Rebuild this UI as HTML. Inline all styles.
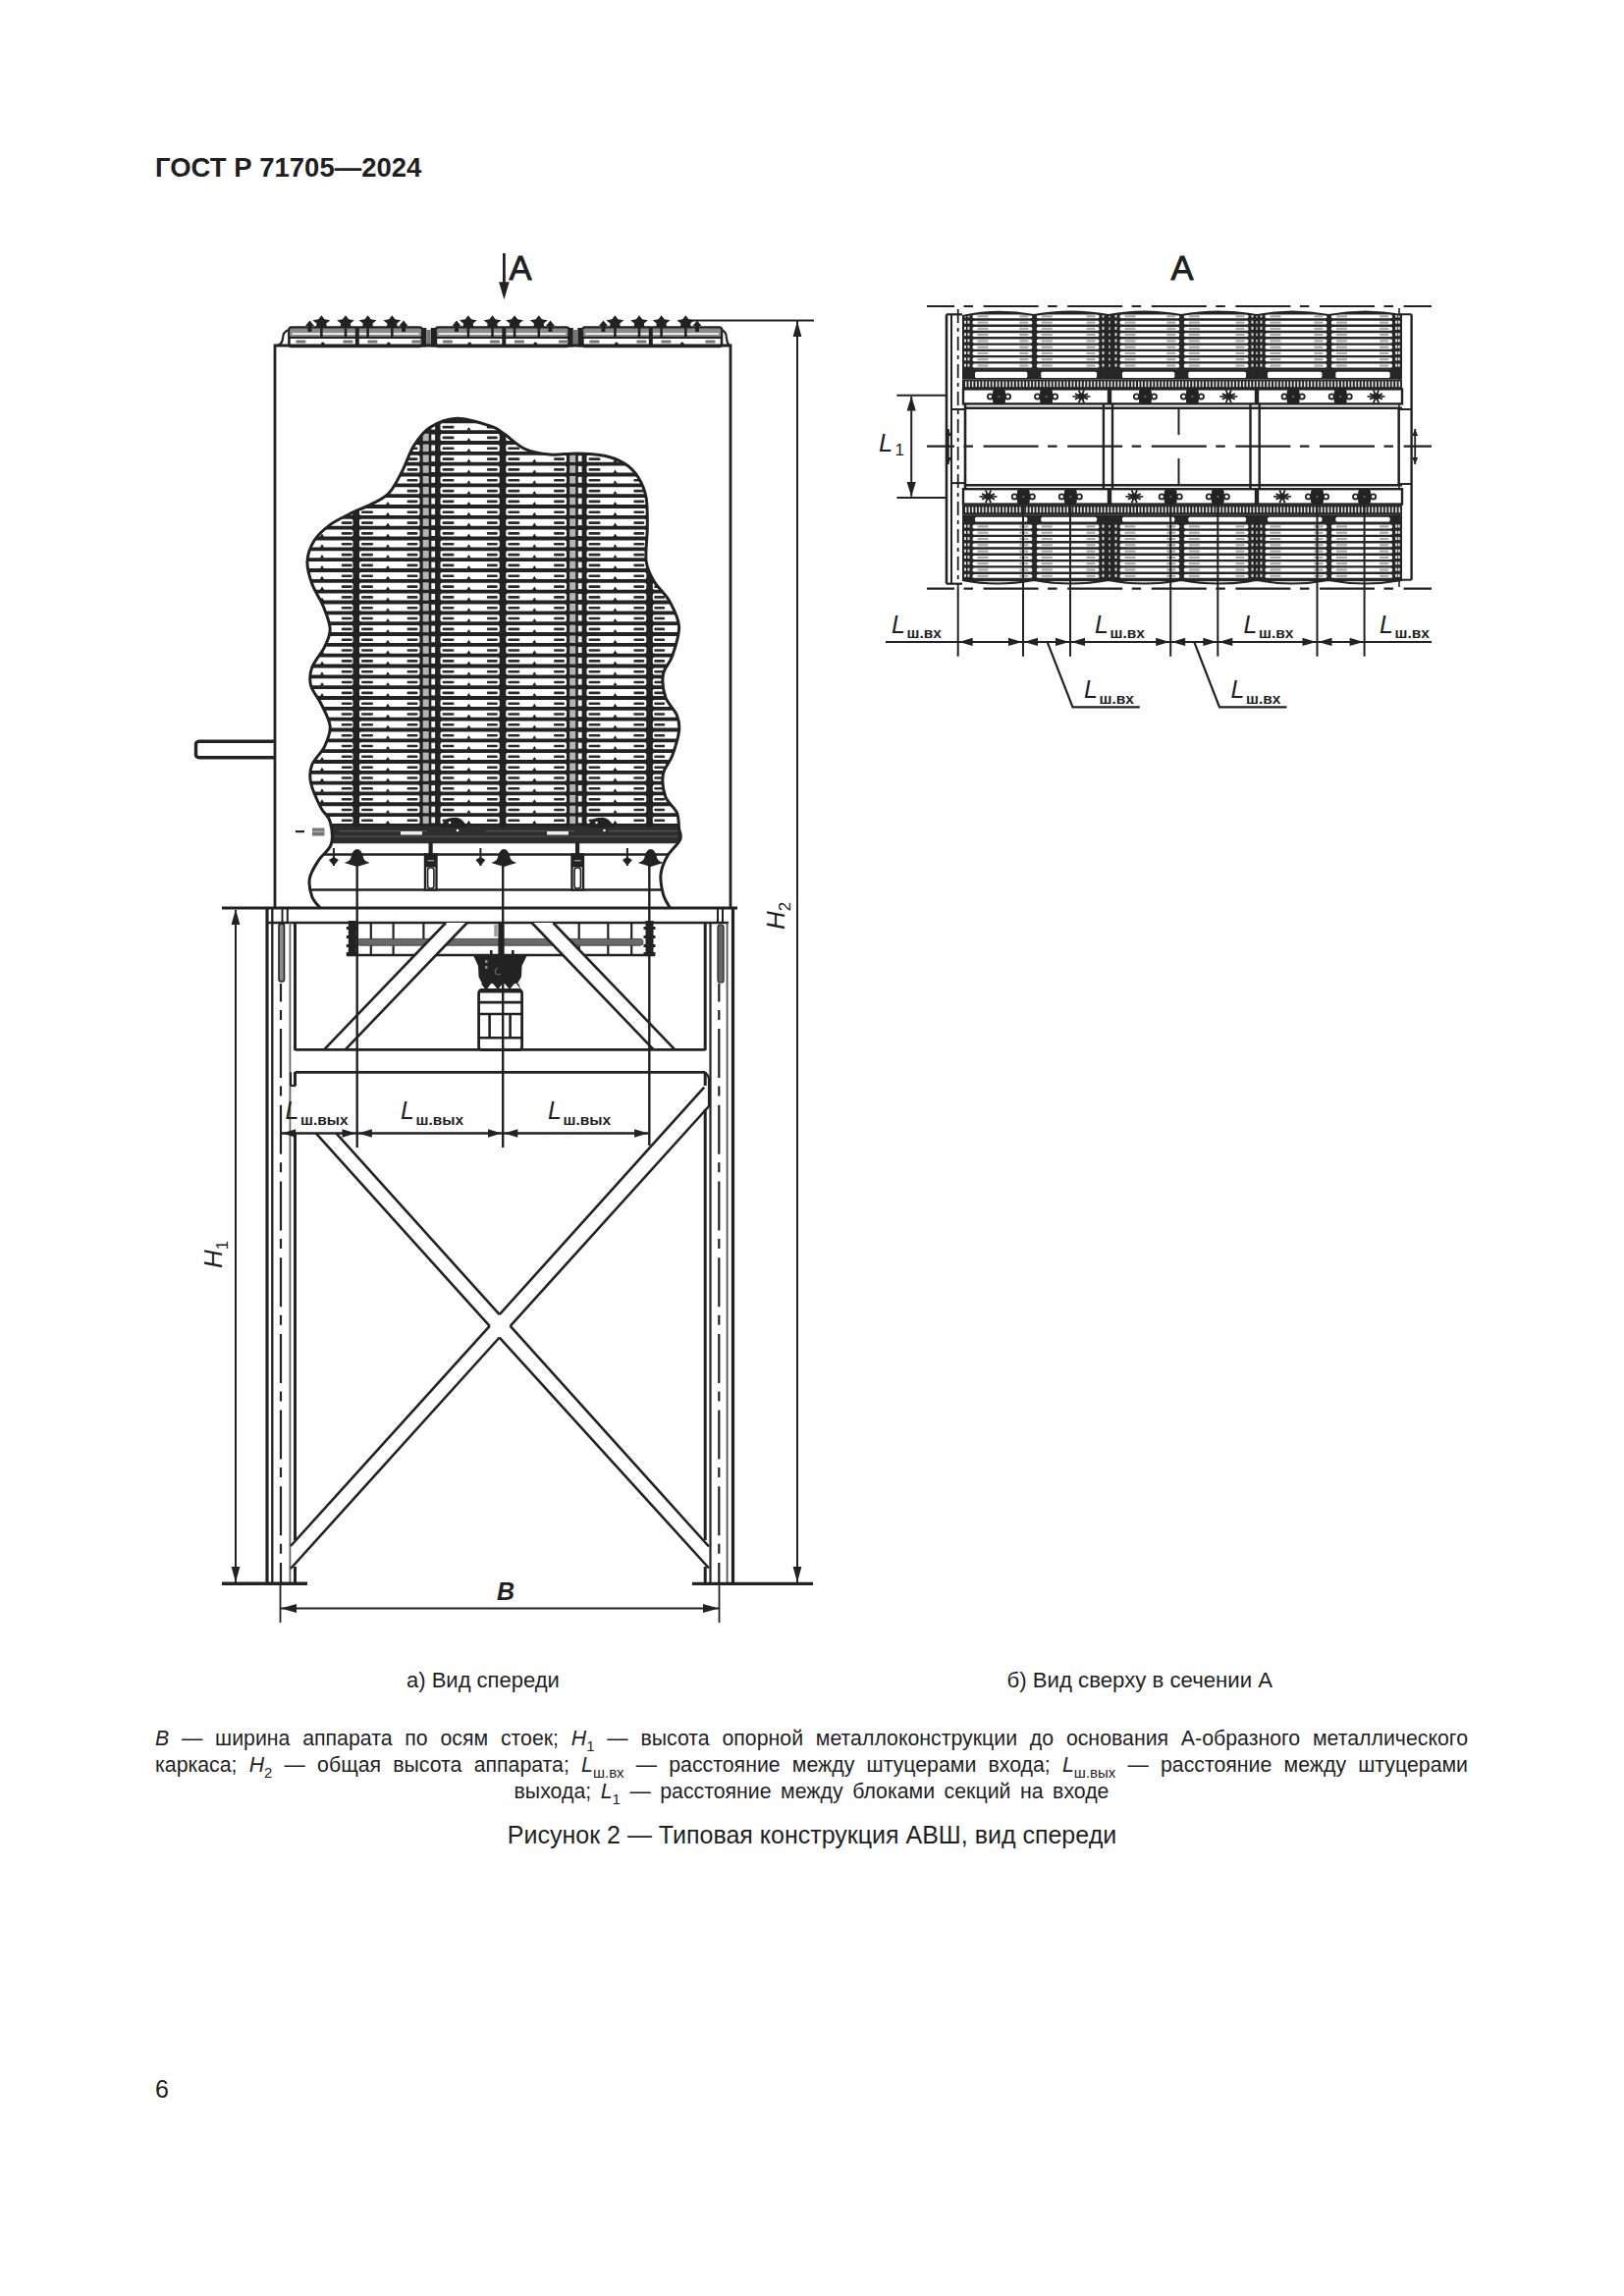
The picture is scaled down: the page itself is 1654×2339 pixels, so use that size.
<!DOCTYPE html>
<html><head><meta charset="utf-8">
<style>
html,body{margin:0;padding:0;background:#fff;}
body{width:1654px;height:2339px;position:relative;overflow:hidden;font-family:"Liberation Sans",sans-serif;color:#1f1f1f;}
svg{position:absolute;left:0;top:0;}
svg text{font-family:"Liberation Sans",sans-serif;fill:#1f1f1f;}
.t{position:absolute;white-space:nowrap;}
.p{position:absolute;left:158px;width:1337px;font-size:21.3px;line-height:27px;}
.p div{height:27px;white-space:nowrap;}
.c{word-spacing:3.6px;}
.j{text-align:justify;text-align-last:justify;white-space:normal!important;}
.c{text-align:center;}
sub{font-size:15px;vertical-align:baseline;position:relative;top:6px;line-height:0;}
</style></head><body>
<svg width="1654" height="2339" viewBox="0 0 1654 2339">
<line x1="513.4" y1="258.0" x2="513.4" y2="292.0" stroke="#222" stroke-width="2.8" />
<path d="M513.4,305.3 L508.1,287.3 L518.7,287.3 Z" fill="#222"/>
<text x="518.5" y="284.7" font-size="34.5" text-anchor="start" style="" stroke="#1f1f1f" stroke-width="0.9">A</text>
<clipPath id="cl"><path d="M325.8,924.7 C324.4,922.8 319.4,918.2 317.7,913.2 C316.0,908.2 314.2,900.9 315.4,894.7 C316.5,888.5 321.0,882.0 324.6,876.2 C328.2,870.4 335.4,866.5 337.3,860.0 C339.2,853.5 337.9,843.1 336.2,837.0 C334.5,830.9 330.3,829.6 327.0,823.1 C323.7,816.6 318.2,805.0 316.6,797.7 C315.1,790.4 315.4,785.4 317.7,779.3 C320.0,773.1 327.3,767.3 330.4,760.8 C333.5,754.2 336.8,747.3 336.2,740.0 C335.6,732.7 330.3,723.9 327.0,717.0 C323.7,710.1 318.2,704.7 316.6,698.5 C315.1,692.3 315.4,686.5 317.7,680.0 C320.0,673.5 327.3,665.8 330.4,659.3 C333.5,652.8 336.4,647.7 336.2,640.8 C336.0,633.9 332.4,625.4 329.3,617.7 C326.2,610.0 320.4,602.3 317.7,594.6 C315.0,586.9 312.6,578.9 313.0,571.6 C313.4,564.3 316.1,557.0 320.0,550.8 C323.9,544.6 330.0,539.2 336.2,534.6 C342.4,530.0 350.1,526.6 357.0,523.1 C363.9,519.6 371.2,517.4 377.7,513.9 C384.2,510.4 390.8,508.1 396.2,502.3 C401.6,496.5 405.8,487.3 410.0,479.2 C414.2,471.1 417.0,461.2 421.6,453.9 C426.2,446.6 430.5,440.0 437.8,435.4 C445.1,430.8 455.1,426.4 465.5,426.2 C475.9,426.0 491.9,431.5 500.0,434.2 C508.1,436.9 508.0,438.4 513.8,442.3 C519.6,446.2 526.9,453.8 534.6,457.3 C542.3,460.8 551.1,462.3 560.0,463.1 C568.9,463.9 578.5,461.7 587.7,461.9 C596.9,462.1 607.3,462.5 615.4,464.2 C623.5,465.9 630.4,468.6 636.2,472.3 C642.0,476.0 646.4,480.4 650.0,486.2 C653.6,492.0 656.6,498.4 658.1,506.9 C659.6,515.4 659.3,526.2 659.3,537.0 C659.3,547.8 657.0,562.4 658.1,571.6 C659.2,580.8 662.2,585.4 666.2,592.3 C670.2,599.2 678.1,605.4 682.3,613.1 C686.5,620.8 691.2,629.3 691.6,638.5 C692.0,647.7 687.3,660.4 684.6,668.5 C681.9,676.6 676.5,680.1 675.4,687.0 C674.2,693.9 675.4,703.1 677.7,710.0 C680.0,716.9 687.0,722.7 689.3,728.5 C691.6,734.3 692.4,737.8 691.6,744.7 C690.8,751.6 687.3,762.7 684.6,770.0 C681.9,777.3 676.5,781.6 675.4,788.5 C674.2,795.4 675.4,805.1 677.7,811.6 C680.0,818.1 687.0,822.3 689.3,827.7 C691.6,833.1 691.0,839.3 691.6,843.9 C692.2,848.5 694.6,850.9 692.7,855.5 C690.8,860.1 683.3,865.9 680.0,871.6 C676.7,877.4 673.9,883.5 673.1,890.0 C672.3,896.5 673.9,905.0 675.4,910.8 C676.9,916.6 681.1,922.4 682.3,924.7 Z"/></clipPath>
<g clip-path="url(#cl)">
<rect x="300.0" y="415.0" width="400.0" height="428.0" fill="#222" />
<rect x="301.0" y="420.5" width="58.5" height="7.0" rx="1.6" fill="#fff"/>
<rect x="347.7" y="423.0" width="11" height="2.6" rx="1.2" fill="#2a2a2a"/>
<path d="M325.8,427.8 L328.0,424.3 L330.2,427.8Z" fill="#222"/>
<rect x="366.0" y="420.5" width="61.5" height="7.0" rx="1.6" fill="#fff"/>
<rect x="368.0" y="423.0" width="12" height="2.6" rx="1.2" fill="#2a2a2a"/>
<rect x="414.5" y="423.0" width="11" height="2.6" rx="1.2" fill="#2a2a2a"/>
<path d="M392.8,427.8 L395.0,424.3 L397.2,427.8Z" fill="#222"/>
<rect x="448.5" y="420.5" width="60.3" height="7.0" rx="1.6" fill="#fff"/>
<rect x="450.5" y="423.0" width="12" height="2.6" rx="1.2" fill="#2a2a2a"/>
<rect x="495.8" y="423.0" width="11" height="2.6" rx="1.2" fill="#2a2a2a"/>
<path d="M475.3,427.8 L477.5,424.3 L479.7,427.8Z" fill="#222"/>
<rect x="515.3" y="420.5" width="61.7" height="7.0" rx="1.6" fill="#fff"/>
<rect x="517.3" y="423.0" width="12" height="2.6" rx="1.2" fill="#2a2a2a"/>
<rect x="564.0" y="423.0" width="11" height="2.6" rx="1.2" fill="#2a2a2a"/>
<path d="M542.1,427.8 L544.3,424.3 L546.5,427.8Z" fill="#222"/>
<rect x="597.5" y="420.5" width="60.8" height="7.0" rx="1.6" fill="#fff"/>
<rect x="599.5" y="423.0" width="12" height="2.6" rx="1.2" fill="#2a2a2a"/>
<rect x="645.3" y="423.0" width="11" height="2.6" rx="1.2" fill="#2a2a2a"/>
<path d="M624.3,427.8 L626.5,424.3 L628.7,427.8Z" fill="#222"/>
<rect x="664.8" y="420.5" width="39.2" height="7.0" rx="1.6" fill="#fff"/>
<rect x="666.2" y="423.0" width="11" height="2.6" rx="1.2" fill="#2a2a2a"/>
<rect x="301.0" y="431.3" width="58.5" height="7.0" rx="1.6" fill="#fff"/>
<rect x="347.7" y="433.8" width="11" height="2.6" rx="1.2" fill="#2a2a2a"/>
<path d="M325.8,438.6 L328.0,435.1 L330.2,438.6Z" fill="#222"/>
<rect x="366.0" y="431.3" width="61.5" height="7.0" rx="1.6" fill="#fff"/>
<rect x="368.0" y="433.8" width="12" height="2.6" rx="1.2" fill="#2a2a2a"/>
<rect x="414.5" y="433.8" width="11" height="2.6" rx="1.2" fill="#2a2a2a"/>
<path d="M392.8,438.6 L395.0,435.1 L397.2,438.6Z" fill="#222"/>
<rect x="448.5" y="431.3" width="60.3" height="7.0" rx="1.6" fill="#fff"/>
<rect x="450.5" y="433.8" width="12" height="2.6" rx="1.2" fill="#2a2a2a"/>
<rect x="495.8" y="433.8" width="11" height="2.6" rx="1.2" fill="#2a2a2a"/>
<path d="M475.3,438.6 L477.5,435.1 L479.7,438.6Z" fill="#222"/>
<rect x="515.3" y="431.3" width="61.7" height="7.0" rx="1.6" fill="#fff"/>
<rect x="517.3" y="433.8" width="12" height="2.6" rx="1.2" fill="#2a2a2a"/>
<rect x="564.0" y="433.8" width="11" height="2.6" rx="1.2" fill="#2a2a2a"/>
<path d="M542.1,438.6 L544.3,435.1 L546.5,438.6Z" fill="#222"/>
<rect x="597.5" y="431.3" width="60.8" height="7.0" rx="1.6" fill="#fff"/>
<rect x="599.5" y="433.8" width="12" height="2.6" rx="1.2" fill="#2a2a2a"/>
<rect x="645.3" y="433.8" width="11" height="2.6" rx="1.2" fill="#2a2a2a"/>
<path d="M624.3,438.6 L626.5,435.1 L628.7,438.6Z" fill="#222"/>
<rect x="664.8" y="431.3" width="39.2" height="7.0" rx="1.6" fill="#fff"/>
<rect x="666.2" y="433.8" width="11" height="2.6" rx="1.2" fill="#2a2a2a"/>
<rect x="301.0" y="442.1" width="58.5" height="7.0" rx="1.6" fill="#fff"/>
<rect x="347.7" y="444.6" width="11" height="2.6" rx="1.2" fill="#2a2a2a"/>
<path d="M325.8,449.5 L328.0,446.0 L330.2,449.5Z" fill="#222"/>
<rect x="366.0" y="442.1" width="61.5" height="7.0" rx="1.6" fill="#fff"/>
<rect x="368.0" y="444.6" width="12" height="2.6" rx="1.2" fill="#2a2a2a"/>
<rect x="414.5" y="444.6" width="11" height="2.6" rx="1.2" fill="#2a2a2a"/>
<path d="M392.8,449.5 L395.0,446.0 L397.2,449.5Z" fill="#222"/>
<rect x="448.5" y="442.1" width="60.3" height="7.0" rx="1.6" fill="#fff"/>
<rect x="450.5" y="444.6" width="12" height="2.6" rx="1.2" fill="#2a2a2a"/>
<rect x="495.8" y="444.6" width="11" height="2.6" rx="1.2" fill="#2a2a2a"/>
<path d="M475.3,449.5 L477.5,446.0 L479.7,449.5Z" fill="#222"/>
<rect x="515.3" y="442.1" width="61.7" height="7.0" rx="1.6" fill="#fff"/>
<rect x="517.3" y="444.6" width="12" height="2.6" rx="1.2" fill="#2a2a2a"/>
<rect x="564.0" y="444.6" width="11" height="2.6" rx="1.2" fill="#2a2a2a"/>
<path d="M542.1,449.5 L544.3,446.0 L546.5,449.5Z" fill="#222"/>
<rect x="597.5" y="442.1" width="60.8" height="7.0" rx="1.6" fill="#fff"/>
<rect x="599.5" y="444.6" width="12" height="2.6" rx="1.2" fill="#2a2a2a"/>
<rect x="645.3" y="444.6" width="11" height="2.6" rx="1.2" fill="#2a2a2a"/>
<path d="M624.3,449.5 L626.5,446.0 L628.7,449.5Z" fill="#222"/>
<rect x="664.8" y="442.1" width="39.2" height="7.0" rx="1.6" fill="#fff"/>
<rect x="666.2" y="444.6" width="11" height="2.6" rx="1.2" fill="#2a2a2a"/>
<rect x="301.0" y="452.9" width="58.5" height="7.0" rx="1.6" fill="#fff"/>
<rect x="347.7" y="455.5" width="11" height="2.6" rx="1.2" fill="#2a2a2a"/>
<path d="M325.8,460.3 L328.0,456.8 L330.2,460.3Z" fill="#222"/>
<rect x="366.0" y="452.9" width="61.5" height="7.0" rx="1.6" fill="#fff"/>
<rect x="368.0" y="455.5" width="12" height="2.6" rx="1.2" fill="#2a2a2a"/>
<rect x="414.5" y="455.5" width="11" height="2.6" rx="1.2" fill="#2a2a2a"/>
<path d="M392.8,460.3 L395.0,456.8 L397.2,460.3Z" fill="#222"/>
<rect x="448.5" y="452.9" width="60.3" height="7.0" rx="1.6" fill="#fff"/>
<rect x="450.5" y="455.5" width="12" height="2.6" rx="1.2" fill="#2a2a2a"/>
<rect x="495.8" y="455.5" width="11" height="2.6" rx="1.2" fill="#2a2a2a"/>
<path d="M475.3,460.3 L477.5,456.8 L479.7,460.3Z" fill="#222"/>
<rect x="515.3" y="452.9" width="61.7" height="7.0" rx="1.6" fill="#fff"/>
<rect x="517.3" y="455.5" width="12" height="2.6" rx="1.2" fill="#2a2a2a"/>
<rect x="564.0" y="455.5" width="11" height="2.6" rx="1.2" fill="#2a2a2a"/>
<path d="M542.1,460.3 L544.3,456.8 L546.5,460.3Z" fill="#222"/>
<rect x="597.5" y="452.9" width="60.8" height="7.0" rx="1.6" fill="#fff"/>
<rect x="599.5" y="455.5" width="12" height="2.6" rx="1.2" fill="#2a2a2a"/>
<rect x="645.3" y="455.5" width="11" height="2.6" rx="1.2" fill="#2a2a2a"/>
<path d="M624.3,460.3 L626.5,456.8 L628.7,460.3Z" fill="#222"/>
<rect x="664.8" y="452.9" width="39.2" height="7.0" rx="1.6" fill="#fff"/>
<rect x="666.2" y="455.5" width="11" height="2.6" rx="1.2" fill="#2a2a2a"/>
<rect x="301.0" y="463.8" width="58.5" height="7.0" rx="1.6" fill="#fff"/>
<rect x="347.7" y="466.3" width="11" height="2.6" rx="1.2" fill="#2a2a2a"/>
<path d="M325.8,471.1 L328.0,467.6 L330.2,471.1Z" fill="#222"/>
<rect x="366.0" y="463.8" width="61.5" height="7.0" rx="1.6" fill="#fff"/>
<rect x="368.0" y="466.3" width="12" height="2.6" rx="1.2" fill="#2a2a2a"/>
<rect x="414.5" y="466.3" width="11" height="2.6" rx="1.2" fill="#2a2a2a"/>
<path d="M392.8,471.1 L395.0,467.6 L397.2,471.1Z" fill="#222"/>
<rect x="448.5" y="463.8" width="60.3" height="7.0" rx="1.6" fill="#fff"/>
<rect x="450.5" y="466.3" width="12" height="2.6" rx="1.2" fill="#2a2a2a"/>
<rect x="495.8" y="466.3" width="11" height="2.6" rx="1.2" fill="#2a2a2a"/>
<path d="M475.3,471.1 L477.5,467.6 L479.7,471.1Z" fill="#222"/>
<rect x="515.3" y="463.8" width="61.7" height="7.0" rx="1.6" fill="#fff"/>
<rect x="517.3" y="466.3" width="12" height="2.6" rx="1.2" fill="#2a2a2a"/>
<rect x="564.0" y="466.3" width="11" height="2.6" rx="1.2" fill="#2a2a2a"/>
<path d="M542.1,471.1 L544.3,467.6 L546.5,471.1Z" fill="#222"/>
<rect x="597.5" y="463.8" width="60.8" height="7.0" rx="1.6" fill="#fff"/>
<rect x="599.5" y="466.3" width="12" height="2.6" rx="1.2" fill="#2a2a2a"/>
<rect x="645.3" y="466.3" width="11" height="2.6" rx="1.2" fill="#2a2a2a"/>
<path d="M624.3,471.1 L626.5,467.6 L628.7,471.1Z" fill="#222"/>
<rect x="664.8" y="463.8" width="39.2" height="7.0" rx="1.6" fill="#fff"/>
<rect x="666.2" y="466.3" width="11" height="2.6" rx="1.2" fill="#2a2a2a"/>
<rect x="301.0" y="474.6" width="58.5" height="7.0" rx="1.6" fill="#fff"/>
<rect x="347.7" y="477.1" width="11" height="2.6" rx="1.2" fill="#2a2a2a"/>
<path d="M325.8,481.9 L328.0,478.4 L330.2,481.9Z" fill="#222"/>
<rect x="366.0" y="474.6" width="61.5" height="7.0" rx="1.6" fill="#fff"/>
<rect x="368.0" y="477.1" width="12" height="2.6" rx="1.2" fill="#2a2a2a"/>
<rect x="414.5" y="477.1" width="11" height="2.6" rx="1.2" fill="#2a2a2a"/>
<path d="M392.8,481.9 L395.0,478.4 L397.2,481.9Z" fill="#222"/>
<rect x="448.5" y="474.6" width="60.3" height="7.0" rx="1.6" fill="#fff"/>
<rect x="450.5" y="477.1" width="12" height="2.6" rx="1.2" fill="#2a2a2a"/>
<rect x="495.8" y="477.1" width="11" height="2.6" rx="1.2" fill="#2a2a2a"/>
<path d="M475.3,481.9 L477.5,478.4 L479.7,481.9Z" fill="#222"/>
<rect x="515.3" y="474.6" width="61.7" height="7.0" rx="1.6" fill="#fff"/>
<rect x="517.3" y="477.1" width="12" height="2.6" rx="1.2" fill="#2a2a2a"/>
<rect x="564.0" y="477.1" width="11" height="2.6" rx="1.2" fill="#2a2a2a"/>
<path d="M542.1,481.9 L544.3,478.4 L546.5,481.9Z" fill="#222"/>
<rect x="597.5" y="474.6" width="60.8" height="7.0" rx="1.6" fill="#fff"/>
<rect x="599.5" y="477.1" width="12" height="2.6" rx="1.2" fill="#2a2a2a"/>
<rect x="645.3" y="477.1" width="11" height="2.6" rx="1.2" fill="#2a2a2a"/>
<path d="M624.3,481.9 L626.5,478.4 L628.7,481.9Z" fill="#222"/>
<rect x="664.8" y="474.6" width="39.2" height="7.0" rx="1.6" fill="#fff"/>
<rect x="666.2" y="477.1" width="11" height="2.6" rx="1.2" fill="#2a2a2a"/>
<rect x="301.0" y="485.4" width="58.5" height="7.0" rx="1.6" fill="#fff"/>
<rect x="347.7" y="488.0" width="11" height="2.6" rx="1.2" fill="#2a2a2a"/>
<path d="M325.8,492.8 L328.0,489.3 L330.2,492.8Z" fill="#222"/>
<rect x="366.0" y="485.4" width="61.5" height="7.0" rx="1.6" fill="#fff"/>
<rect x="368.0" y="488.0" width="12" height="2.6" rx="1.2" fill="#2a2a2a"/>
<rect x="414.5" y="488.0" width="11" height="2.6" rx="1.2" fill="#2a2a2a"/>
<path d="M392.8,492.8 L395.0,489.3 L397.2,492.8Z" fill="#222"/>
<rect x="448.5" y="485.4" width="60.3" height="7.0" rx="1.6" fill="#fff"/>
<rect x="450.5" y="488.0" width="12" height="2.6" rx="1.2" fill="#2a2a2a"/>
<rect x="495.8" y="488.0" width="11" height="2.6" rx="1.2" fill="#2a2a2a"/>
<path d="M475.3,492.8 L477.5,489.3 L479.7,492.8Z" fill="#222"/>
<rect x="515.3" y="485.4" width="61.7" height="7.0" rx="1.6" fill="#fff"/>
<rect x="517.3" y="488.0" width="12" height="2.6" rx="1.2" fill="#2a2a2a"/>
<rect x="564.0" y="488.0" width="11" height="2.6" rx="1.2" fill="#2a2a2a"/>
<path d="M542.1,492.8 L544.3,489.3 L546.5,492.8Z" fill="#222"/>
<rect x="597.5" y="485.4" width="60.8" height="7.0" rx="1.6" fill="#fff"/>
<rect x="599.5" y="488.0" width="12" height="2.6" rx="1.2" fill="#2a2a2a"/>
<rect x="645.3" y="488.0" width="11" height="2.6" rx="1.2" fill="#2a2a2a"/>
<path d="M624.3,492.8 L626.5,489.3 L628.7,492.8Z" fill="#222"/>
<rect x="664.8" y="485.4" width="39.2" height="7.0" rx="1.6" fill="#fff"/>
<rect x="666.2" y="488.0" width="11" height="2.6" rx="1.2" fill="#2a2a2a"/>
<rect x="301.0" y="496.3" width="58.5" height="7.0" rx="1.6" fill="#fff"/>
<rect x="347.7" y="498.8" width="11" height="2.6" rx="1.2" fill="#2a2a2a"/>
<path d="M325.8,503.6 L328.0,500.1 L330.2,503.6Z" fill="#222"/>
<rect x="366.0" y="496.3" width="61.5" height="7.0" rx="1.6" fill="#fff"/>
<rect x="368.0" y="498.8" width="12" height="2.6" rx="1.2" fill="#2a2a2a"/>
<rect x="414.5" y="498.8" width="11" height="2.6" rx="1.2" fill="#2a2a2a"/>
<path d="M392.8,503.6 L395.0,500.1 L397.2,503.6Z" fill="#222"/>
<rect x="448.5" y="496.3" width="60.3" height="7.0" rx="1.6" fill="#fff"/>
<rect x="450.5" y="498.8" width="12" height="2.6" rx="1.2" fill="#2a2a2a"/>
<rect x="495.8" y="498.8" width="11" height="2.6" rx="1.2" fill="#2a2a2a"/>
<path d="M475.3,503.6 L477.5,500.1 L479.7,503.6Z" fill="#222"/>
<rect x="515.3" y="496.3" width="61.7" height="7.0" rx="1.6" fill="#fff"/>
<rect x="517.3" y="498.8" width="12" height="2.6" rx="1.2" fill="#2a2a2a"/>
<rect x="564.0" y="498.8" width="11" height="2.6" rx="1.2" fill="#2a2a2a"/>
<path d="M542.1,503.6 L544.3,500.1 L546.5,503.6Z" fill="#222"/>
<rect x="597.5" y="496.3" width="60.8" height="7.0" rx="1.6" fill="#fff"/>
<rect x="599.5" y="498.8" width="12" height="2.6" rx="1.2" fill="#2a2a2a"/>
<rect x="645.3" y="498.8" width="11" height="2.6" rx="1.2" fill="#2a2a2a"/>
<path d="M624.3,503.6 L626.5,500.1 L628.7,503.6Z" fill="#222"/>
<rect x="664.8" y="496.3" width="39.2" height="7.0" rx="1.6" fill="#fff"/>
<rect x="666.2" y="498.8" width="11" height="2.6" rx="1.2" fill="#2a2a2a"/>
<rect x="301.0" y="507.1" width="58.5" height="7.0" rx="1.6" fill="#fff"/>
<rect x="347.7" y="509.6" width="11" height="2.6" rx="1.2" fill="#2a2a2a"/>
<path d="M325.8,514.4 L328.0,510.9 L330.2,514.4Z" fill="#222"/>
<rect x="366.0" y="507.1" width="61.5" height="7.0" rx="1.6" fill="#fff"/>
<rect x="368.0" y="509.6" width="12" height="2.6" rx="1.2" fill="#2a2a2a"/>
<rect x="414.5" y="509.6" width="11" height="2.6" rx="1.2" fill="#2a2a2a"/>
<path d="M392.8,514.4 L395.0,510.9 L397.2,514.4Z" fill="#222"/>
<rect x="448.5" y="507.1" width="60.3" height="7.0" rx="1.6" fill="#fff"/>
<rect x="450.5" y="509.6" width="12" height="2.6" rx="1.2" fill="#2a2a2a"/>
<rect x="495.8" y="509.6" width="11" height="2.6" rx="1.2" fill="#2a2a2a"/>
<path d="M475.3,514.4 L477.5,510.9 L479.7,514.4Z" fill="#222"/>
<rect x="515.3" y="507.1" width="61.7" height="7.0" rx="1.6" fill="#fff"/>
<rect x="517.3" y="509.6" width="12" height="2.6" rx="1.2" fill="#2a2a2a"/>
<rect x="564.0" y="509.6" width="11" height="2.6" rx="1.2" fill="#2a2a2a"/>
<path d="M542.1,514.4 L544.3,510.9 L546.5,514.4Z" fill="#222"/>
<rect x="597.5" y="507.1" width="60.8" height="7.0" rx="1.6" fill="#fff"/>
<rect x="599.5" y="509.6" width="12" height="2.6" rx="1.2" fill="#2a2a2a"/>
<rect x="645.3" y="509.6" width="11" height="2.6" rx="1.2" fill="#2a2a2a"/>
<path d="M624.3,514.4 L626.5,510.9 L628.7,514.4Z" fill="#222"/>
<rect x="664.8" y="507.1" width="39.2" height="7.0" rx="1.6" fill="#fff"/>
<rect x="666.2" y="509.6" width="11" height="2.6" rx="1.2" fill="#2a2a2a"/>
<rect x="301.0" y="517.9" width="58.5" height="7.0" rx="1.6" fill="#fff"/>
<rect x="347.7" y="520.4" width="11" height="2.6" rx="1.2" fill="#2a2a2a"/>
<path d="M325.8,525.3 L328.0,521.8 L330.2,525.3Z" fill="#222"/>
<rect x="366.0" y="517.9" width="61.5" height="7.0" rx="1.6" fill="#fff"/>
<rect x="368.0" y="520.4" width="12" height="2.6" rx="1.2" fill="#2a2a2a"/>
<rect x="414.5" y="520.4" width="11" height="2.6" rx="1.2" fill="#2a2a2a"/>
<path d="M392.8,525.3 L395.0,521.8 L397.2,525.3Z" fill="#222"/>
<rect x="448.5" y="517.9" width="60.3" height="7.0" rx="1.6" fill="#fff"/>
<rect x="450.5" y="520.4" width="12" height="2.6" rx="1.2" fill="#2a2a2a"/>
<rect x="495.8" y="520.4" width="11" height="2.6" rx="1.2" fill="#2a2a2a"/>
<path d="M475.3,525.3 L477.5,521.8 L479.7,525.3Z" fill="#222"/>
<rect x="515.3" y="517.9" width="61.7" height="7.0" rx="1.6" fill="#fff"/>
<rect x="517.3" y="520.4" width="12" height="2.6" rx="1.2" fill="#2a2a2a"/>
<rect x="564.0" y="520.4" width="11" height="2.6" rx="1.2" fill="#2a2a2a"/>
<path d="M542.1,525.3 L544.3,521.8 L546.5,525.3Z" fill="#222"/>
<rect x="597.5" y="517.9" width="60.8" height="7.0" rx="1.6" fill="#fff"/>
<rect x="599.5" y="520.4" width="12" height="2.6" rx="1.2" fill="#2a2a2a"/>
<rect x="645.3" y="520.4" width="11" height="2.6" rx="1.2" fill="#2a2a2a"/>
<path d="M624.3,525.3 L626.5,521.8 L628.7,525.3Z" fill="#222"/>
<rect x="664.8" y="517.9" width="39.2" height="7.0" rx="1.6" fill="#fff"/>
<rect x="666.2" y="520.4" width="11" height="2.6" rx="1.2" fill="#2a2a2a"/>
<rect x="301.0" y="528.8" width="58.5" height="7.0" rx="1.6" fill="#fff"/>
<rect x="347.7" y="531.3" width="11" height="2.6" rx="1.2" fill="#2a2a2a"/>
<path d="M325.8,536.1 L328.0,532.6 L330.2,536.1Z" fill="#222"/>
<rect x="366.0" y="528.8" width="61.5" height="7.0" rx="1.6" fill="#fff"/>
<rect x="368.0" y="531.3" width="12" height="2.6" rx="1.2" fill="#2a2a2a"/>
<rect x="414.5" y="531.3" width="11" height="2.6" rx="1.2" fill="#2a2a2a"/>
<path d="M392.8,536.1 L395.0,532.6 L397.2,536.1Z" fill="#222"/>
<rect x="448.5" y="528.8" width="60.3" height="7.0" rx="1.6" fill="#fff"/>
<rect x="450.5" y="531.3" width="12" height="2.6" rx="1.2" fill="#2a2a2a"/>
<rect x="495.8" y="531.3" width="11" height="2.6" rx="1.2" fill="#2a2a2a"/>
<path d="M475.3,536.1 L477.5,532.6 L479.7,536.1Z" fill="#222"/>
<rect x="515.3" y="528.8" width="61.7" height="7.0" rx="1.6" fill="#fff"/>
<rect x="517.3" y="531.3" width="12" height="2.6" rx="1.2" fill="#2a2a2a"/>
<rect x="564.0" y="531.3" width="11" height="2.6" rx="1.2" fill="#2a2a2a"/>
<path d="M542.1,536.1 L544.3,532.6 L546.5,536.1Z" fill="#222"/>
<rect x="597.5" y="528.8" width="60.8" height="7.0" rx="1.6" fill="#fff"/>
<rect x="599.5" y="531.3" width="12" height="2.6" rx="1.2" fill="#2a2a2a"/>
<rect x="645.3" y="531.3" width="11" height="2.6" rx="1.2" fill="#2a2a2a"/>
<path d="M624.3,536.1 L626.5,532.6 L628.7,536.1Z" fill="#222"/>
<rect x="664.8" y="528.8" width="39.2" height="7.0" rx="1.6" fill="#fff"/>
<rect x="666.2" y="531.3" width="11" height="2.6" rx="1.2" fill="#2a2a2a"/>
<rect x="301.0" y="539.6" width="58.5" height="7.0" rx="1.6" fill="#fff"/>
<rect x="347.7" y="542.1" width="11" height="2.6" rx="1.2" fill="#2a2a2a"/>
<path d="M325.8,546.9 L328.0,543.4 L330.2,546.9Z" fill="#222"/>
<rect x="366.0" y="539.6" width="61.5" height="7.0" rx="1.6" fill="#fff"/>
<rect x="368.0" y="542.1" width="12" height="2.6" rx="1.2" fill="#2a2a2a"/>
<rect x="414.5" y="542.1" width="11" height="2.6" rx="1.2" fill="#2a2a2a"/>
<path d="M392.8,546.9 L395.0,543.4 L397.2,546.9Z" fill="#222"/>
<rect x="448.5" y="539.6" width="60.3" height="7.0" rx="1.6" fill="#fff"/>
<rect x="450.5" y="542.1" width="12" height="2.6" rx="1.2" fill="#2a2a2a"/>
<rect x="495.8" y="542.1" width="11" height="2.6" rx="1.2" fill="#2a2a2a"/>
<path d="M475.3,546.9 L477.5,543.4 L479.7,546.9Z" fill="#222"/>
<rect x="515.3" y="539.6" width="61.7" height="7.0" rx="1.6" fill="#fff"/>
<rect x="517.3" y="542.1" width="12" height="2.6" rx="1.2" fill="#2a2a2a"/>
<rect x="564.0" y="542.1" width="11" height="2.6" rx="1.2" fill="#2a2a2a"/>
<path d="M542.1,546.9 L544.3,543.4 L546.5,546.9Z" fill="#222"/>
<rect x="597.5" y="539.6" width="60.8" height="7.0" rx="1.6" fill="#fff"/>
<rect x="599.5" y="542.1" width="12" height="2.6" rx="1.2" fill="#2a2a2a"/>
<rect x="645.3" y="542.1" width="11" height="2.6" rx="1.2" fill="#2a2a2a"/>
<path d="M624.3,546.9 L626.5,543.4 L628.7,546.9Z" fill="#222"/>
<rect x="664.8" y="539.6" width="39.2" height="7.0" rx="1.6" fill="#fff"/>
<rect x="666.2" y="542.1" width="11" height="2.6" rx="1.2" fill="#2a2a2a"/>
<rect x="301.0" y="550.4" width="58.5" height="7.0" rx="1.6" fill="#fff"/>
<rect x="347.7" y="552.9" width="11" height="2.6" rx="1.2" fill="#2a2a2a"/>
<path d="M325.8,557.8 L328.0,554.2 L330.2,557.8Z" fill="#222"/>
<rect x="366.0" y="550.4" width="61.5" height="7.0" rx="1.6" fill="#fff"/>
<rect x="368.0" y="552.9" width="12" height="2.6" rx="1.2" fill="#2a2a2a"/>
<rect x="414.5" y="552.9" width="11" height="2.6" rx="1.2" fill="#2a2a2a"/>
<path d="M392.8,557.8 L395.0,554.2 L397.2,557.8Z" fill="#222"/>
<rect x="448.5" y="550.4" width="60.3" height="7.0" rx="1.6" fill="#fff"/>
<rect x="450.5" y="552.9" width="12" height="2.6" rx="1.2" fill="#2a2a2a"/>
<rect x="495.8" y="552.9" width="11" height="2.6" rx="1.2" fill="#2a2a2a"/>
<path d="M475.3,557.8 L477.5,554.2 L479.7,557.8Z" fill="#222"/>
<rect x="515.3" y="550.4" width="61.7" height="7.0" rx="1.6" fill="#fff"/>
<rect x="517.3" y="552.9" width="12" height="2.6" rx="1.2" fill="#2a2a2a"/>
<rect x="564.0" y="552.9" width="11" height="2.6" rx="1.2" fill="#2a2a2a"/>
<path d="M542.1,557.8 L544.3,554.2 L546.5,557.8Z" fill="#222"/>
<rect x="597.5" y="550.4" width="60.8" height="7.0" rx="1.6" fill="#fff"/>
<rect x="599.5" y="552.9" width="12" height="2.6" rx="1.2" fill="#2a2a2a"/>
<rect x="645.3" y="552.9" width="11" height="2.6" rx="1.2" fill="#2a2a2a"/>
<path d="M624.3,557.8 L626.5,554.2 L628.7,557.8Z" fill="#222"/>
<rect x="664.8" y="550.4" width="39.2" height="7.0" rx="1.6" fill="#fff"/>
<rect x="666.2" y="552.9" width="11" height="2.6" rx="1.2" fill="#2a2a2a"/>
<rect x="301.0" y="561.2" width="58.5" height="7.0" rx="1.6" fill="#fff"/>
<rect x="347.7" y="563.8" width="11" height="2.6" rx="1.2" fill="#2a2a2a"/>
<path d="M325.8,568.6 L328.0,565.1 L330.2,568.6Z" fill="#222"/>
<rect x="366.0" y="561.2" width="61.5" height="7.0" rx="1.6" fill="#fff"/>
<rect x="368.0" y="563.8" width="12" height="2.6" rx="1.2" fill="#2a2a2a"/>
<rect x="414.5" y="563.8" width="11" height="2.6" rx="1.2" fill="#2a2a2a"/>
<path d="M392.8,568.6 L395.0,565.1 L397.2,568.6Z" fill="#222"/>
<rect x="448.5" y="561.2" width="60.3" height="7.0" rx="1.6" fill="#fff"/>
<rect x="450.5" y="563.8" width="12" height="2.6" rx="1.2" fill="#2a2a2a"/>
<rect x="495.8" y="563.8" width="11" height="2.6" rx="1.2" fill="#2a2a2a"/>
<path d="M475.3,568.6 L477.5,565.1 L479.7,568.6Z" fill="#222"/>
<rect x="515.3" y="561.2" width="61.7" height="7.0" rx="1.6" fill="#fff"/>
<rect x="517.3" y="563.8" width="12" height="2.6" rx="1.2" fill="#2a2a2a"/>
<rect x="564.0" y="563.8" width="11" height="2.6" rx="1.2" fill="#2a2a2a"/>
<path d="M542.1,568.6 L544.3,565.1 L546.5,568.6Z" fill="#222"/>
<rect x="597.5" y="561.2" width="60.8" height="7.0" rx="1.6" fill="#fff"/>
<rect x="599.5" y="563.8" width="12" height="2.6" rx="1.2" fill="#2a2a2a"/>
<rect x="645.3" y="563.8" width="11" height="2.6" rx="1.2" fill="#2a2a2a"/>
<path d="M624.3,568.6 L626.5,565.1 L628.7,568.6Z" fill="#222"/>
<rect x="664.8" y="561.2" width="39.2" height="7.0" rx="1.6" fill="#fff"/>
<rect x="666.2" y="563.8" width="11" height="2.6" rx="1.2" fill="#2a2a2a"/>
<rect x="301.0" y="572.1" width="58.5" height="7.0" rx="1.6" fill="#fff"/>
<rect x="347.7" y="574.6" width="11" height="2.6" rx="1.2" fill="#2a2a2a"/>
<path d="M325.8,579.4 L328.0,575.9 L330.2,579.4Z" fill="#222"/>
<rect x="366.0" y="572.1" width="61.5" height="7.0" rx="1.6" fill="#fff"/>
<rect x="368.0" y="574.6" width="12" height="2.6" rx="1.2" fill="#2a2a2a"/>
<rect x="414.5" y="574.6" width="11" height="2.6" rx="1.2" fill="#2a2a2a"/>
<path d="M392.8,579.4 L395.0,575.9 L397.2,579.4Z" fill="#222"/>
<rect x="448.5" y="572.1" width="60.3" height="7.0" rx="1.6" fill="#fff"/>
<rect x="450.5" y="574.6" width="12" height="2.6" rx="1.2" fill="#2a2a2a"/>
<rect x="495.8" y="574.6" width="11" height="2.6" rx="1.2" fill="#2a2a2a"/>
<path d="M475.3,579.4 L477.5,575.9 L479.7,579.4Z" fill="#222"/>
<rect x="515.3" y="572.1" width="61.7" height="7.0" rx="1.6" fill="#fff"/>
<rect x="517.3" y="574.6" width="12" height="2.6" rx="1.2" fill="#2a2a2a"/>
<rect x="564.0" y="574.6" width="11" height="2.6" rx="1.2" fill="#2a2a2a"/>
<path d="M542.1,579.4 L544.3,575.9 L546.5,579.4Z" fill="#222"/>
<rect x="597.5" y="572.1" width="60.8" height="7.0" rx="1.6" fill="#fff"/>
<rect x="599.5" y="574.6" width="12" height="2.6" rx="1.2" fill="#2a2a2a"/>
<rect x="645.3" y="574.6" width="11" height="2.6" rx="1.2" fill="#2a2a2a"/>
<path d="M624.3,579.4 L626.5,575.9 L628.7,579.4Z" fill="#222"/>
<rect x="664.8" y="572.1" width="39.2" height="7.0" rx="1.6" fill="#fff"/>
<rect x="666.2" y="574.6" width="11" height="2.6" rx="1.2" fill="#2a2a2a"/>
<rect x="301.0" y="582.9" width="58.5" height="7.0" rx="1.6" fill="#fff"/>
<rect x="347.7" y="585.4" width="11" height="2.6" rx="1.2" fill="#2a2a2a"/>
<path d="M325.8,590.2 L328.0,586.7 L330.2,590.2Z" fill="#222"/>
<rect x="366.0" y="582.9" width="61.5" height="7.0" rx="1.6" fill="#fff"/>
<rect x="368.0" y="585.4" width="12" height="2.6" rx="1.2" fill="#2a2a2a"/>
<rect x="414.5" y="585.4" width="11" height="2.6" rx="1.2" fill="#2a2a2a"/>
<path d="M392.8,590.2 L395.0,586.7 L397.2,590.2Z" fill="#222"/>
<rect x="448.5" y="582.9" width="60.3" height="7.0" rx="1.6" fill="#fff"/>
<rect x="450.5" y="585.4" width="12" height="2.6" rx="1.2" fill="#2a2a2a"/>
<rect x="495.8" y="585.4" width="11" height="2.6" rx="1.2" fill="#2a2a2a"/>
<path d="M475.3,590.2 L477.5,586.7 L479.7,590.2Z" fill="#222"/>
<rect x="515.3" y="582.9" width="61.7" height="7.0" rx="1.6" fill="#fff"/>
<rect x="517.3" y="585.4" width="12" height="2.6" rx="1.2" fill="#2a2a2a"/>
<rect x="564.0" y="585.4" width="11" height="2.6" rx="1.2" fill="#2a2a2a"/>
<path d="M542.1,590.2 L544.3,586.7 L546.5,590.2Z" fill="#222"/>
<rect x="597.5" y="582.9" width="60.8" height="7.0" rx="1.6" fill="#fff"/>
<rect x="599.5" y="585.4" width="12" height="2.6" rx="1.2" fill="#2a2a2a"/>
<rect x="645.3" y="585.4" width="11" height="2.6" rx="1.2" fill="#2a2a2a"/>
<path d="M624.3,590.2 L626.5,586.7 L628.7,590.2Z" fill="#222"/>
<rect x="664.8" y="582.9" width="39.2" height="7.0" rx="1.6" fill="#fff"/>
<rect x="666.2" y="585.4" width="11" height="2.6" rx="1.2" fill="#2a2a2a"/>
<rect x="301.0" y="593.7" width="58.5" height="7.0" rx="1.6" fill="#fff"/>
<rect x="347.7" y="596.3" width="11" height="2.6" rx="1.2" fill="#2a2a2a"/>
<path d="M325.8,601.1 L328.0,597.6 L330.2,601.1Z" fill="#222"/>
<rect x="366.0" y="593.7" width="61.5" height="7.0" rx="1.6" fill="#fff"/>
<rect x="368.0" y="596.3" width="12" height="2.6" rx="1.2" fill="#2a2a2a"/>
<rect x="414.5" y="596.3" width="11" height="2.6" rx="1.2" fill="#2a2a2a"/>
<path d="M392.8,601.1 L395.0,597.6 L397.2,601.1Z" fill="#222"/>
<rect x="448.5" y="593.7" width="60.3" height="7.0" rx="1.6" fill="#fff"/>
<rect x="450.5" y="596.3" width="12" height="2.6" rx="1.2" fill="#2a2a2a"/>
<rect x="495.8" y="596.3" width="11" height="2.6" rx="1.2" fill="#2a2a2a"/>
<path d="M475.3,601.1 L477.5,597.6 L479.7,601.1Z" fill="#222"/>
<rect x="515.3" y="593.7" width="61.7" height="7.0" rx="1.6" fill="#fff"/>
<rect x="517.3" y="596.3" width="12" height="2.6" rx="1.2" fill="#2a2a2a"/>
<rect x="564.0" y="596.3" width="11" height="2.6" rx="1.2" fill="#2a2a2a"/>
<path d="M542.1,601.1 L544.3,597.6 L546.5,601.1Z" fill="#222"/>
<rect x="597.5" y="593.7" width="60.8" height="7.0" rx="1.6" fill="#fff"/>
<rect x="599.5" y="596.3" width="12" height="2.6" rx="1.2" fill="#2a2a2a"/>
<rect x="645.3" y="596.3" width="11" height="2.6" rx="1.2" fill="#2a2a2a"/>
<path d="M624.3,601.1 L626.5,597.6 L628.7,601.1Z" fill="#222"/>
<rect x="664.8" y="593.7" width="39.2" height="7.0" rx="1.6" fill="#fff"/>
<rect x="666.2" y="596.3" width="11" height="2.6" rx="1.2" fill="#2a2a2a"/>
<rect x="301.0" y="604.6" width="58.5" height="7.0" rx="1.6" fill="#fff"/>
<rect x="347.7" y="607.1" width="11" height="2.6" rx="1.2" fill="#2a2a2a"/>
<path d="M325.8,611.9 L328.0,608.4 L330.2,611.9Z" fill="#222"/>
<rect x="366.0" y="604.6" width="61.5" height="7.0" rx="1.6" fill="#fff"/>
<rect x="368.0" y="607.1" width="12" height="2.6" rx="1.2" fill="#2a2a2a"/>
<rect x="414.5" y="607.1" width="11" height="2.6" rx="1.2" fill="#2a2a2a"/>
<path d="M392.8,611.9 L395.0,608.4 L397.2,611.9Z" fill="#222"/>
<rect x="448.5" y="604.6" width="60.3" height="7.0" rx="1.6" fill="#fff"/>
<rect x="450.5" y="607.1" width="12" height="2.6" rx="1.2" fill="#2a2a2a"/>
<rect x="495.8" y="607.1" width="11" height="2.6" rx="1.2" fill="#2a2a2a"/>
<path d="M475.3,611.9 L477.5,608.4 L479.7,611.9Z" fill="#222"/>
<rect x="515.3" y="604.6" width="61.7" height="7.0" rx="1.6" fill="#fff"/>
<rect x="517.3" y="607.1" width="12" height="2.6" rx="1.2" fill="#2a2a2a"/>
<rect x="564.0" y="607.1" width="11" height="2.6" rx="1.2" fill="#2a2a2a"/>
<path d="M542.1,611.9 L544.3,608.4 L546.5,611.9Z" fill="#222"/>
<rect x="597.5" y="604.6" width="60.8" height="7.0" rx="1.6" fill="#fff"/>
<rect x="599.5" y="607.1" width="12" height="2.6" rx="1.2" fill="#2a2a2a"/>
<rect x="645.3" y="607.1" width="11" height="2.6" rx="1.2" fill="#2a2a2a"/>
<path d="M624.3,611.9 L626.5,608.4 L628.7,611.9Z" fill="#222"/>
<rect x="664.8" y="604.6" width="39.2" height="7.0" rx="1.6" fill="#fff"/>
<rect x="666.2" y="607.1" width="11" height="2.6" rx="1.2" fill="#2a2a2a"/>
<rect x="301.0" y="615.4" width="58.5" height="7.0" rx="1.6" fill="#fff"/>
<rect x="347.7" y="617.9" width="11" height="2.6" rx="1.2" fill="#2a2a2a"/>
<path d="M325.8,622.7 L328.0,619.2 L330.2,622.7Z" fill="#222"/>
<rect x="366.0" y="615.4" width="61.5" height="7.0" rx="1.6" fill="#fff"/>
<rect x="368.0" y="617.9" width="12" height="2.6" rx="1.2" fill="#2a2a2a"/>
<rect x="414.5" y="617.9" width="11" height="2.6" rx="1.2" fill="#2a2a2a"/>
<path d="M392.8,622.7 L395.0,619.2 L397.2,622.7Z" fill="#222"/>
<rect x="448.5" y="615.4" width="60.3" height="7.0" rx="1.6" fill="#fff"/>
<rect x="450.5" y="617.9" width="12" height="2.6" rx="1.2" fill="#2a2a2a"/>
<rect x="495.8" y="617.9" width="11" height="2.6" rx="1.2" fill="#2a2a2a"/>
<path d="M475.3,622.7 L477.5,619.2 L479.7,622.7Z" fill="#222"/>
<rect x="515.3" y="615.4" width="61.7" height="7.0" rx="1.6" fill="#fff"/>
<rect x="517.3" y="617.9" width="12" height="2.6" rx="1.2" fill="#2a2a2a"/>
<rect x="564.0" y="617.9" width="11" height="2.6" rx="1.2" fill="#2a2a2a"/>
<path d="M542.1,622.7 L544.3,619.2 L546.5,622.7Z" fill="#222"/>
<rect x="597.5" y="615.4" width="60.8" height="7.0" rx="1.6" fill="#fff"/>
<rect x="599.5" y="617.9" width="12" height="2.6" rx="1.2" fill="#2a2a2a"/>
<rect x="645.3" y="617.9" width="11" height="2.6" rx="1.2" fill="#2a2a2a"/>
<path d="M624.3,622.7 L626.5,619.2 L628.7,622.7Z" fill="#222"/>
<rect x="664.8" y="615.4" width="39.2" height="7.0" rx="1.6" fill="#fff"/>
<rect x="666.2" y="617.9" width="11" height="2.6" rx="1.2" fill="#2a2a2a"/>
<rect x="301.0" y="626.2" width="58.5" height="7.0" rx="1.6" fill="#fff"/>
<rect x="347.7" y="628.7" width="11" height="2.6" rx="1.2" fill="#2a2a2a"/>
<path d="M325.8,633.6 L328.0,630.1 L330.2,633.6Z" fill="#222"/>
<rect x="366.0" y="626.2" width="61.5" height="7.0" rx="1.6" fill="#fff"/>
<rect x="368.0" y="628.7" width="12" height="2.6" rx="1.2" fill="#2a2a2a"/>
<rect x="414.5" y="628.7" width="11" height="2.6" rx="1.2" fill="#2a2a2a"/>
<path d="M392.8,633.6 L395.0,630.1 L397.2,633.6Z" fill="#222"/>
<rect x="448.5" y="626.2" width="60.3" height="7.0" rx="1.6" fill="#fff"/>
<rect x="450.5" y="628.7" width="12" height="2.6" rx="1.2" fill="#2a2a2a"/>
<rect x="495.8" y="628.7" width="11" height="2.6" rx="1.2" fill="#2a2a2a"/>
<path d="M475.3,633.6 L477.5,630.1 L479.7,633.6Z" fill="#222"/>
<rect x="515.3" y="626.2" width="61.7" height="7.0" rx="1.6" fill="#fff"/>
<rect x="517.3" y="628.7" width="12" height="2.6" rx="1.2" fill="#2a2a2a"/>
<rect x="564.0" y="628.7" width="11" height="2.6" rx="1.2" fill="#2a2a2a"/>
<path d="M542.1,633.6 L544.3,630.1 L546.5,633.6Z" fill="#222"/>
<rect x="597.5" y="626.2" width="60.8" height="7.0" rx="1.6" fill="#fff"/>
<rect x="599.5" y="628.7" width="12" height="2.6" rx="1.2" fill="#2a2a2a"/>
<rect x="645.3" y="628.7" width="11" height="2.6" rx="1.2" fill="#2a2a2a"/>
<path d="M624.3,633.6 L626.5,630.1 L628.7,633.6Z" fill="#222"/>
<rect x="664.8" y="626.2" width="39.2" height="7.0" rx="1.6" fill="#fff"/>
<rect x="666.2" y="628.7" width="11" height="2.6" rx="1.2" fill="#2a2a2a"/>
<rect x="301.0" y="637.1" width="58.5" height="7.0" rx="1.6" fill="#fff"/>
<rect x="347.7" y="639.6" width="11" height="2.6" rx="1.2" fill="#2a2a2a"/>
<path d="M325.8,644.4 L328.0,640.9 L330.2,644.4Z" fill="#222"/>
<rect x="366.0" y="637.1" width="61.5" height="7.0" rx="1.6" fill="#fff"/>
<rect x="368.0" y="639.6" width="12" height="2.6" rx="1.2" fill="#2a2a2a"/>
<rect x="414.5" y="639.6" width="11" height="2.6" rx="1.2" fill="#2a2a2a"/>
<path d="M392.8,644.4 L395.0,640.9 L397.2,644.4Z" fill="#222"/>
<rect x="448.5" y="637.1" width="60.3" height="7.0" rx="1.6" fill="#fff"/>
<rect x="450.5" y="639.6" width="12" height="2.6" rx="1.2" fill="#2a2a2a"/>
<rect x="495.8" y="639.6" width="11" height="2.6" rx="1.2" fill="#2a2a2a"/>
<path d="M475.3,644.4 L477.5,640.9 L479.7,644.4Z" fill="#222"/>
<rect x="515.3" y="637.1" width="61.7" height="7.0" rx="1.6" fill="#fff"/>
<rect x="517.3" y="639.6" width="12" height="2.6" rx="1.2" fill="#2a2a2a"/>
<rect x="564.0" y="639.6" width="11" height="2.6" rx="1.2" fill="#2a2a2a"/>
<path d="M542.1,644.4 L544.3,640.9 L546.5,644.4Z" fill="#222"/>
<rect x="597.5" y="637.1" width="60.8" height="7.0" rx="1.6" fill="#fff"/>
<rect x="599.5" y="639.6" width="12" height="2.6" rx="1.2" fill="#2a2a2a"/>
<rect x="645.3" y="639.6" width="11" height="2.6" rx="1.2" fill="#2a2a2a"/>
<path d="M624.3,644.4 L626.5,640.9 L628.7,644.4Z" fill="#222"/>
<rect x="664.8" y="637.1" width="39.2" height="7.0" rx="1.6" fill="#fff"/>
<rect x="666.2" y="639.6" width="11" height="2.6" rx="1.2" fill="#2a2a2a"/>
<rect x="301.0" y="647.9" width="58.5" height="7.0" rx="1.6" fill="#fff"/>
<rect x="347.7" y="650.4" width="11" height="2.6" rx="1.2" fill="#2a2a2a"/>
<path d="M325.8,655.2 L328.0,651.7 L330.2,655.2Z" fill="#222"/>
<rect x="366.0" y="647.9" width="61.5" height="7.0" rx="1.6" fill="#fff"/>
<rect x="368.0" y="650.4" width="12" height="2.6" rx="1.2" fill="#2a2a2a"/>
<rect x="414.5" y="650.4" width="11" height="2.6" rx="1.2" fill="#2a2a2a"/>
<path d="M392.8,655.2 L395.0,651.7 L397.2,655.2Z" fill="#222"/>
<rect x="448.5" y="647.9" width="60.3" height="7.0" rx="1.6" fill="#fff"/>
<rect x="450.5" y="650.4" width="12" height="2.6" rx="1.2" fill="#2a2a2a"/>
<rect x="495.8" y="650.4" width="11" height="2.6" rx="1.2" fill="#2a2a2a"/>
<path d="M475.3,655.2 L477.5,651.7 L479.7,655.2Z" fill="#222"/>
<rect x="515.3" y="647.9" width="61.7" height="7.0" rx="1.6" fill="#fff"/>
<rect x="517.3" y="650.4" width="12" height="2.6" rx="1.2" fill="#2a2a2a"/>
<rect x="564.0" y="650.4" width="11" height="2.6" rx="1.2" fill="#2a2a2a"/>
<path d="M542.1,655.2 L544.3,651.7 L546.5,655.2Z" fill="#222"/>
<rect x="597.5" y="647.9" width="60.8" height="7.0" rx="1.6" fill="#fff"/>
<rect x="599.5" y="650.4" width="12" height="2.6" rx="1.2" fill="#2a2a2a"/>
<rect x="645.3" y="650.4" width="11" height="2.6" rx="1.2" fill="#2a2a2a"/>
<path d="M624.3,655.2 L626.5,651.7 L628.7,655.2Z" fill="#222"/>
<rect x="664.8" y="647.9" width="39.2" height="7.0" rx="1.6" fill="#fff"/>
<rect x="666.2" y="650.4" width="11" height="2.6" rx="1.2" fill="#2a2a2a"/>
<rect x="301.0" y="658.7" width="58.5" height="7.0" rx="1.6" fill="#fff"/>
<rect x="347.7" y="661.2" width="11" height="2.6" rx="1.2" fill="#2a2a2a"/>
<path d="M325.8,666.0 L328.0,662.5 L330.2,666.0Z" fill="#222"/>
<rect x="366.0" y="658.7" width="61.5" height="7.0" rx="1.6" fill="#fff"/>
<rect x="368.0" y="661.2" width="12" height="2.6" rx="1.2" fill="#2a2a2a"/>
<rect x="414.5" y="661.2" width="11" height="2.6" rx="1.2" fill="#2a2a2a"/>
<path d="M392.8,666.0 L395.0,662.5 L397.2,666.0Z" fill="#222"/>
<rect x="448.5" y="658.7" width="60.3" height="7.0" rx="1.6" fill="#fff"/>
<rect x="450.5" y="661.2" width="12" height="2.6" rx="1.2" fill="#2a2a2a"/>
<rect x="495.8" y="661.2" width="11" height="2.6" rx="1.2" fill="#2a2a2a"/>
<path d="M475.3,666.0 L477.5,662.5 L479.7,666.0Z" fill="#222"/>
<rect x="515.3" y="658.7" width="61.7" height="7.0" rx="1.6" fill="#fff"/>
<rect x="517.3" y="661.2" width="12" height="2.6" rx="1.2" fill="#2a2a2a"/>
<rect x="564.0" y="661.2" width="11" height="2.6" rx="1.2" fill="#2a2a2a"/>
<path d="M542.1,666.0 L544.3,662.5 L546.5,666.0Z" fill="#222"/>
<rect x="597.5" y="658.7" width="60.8" height="7.0" rx="1.6" fill="#fff"/>
<rect x="599.5" y="661.2" width="12" height="2.6" rx="1.2" fill="#2a2a2a"/>
<rect x="645.3" y="661.2" width="11" height="2.6" rx="1.2" fill="#2a2a2a"/>
<path d="M624.3,666.0 L626.5,662.5 L628.7,666.0Z" fill="#222"/>
<rect x="664.8" y="658.7" width="39.2" height="7.0" rx="1.6" fill="#fff"/>
<rect x="666.2" y="661.2" width="11" height="2.6" rx="1.2" fill="#2a2a2a"/>
<rect x="301.0" y="669.5" width="58.5" height="7.0" rx="1.6" fill="#fff"/>
<rect x="347.7" y="672.1" width="11" height="2.6" rx="1.2" fill="#2a2a2a"/>
<path d="M325.8,676.9 L328.0,673.4 L330.2,676.9Z" fill="#222"/>
<rect x="366.0" y="669.5" width="61.5" height="7.0" rx="1.6" fill="#fff"/>
<rect x="368.0" y="672.1" width="12" height="2.6" rx="1.2" fill="#2a2a2a"/>
<rect x="414.5" y="672.1" width="11" height="2.6" rx="1.2" fill="#2a2a2a"/>
<path d="M392.8,676.9 L395.0,673.4 L397.2,676.9Z" fill="#222"/>
<rect x="448.5" y="669.5" width="60.3" height="7.0" rx="1.6" fill="#fff"/>
<rect x="450.5" y="672.1" width="12" height="2.6" rx="1.2" fill="#2a2a2a"/>
<rect x="495.8" y="672.1" width="11" height="2.6" rx="1.2" fill="#2a2a2a"/>
<path d="M475.3,676.9 L477.5,673.4 L479.7,676.9Z" fill="#222"/>
<rect x="515.3" y="669.5" width="61.7" height="7.0" rx="1.6" fill="#fff"/>
<rect x="517.3" y="672.1" width="12" height="2.6" rx="1.2" fill="#2a2a2a"/>
<rect x="564.0" y="672.1" width="11" height="2.6" rx="1.2" fill="#2a2a2a"/>
<path d="M542.1,676.9 L544.3,673.4 L546.5,676.9Z" fill="#222"/>
<rect x="597.5" y="669.5" width="60.8" height="7.0" rx="1.6" fill="#fff"/>
<rect x="599.5" y="672.1" width="12" height="2.6" rx="1.2" fill="#2a2a2a"/>
<rect x="645.3" y="672.1" width="11" height="2.6" rx="1.2" fill="#2a2a2a"/>
<path d="M624.3,676.9 L626.5,673.4 L628.7,676.9Z" fill="#222"/>
<rect x="664.8" y="669.5" width="39.2" height="7.0" rx="1.6" fill="#fff"/>
<rect x="666.2" y="672.1" width="11" height="2.6" rx="1.2" fill="#2a2a2a"/>
<rect x="301.0" y="680.4" width="58.5" height="7.0" rx="1.6" fill="#fff"/>
<rect x="347.7" y="682.9" width="11" height="2.6" rx="1.2" fill="#2a2a2a"/>
<path d="M325.8,687.7 L328.0,684.2 L330.2,687.7Z" fill="#222"/>
<rect x="366.0" y="680.4" width="61.5" height="7.0" rx="1.6" fill="#fff"/>
<rect x="368.0" y="682.9" width="12" height="2.6" rx="1.2" fill="#2a2a2a"/>
<rect x="414.5" y="682.9" width="11" height="2.6" rx="1.2" fill="#2a2a2a"/>
<path d="M392.8,687.7 L395.0,684.2 L397.2,687.7Z" fill="#222"/>
<rect x="448.5" y="680.4" width="60.3" height="7.0" rx="1.6" fill="#fff"/>
<rect x="450.5" y="682.9" width="12" height="2.6" rx="1.2" fill="#2a2a2a"/>
<rect x="495.8" y="682.9" width="11" height="2.6" rx="1.2" fill="#2a2a2a"/>
<path d="M475.3,687.7 L477.5,684.2 L479.7,687.7Z" fill="#222"/>
<rect x="515.3" y="680.4" width="61.7" height="7.0" rx="1.6" fill="#fff"/>
<rect x="517.3" y="682.9" width="12" height="2.6" rx="1.2" fill="#2a2a2a"/>
<rect x="564.0" y="682.9" width="11" height="2.6" rx="1.2" fill="#2a2a2a"/>
<path d="M542.1,687.7 L544.3,684.2 L546.5,687.7Z" fill="#222"/>
<rect x="597.5" y="680.4" width="60.8" height="7.0" rx="1.6" fill="#fff"/>
<rect x="599.5" y="682.9" width="12" height="2.6" rx="1.2" fill="#2a2a2a"/>
<rect x="645.3" y="682.9" width="11" height="2.6" rx="1.2" fill="#2a2a2a"/>
<path d="M624.3,687.7 L626.5,684.2 L628.7,687.7Z" fill="#222"/>
<rect x="664.8" y="680.4" width="39.2" height="7.0" rx="1.6" fill="#fff"/>
<rect x="666.2" y="682.9" width="11" height="2.6" rx="1.2" fill="#2a2a2a"/>
<rect x="301.0" y="691.2" width="58.5" height="7.0" rx="1.6" fill="#fff"/>
<rect x="347.7" y="693.7" width="11" height="2.6" rx="1.2" fill="#2a2a2a"/>
<path d="M325.8,698.5 L328.0,695.0 L330.2,698.5Z" fill="#222"/>
<rect x="366.0" y="691.2" width="61.5" height="7.0" rx="1.6" fill="#fff"/>
<rect x="368.0" y="693.7" width="12" height="2.6" rx="1.2" fill="#2a2a2a"/>
<rect x="414.5" y="693.7" width="11" height="2.6" rx="1.2" fill="#2a2a2a"/>
<path d="M392.8,698.5 L395.0,695.0 L397.2,698.5Z" fill="#222"/>
<rect x="448.5" y="691.2" width="60.3" height="7.0" rx="1.6" fill="#fff"/>
<rect x="450.5" y="693.7" width="12" height="2.6" rx="1.2" fill="#2a2a2a"/>
<rect x="495.8" y="693.7" width="11" height="2.6" rx="1.2" fill="#2a2a2a"/>
<path d="M475.3,698.5 L477.5,695.0 L479.7,698.5Z" fill="#222"/>
<rect x="515.3" y="691.2" width="61.7" height="7.0" rx="1.6" fill="#fff"/>
<rect x="517.3" y="693.7" width="12" height="2.6" rx="1.2" fill="#2a2a2a"/>
<rect x="564.0" y="693.7" width="11" height="2.6" rx="1.2" fill="#2a2a2a"/>
<path d="M542.1,698.5 L544.3,695.0 L546.5,698.5Z" fill="#222"/>
<rect x="597.5" y="691.2" width="60.8" height="7.0" rx="1.6" fill="#fff"/>
<rect x="599.5" y="693.7" width="12" height="2.6" rx="1.2" fill="#2a2a2a"/>
<rect x="645.3" y="693.7" width="11" height="2.6" rx="1.2" fill="#2a2a2a"/>
<path d="M624.3,698.5 L626.5,695.0 L628.7,698.5Z" fill="#222"/>
<rect x="664.8" y="691.2" width="39.2" height="7.0" rx="1.6" fill="#fff"/>
<rect x="666.2" y="693.7" width="11" height="2.6" rx="1.2" fill="#2a2a2a"/>
<rect x="301.0" y="702.0" width="58.5" height="7.0" rx="1.6" fill="#fff"/>
<rect x="347.7" y="704.6" width="11" height="2.6" rx="1.2" fill="#2a2a2a"/>
<path d="M325.8,709.4 L328.0,705.9 L330.2,709.4Z" fill="#222"/>
<rect x="366.0" y="702.0" width="61.5" height="7.0" rx="1.6" fill="#fff"/>
<rect x="368.0" y="704.6" width="12" height="2.6" rx="1.2" fill="#2a2a2a"/>
<rect x="414.5" y="704.6" width="11" height="2.6" rx="1.2" fill="#2a2a2a"/>
<path d="M392.8,709.4 L395.0,705.9 L397.2,709.4Z" fill="#222"/>
<rect x="448.5" y="702.0" width="60.3" height="7.0" rx="1.6" fill="#fff"/>
<rect x="450.5" y="704.6" width="12" height="2.6" rx="1.2" fill="#2a2a2a"/>
<rect x="495.8" y="704.6" width="11" height="2.6" rx="1.2" fill="#2a2a2a"/>
<path d="M475.3,709.4 L477.5,705.9 L479.7,709.4Z" fill="#222"/>
<rect x="515.3" y="702.0" width="61.7" height="7.0" rx="1.6" fill="#fff"/>
<rect x="517.3" y="704.6" width="12" height="2.6" rx="1.2" fill="#2a2a2a"/>
<rect x="564.0" y="704.6" width="11" height="2.6" rx="1.2" fill="#2a2a2a"/>
<path d="M542.1,709.4 L544.3,705.9 L546.5,709.4Z" fill="#222"/>
<rect x="597.5" y="702.0" width="60.8" height="7.0" rx="1.6" fill="#fff"/>
<rect x="599.5" y="704.6" width="12" height="2.6" rx="1.2" fill="#2a2a2a"/>
<rect x="645.3" y="704.6" width="11" height="2.6" rx="1.2" fill="#2a2a2a"/>
<path d="M624.3,709.4 L626.5,705.9 L628.7,709.4Z" fill="#222"/>
<rect x="664.8" y="702.0" width="39.2" height="7.0" rx="1.6" fill="#fff"/>
<rect x="666.2" y="704.6" width="11" height="2.6" rx="1.2" fill="#2a2a2a"/>
<rect x="301.0" y="712.9" width="58.5" height="7.0" rx="1.6" fill="#fff"/>
<rect x="347.7" y="715.4" width="11" height="2.6" rx="1.2" fill="#2a2a2a"/>
<path d="M325.8,720.2 L328.0,716.7 L330.2,720.2Z" fill="#222"/>
<rect x="366.0" y="712.9" width="61.5" height="7.0" rx="1.6" fill="#fff"/>
<rect x="368.0" y="715.4" width="12" height="2.6" rx="1.2" fill="#2a2a2a"/>
<rect x="414.5" y="715.4" width="11" height="2.6" rx="1.2" fill="#2a2a2a"/>
<path d="M392.8,720.2 L395.0,716.7 L397.2,720.2Z" fill="#222"/>
<rect x="448.5" y="712.9" width="60.3" height="7.0" rx="1.6" fill="#fff"/>
<rect x="450.5" y="715.4" width="12" height="2.6" rx="1.2" fill="#2a2a2a"/>
<rect x="495.8" y="715.4" width="11" height="2.6" rx="1.2" fill="#2a2a2a"/>
<path d="M475.3,720.2 L477.5,716.7 L479.7,720.2Z" fill="#222"/>
<rect x="515.3" y="712.9" width="61.7" height="7.0" rx="1.6" fill="#fff"/>
<rect x="517.3" y="715.4" width="12" height="2.6" rx="1.2" fill="#2a2a2a"/>
<rect x="564.0" y="715.4" width="11" height="2.6" rx="1.2" fill="#2a2a2a"/>
<path d="M542.1,720.2 L544.3,716.7 L546.5,720.2Z" fill="#222"/>
<rect x="597.5" y="712.9" width="60.8" height="7.0" rx="1.6" fill="#fff"/>
<rect x="599.5" y="715.4" width="12" height="2.6" rx="1.2" fill="#2a2a2a"/>
<rect x="645.3" y="715.4" width="11" height="2.6" rx="1.2" fill="#2a2a2a"/>
<path d="M624.3,720.2 L626.5,716.7 L628.7,720.2Z" fill="#222"/>
<rect x="664.8" y="712.9" width="39.2" height="7.0" rx="1.6" fill="#fff"/>
<rect x="666.2" y="715.4" width="11" height="2.6" rx="1.2" fill="#2a2a2a"/>
<rect x="301.0" y="723.7" width="58.5" height="7.0" rx="1.6" fill="#fff"/>
<rect x="347.7" y="726.2" width="11" height="2.6" rx="1.2" fill="#2a2a2a"/>
<path d="M325.8,731.0 L328.0,727.5 L330.2,731.0Z" fill="#222"/>
<rect x="366.0" y="723.7" width="61.5" height="7.0" rx="1.6" fill="#fff"/>
<rect x="368.0" y="726.2" width="12" height="2.6" rx="1.2" fill="#2a2a2a"/>
<rect x="414.5" y="726.2" width="11" height="2.6" rx="1.2" fill="#2a2a2a"/>
<path d="M392.8,731.0 L395.0,727.5 L397.2,731.0Z" fill="#222"/>
<rect x="448.5" y="723.7" width="60.3" height="7.0" rx="1.6" fill="#fff"/>
<rect x="450.5" y="726.2" width="12" height="2.6" rx="1.2" fill="#2a2a2a"/>
<rect x="495.8" y="726.2" width="11" height="2.6" rx="1.2" fill="#2a2a2a"/>
<path d="M475.3,731.0 L477.5,727.5 L479.7,731.0Z" fill="#222"/>
<rect x="515.3" y="723.7" width="61.7" height="7.0" rx="1.6" fill="#fff"/>
<rect x="517.3" y="726.2" width="12" height="2.6" rx="1.2" fill="#2a2a2a"/>
<rect x="564.0" y="726.2" width="11" height="2.6" rx="1.2" fill="#2a2a2a"/>
<path d="M542.1,731.0 L544.3,727.5 L546.5,731.0Z" fill="#222"/>
<rect x="597.5" y="723.7" width="60.8" height="7.0" rx="1.6" fill="#fff"/>
<rect x="599.5" y="726.2" width="12" height="2.6" rx="1.2" fill="#2a2a2a"/>
<rect x="645.3" y="726.2" width="11" height="2.6" rx="1.2" fill="#2a2a2a"/>
<path d="M624.3,731.0 L626.5,727.5 L628.7,731.0Z" fill="#222"/>
<rect x="664.8" y="723.7" width="39.2" height="7.0" rx="1.6" fill="#fff"/>
<rect x="666.2" y="726.2" width="11" height="2.6" rx="1.2" fill="#2a2a2a"/>
<rect x="301.0" y="734.5" width="58.5" height="7.0" rx="1.6" fill="#fff"/>
<rect x="347.7" y="737.0" width="11" height="2.6" rx="1.2" fill="#2a2a2a"/>
<path d="M325.8,741.9 L328.0,738.4 L330.2,741.9Z" fill="#222"/>
<rect x="366.0" y="734.5" width="61.5" height="7.0" rx="1.6" fill="#fff"/>
<rect x="368.0" y="737.0" width="12" height="2.6" rx="1.2" fill="#2a2a2a"/>
<rect x="414.5" y="737.0" width="11" height="2.6" rx="1.2" fill="#2a2a2a"/>
<path d="M392.8,741.9 L395.0,738.4 L397.2,741.9Z" fill="#222"/>
<rect x="448.5" y="734.5" width="60.3" height="7.0" rx="1.6" fill="#fff"/>
<rect x="450.5" y="737.0" width="12" height="2.6" rx="1.2" fill="#2a2a2a"/>
<rect x="495.8" y="737.0" width="11" height="2.6" rx="1.2" fill="#2a2a2a"/>
<path d="M475.3,741.9 L477.5,738.4 L479.7,741.9Z" fill="#222"/>
<rect x="515.3" y="734.5" width="61.7" height="7.0" rx="1.6" fill="#fff"/>
<rect x="517.3" y="737.0" width="12" height="2.6" rx="1.2" fill="#2a2a2a"/>
<rect x="564.0" y="737.0" width="11" height="2.6" rx="1.2" fill="#2a2a2a"/>
<path d="M542.1,741.9 L544.3,738.4 L546.5,741.9Z" fill="#222"/>
<rect x="597.5" y="734.5" width="60.8" height="7.0" rx="1.6" fill="#fff"/>
<rect x="599.5" y="737.0" width="12" height="2.6" rx="1.2" fill="#2a2a2a"/>
<rect x="645.3" y="737.0" width="11" height="2.6" rx="1.2" fill="#2a2a2a"/>
<path d="M624.3,741.9 L626.5,738.4 L628.7,741.9Z" fill="#222"/>
<rect x="664.8" y="734.5" width="39.2" height="7.0" rx="1.6" fill="#fff"/>
<rect x="666.2" y="737.0" width="11" height="2.6" rx="1.2" fill="#2a2a2a"/>
<rect x="301.0" y="745.4" width="58.5" height="7.0" rx="1.6" fill="#fff"/>
<rect x="347.7" y="747.9" width="11" height="2.6" rx="1.2" fill="#2a2a2a"/>
<path d="M325.8,752.7 L328.0,749.2 L330.2,752.7Z" fill="#222"/>
<rect x="366.0" y="745.4" width="61.5" height="7.0" rx="1.6" fill="#fff"/>
<rect x="368.0" y="747.9" width="12" height="2.6" rx="1.2" fill="#2a2a2a"/>
<rect x="414.5" y="747.9" width="11" height="2.6" rx="1.2" fill="#2a2a2a"/>
<path d="M392.8,752.7 L395.0,749.2 L397.2,752.7Z" fill="#222"/>
<rect x="448.5" y="745.4" width="60.3" height="7.0" rx="1.6" fill="#fff"/>
<rect x="450.5" y="747.9" width="12" height="2.6" rx="1.2" fill="#2a2a2a"/>
<rect x="495.8" y="747.9" width="11" height="2.6" rx="1.2" fill="#2a2a2a"/>
<path d="M475.3,752.7 L477.5,749.2 L479.7,752.7Z" fill="#222"/>
<rect x="515.3" y="745.4" width="61.7" height="7.0" rx="1.6" fill="#fff"/>
<rect x="517.3" y="747.9" width="12" height="2.6" rx="1.2" fill="#2a2a2a"/>
<rect x="564.0" y="747.9" width="11" height="2.6" rx="1.2" fill="#2a2a2a"/>
<path d="M542.1,752.7 L544.3,749.2 L546.5,752.7Z" fill="#222"/>
<rect x="597.5" y="745.4" width="60.8" height="7.0" rx="1.6" fill="#fff"/>
<rect x="599.5" y="747.9" width="12" height="2.6" rx="1.2" fill="#2a2a2a"/>
<rect x="645.3" y="747.9" width="11" height="2.6" rx="1.2" fill="#2a2a2a"/>
<path d="M624.3,752.7 L626.5,749.2 L628.7,752.7Z" fill="#222"/>
<rect x="664.8" y="745.4" width="39.2" height="7.0" rx="1.6" fill="#fff"/>
<rect x="666.2" y="747.9" width="11" height="2.6" rx="1.2" fill="#2a2a2a"/>
<rect x="301.0" y="756.2" width="58.5" height="7.0" rx="1.6" fill="#fff"/>
<rect x="347.7" y="758.7" width="11" height="2.6" rx="1.2" fill="#2a2a2a"/>
<path d="M325.8,763.5 L328.0,760.0 L330.2,763.5Z" fill="#222"/>
<rect x="366.0" y="756.2" width="61.5" height="7.0" rx="1.6" fill="#fff"/>
<rect x="368.0" y="758.7" width="12" height="2.6" rx="1.2" fill="#2a2a2a"/>
<rect x="414.5" y="758.7" width="11" height="2.6" rx="1.2" fill="#2a2a2a"/>
<path d="M392.8,763.5 L395.0,760.0 L397.2,763.5Z" fill="#222"/>
<rect x="448.5" y="756.2" width="60.3" height="7.0" rx="1.6" fill="#fff"/>
<rect x="450.5" y="758.7" width="12" height="2.6" rx="1.2" fill="#2a2a2a"/>
<rect x="495.8" y="758.7" width="11" height="2.6" rx="1.2" fill="#2a2a2a"/>
<path d="M475.3,763.5 L477.5,760.0 L479.7,763.5Z" fill="#222"/>
<rect x="515.3" y="756.2" width="61.7" height="7.0" rx="1.6" fill="#fff"/>
<rect x="517.3" y="758.7" width="12" height="2.6" rx="1.2" fill="#2a2a2a"/>
<rect x="564.0" y="758.7" width="11" height="2.6" rx="1.2" fill="#2a2a2a"/>
<path d="M542.1,763.5 L544.3,760.0 L546.5,763.5Z" fill="#222"/>
<rect x="597.5" y="756.2" width="60.8" height="7.0" rx="1.6" fill="#fff"/>
<rect x="599.5" y="758.7" width="12" height="2.6" rx="1.2" fill="#2a2a2a"/>
<rect x="645.3" y="758.7" width="11" height="2.6" rx="1.2" fill="#2a2a2a"/>
<path d="M624.3,763.5 L626.5,760.0 L628.7,763.5Z" fill="#222"/>
<rect x="664.8" y="756.2" width="39.2" height="7.0" rx="1.6" fill="#fff"/>
<rect x="666.2" y="758.7" width="11" height="2.6" rx="1.2" fill="#2a2a2a"/>
<rect x="301.0" y="767.0" width="58.5" height="7.0" rx="1.6" fill="#fff"/>
<rect x="347.7" y="769.5" width="11" height="2.6" rx="1.2" fill="#2a2a2a"/>
<path d="M325.8,774.4 L328.0,770.9 L330.2,774.4Z" fill="#222"/>
<rect x="366.0" y="767.0" width="61.5" height="7.0" rx="1.6" fill="#fff"/>
<rect x="368.0" y="769.5" width="12" height="2.6" rx="1.2" fill="#2a2a2a"/>
<rect x="414.5" y="769.5" width="11" height="2.6" rx="1.2" fill="#2a2a2a"/>
<path d="M392.8,774.4 L395.0,770.9 L397.2,774.4Z" fill="#222"/>
<rect x="448.5" y="767.0" width="60.3" height="7.0" rx="1.6" fill="#fff"/>
<rect x="450.5" y="769.5" width="12" height="2.6" rx="1.2" fill="#2a2a2a"/>
<rect x="495.8" y="769.5" width="11" height="2.6" rx="1.2" fill="#2a2a2a"/>
<path d="M475.3,774.4 L477.5,770.9 L479.7,774.4Z" fill="#222"/>
<rect x="515.3" y="767.0" width="61.7" height="7.0" rx="1.6" fill="#fff"/>
<rect x="517.3" y="769.5" width="12" height="2.6" rx="1.2" fill="#2a2a2a"/>
<rect x="564.0" y="769.5" width="11" height="2.6" rx="1.2" fill="#2a2a2a"/>
<path d="M542.1,774.4 L544.3,770.9 L546.5,774.4Z" fill="#222"/>
<rect x="597.5" y="767.0" width="60.8" height="7.0" rx="1.6" fill="#fff"/>
<rect x="599.5" y="769.5" width="12" height="2.6" rx="1.2" fill="#2a2a2a"/>
<rect x="645.3" y="769.5" width="11" height="2.6" rx="1.2" fill="#2a2a2a"/>
<path d="M624.3,774.4 L626.5,770.9 L628.7,774.4Z" fill="#222"/>
<rect x="664.8" y="767.0" width="39.2" height="7.0" rx="1.6" fill="#fff"/>
<rect x="666.2" y="769.5" width="11" height="2.6" rx="1.2" fill="#2a2a2a"/>
<rect x="301.0" y="777.9" width="58.5" height="7.0" rx="1.6" fill="#fff"/>
<rect x="347.7" y="780.4" width="11" height="2.6" rx="1.2" fill="#2a2a2a"/>
<path d="M325.8,785.2 L328.0,781.7 L330.2,785.2Z" fill="#222"/>
<rect x="366.0" y="777.9" width="61.5" height="7.0" rx="1.6" fill="#fff"/>
<rect x="368.0" y="780.4" width="12" height="2.6" rx="1.2" fill="#2a2a2a"/>
<rect x="414.5" y="780.4" width="11" height="2.6" rx="1.2" fill="#2a2a2a"/>
<path d="M392.8,785.2 L395.0,781.7 L397.2,785.2Z" fill="#222"/>
<rect x="448.5" y="777.9" width="60.3" height="7.0" rx="1.6" fill="#fff"/>
<rect x="450.5" y="780.4" width="12" height="2.6" rx="1.2" fill="#2a2a2a"/>
<rect x="495.8" y="780.4" width="11" height="2.6" rx="1.2" fill="#2a2a2a"/>
<path d="M475.3,785.2 L477.5,781.7 L479.7,785.2Z" fill="#222"/>
<rect x="515.3" y="777.9" width="61.7" height="7.0" rx="1.6" fill="#fff"/>
<rect x="517.3" y="780.4" width="12" height="2.6" rx="1.2" fill="#2a2a2a"/>
<rect x="564.0" y="780.4" width="11" height="2.6" rx="1.2" fill="#2a2a2a"/>
<path d="M542.1,785.2 L544.3,781.7 L546.5,785.2Z" fill="#222"/>
<rect x="597.5" y="777.9" width="60.8" height="7.0" rx="1.6" fill="#fff"/>
<rect x="599.5" y="780.4" width="12" height="2.6" rx="1.2" fill="#2a2a2a"/>
<rect x="645.3" y="780.4" width="11" height="2.6" rx="1.2" fill="#2a2a2a"/>
<path d="M624.3,785.2 L626.5,781.7 L628.7,785.2Z" fill="#222"/>
<rect x="664.8" y="777.9" width="39.2" height="7.0" rx="1.6" fill="#fff"/>
<rect x="666.2" y="780.4" width="11" height="2.6" rx="1.2" fill="#2a2a2a"/>
<rect x="301.0" y="788.7" width="58.5" height="7.0" rx="1.6" fill="#fff"/>
<rect x="347.7" y="791.2" width="11" height="2.6" rx="1.2" fill="#2a2a2a"/>
<path d="M325.8,796.0 L328.0,792.5 L330.2,796.0Z" fill="#222"/>
<rect x="366.0" y="788.7" width="61.5" height="7.0" rx="1.6" fill="#fff"/>
<rect x="368.0" y="791.2" width="12" height="2.6" rx="1.2" fill="#2a2a2a"/>
<rect x="414.5" y="791.2" width="11" height="2.6" rx="1.2" fill="#2a2a2a"/>
<path d="M392.8,796.0 L395.0,792.5 L397.2,796.0Z" fill="#222"/>
<rect x="448.5" y="788.7" width="60.3" height="7.0" rx="1.6" fill="#fff"/>
<rect x="450.5" y="791.2" width="12" height="2.6" rx="1.2" fill="#2a2a2a"/>
<rect x="495.8" y="791.2" width="11" height="2.6" rx="1.2" fill="#2a2a2a"/>
<path d="M475.3,796.0 L477.5,792.5 L479.7,796.0Z" fill="#222"/>
<rect x="515.3" y="788.7" width="61.7" height="7.0" rx="1.6" fill="#fff"/>
<rect x="517.3" y="791.2" width="12" height="2.6" rx="1.2" fill="#2a2a2a"/>
<rect x="564.0" y="791.2" width="11" height="2.6" rx="1.2" fill="#2a2a2a"/>
<path d="M542.1,796.0 L544.3,792.5 L546.5,796.0Z" fill="#222"/>
<rect x="597.5" y="788.7" width="60.8" height="7.0" rx="1.6" fill="#fff"/>
<rect x="599.5" y="791.2" width="12" height="2.6" rx="1.2" fill="#2a2a2a"/>
<rect x="645.3" y="791.2" width="11" height="2.6" rx="1.2" fill="#2a2a2a"/>
<path d="M624.3,796.0 L626.5,792.5 L628.7,796.0Z" fill="#222"/>
<rect x="664.8" y="788.7" width="39.2" height="7.0" rx="1.6" fill="#fff"/>
<rect x="666.2" y="791.2" width="11" height="2.6" rx="1.2" fill="#2a2a2a"/>
<rect x="301.0" y="799.5" width="58.5" height="7.0" rx="1.6" fill="#fff"/>
<rect x="347.7" y="802.0" width="11" height="2.6" rx="1.2" fill="#2a2a2a"/>
<path d="M325.8,806.8 L328.0,803.3 L330.2,806.8Z" fill="#222"/>
<rect x="366.0" y="799.5" width="61.5" height="7.0" rx="1.6" fill="#fff"/>
<rect x="368.0" y="802.0" width="12" height="2.6" rx="1.2" fill="#2a2a2a"/>
<rect x="414.5" y="802.0" width="11" height="2.6" rx="1.2" fill="#2a2a2a"/>
<path d="M392.8,806.8 L395.0,803.3 L397.2,806.8Z" fill="#222"/>
<rect x="448.5" y="799.5" width="60.3" height="7.0" rx="1.6" fill="#fff"/>
<rect x="450.5" y="802.0" width="12" height="2.6" rx="1.2" fill="#2a2a2a"/>
<rect x="495.8" y="802.0" width="11" height="2.6" rx="1.2" fill="#2a2a2a"/>
<path d="M475.3,806.8 L477.5,803.3 L479.7,806.8Z" fill="#222"/>
<rect x="515.3" y="799.5" width="61.7" height="7.0" rx="1.6" fill="#fff"/>
<rect x="517.3" y="802.0" width="12" height="2.6" rx="1.2" fill="#2a2a2a"/>
<rect x="564.0" y="802.0" width="11" height="2.6" rx="1.2" fill="#2a2a2a"/>
<path d="M542.1,806.8 L544.3,803.3 L546.5,806.8Z" fill="#222"/>
<rect x="597.5" y="799.5" width="60.8" height="7.0" rx="1.6" fill="#fff"/>
<rect x="599.5" y="802.0" width="12" height="2.6" rx="1.2" fill="#2a2a2a"/>
<rect x="645.3" y="802.0" width="11" height="2.6" rx="1.2" fill="#2a2a2a"/>
<path d="M624.3,806.8 L626.5,803.3 L628.7,806.8Z" fill="#222"/>
<rect x="664.8" y="799.5" width="39.2" height="7.0" rx="1.6" fill="#fff"/>
<rect x="666.2" y="802.0" width="11" height="2.6" rx="1.2" fill="#2a2a2a"/>
<rect x="301.0" y="810.3" width="58.5" height="7.0" rx="1.6" fill="#fff"/>
<rect x="347.7" y="812.9" width="11" height="2.6" rx="1.2" fill="#2a2a2a"/>
<path d="M325.8,817.7 L328.0,814.2 L330.2,817.7Z" fill="#222"/>
<rect x="366.0" y="810.3" width="61.5" height="7.0" rx="1.6" fill="#fff"/>
<rect x="368.0" y="812.9" width="12" height="2.6" rx="1.2" fill="#2a2a2a"/>
<rect x="414.5" y="812.9" width="11" height="2.6" rx="1.2" fill="#2a2a2a"/>
<path d="M392.8,817.7 L395.0,814.2 L397.2,817.7Z" fill="#222"/>
<rect x="448.5" y="810.3" width="60.3" height="7.0" rx="1.6" fill="#fff"/>
<rect x="450.5" y="812.9" width="12" height="2.6" rx="1.2" fill="#2a2a2a"/>
<rect x="495.8" y="812.9" width="11" height="2.6" rx="1.2" fill="#2a2a2a"/>
<path d="M475.3,817.7 L477.5,814.2 L479.7,817.7Z" fill="#222"/>
<rect x="515.3" y="810.3" width="61.7" height="7.0" rx="1.6" fill="#fff"/>
<rect x="517.3" y="812.9" width="12" height="2.6" rx="1.2" fill="#2a2a2a"/>
<rect x="564.0" y="812.9" width="11" height="2.6" rx="1.2" fill="#2a2a2a"/>
<path d="M542.1,817.7 L544.3,814.2 L546.5,817.7Z" fill="#222"/>
<rect x="597.5" y="810.3" width="60.8" height="7.0" rx="1.6" fill="#fff"/>
<rect x="599.5" y="812.9" width="12" height="2.6" rx="1.2" fill="#2a2a2a"/>
<rect x="645.3" y="812.9" width="11" height="2.6" rx="1.2" fill="#2a2a2a"/>
<path d="M624.3,817.7 L626.5,814.2 L628.7,817.7Z" fill="#222"/>
<rect x="664.8" y="810.3" width="39.2" height="7.0" rx="1.6" fill="#fff"/>
<rect x="666.2" y="812.9" width="11" height="2.6" rx="1.2" fill="#2a2a2a"/>
<rect x="301.0" y="821.2" width="58.5" height="7.0" rx="1.6" fill="#fff"/>
<rect x="347.7" y="823.7" width="11" height="2.6" rx="1.2" fill="#2a2a2a"/>
<path d="M325.8,828.5 L328.0,825.0 L330.2,828.5Z" fill="#222"/>
<rect x="366.0" y="821.2" width="61.5" height="7.0" rx="1.6" fill="#fff"/>
<rect x="368.0" y="823.7" width="12" height="2.6" rx="1.2" fill="#2a2a2a"/>
<rect x="414.5" y="823.7" width="11" height="2.6" rx="1.2" fill="#2a2a2a"/>
<path d="M392.8,828.5 L395.0,825.0 L397.2,828.5Z" fill="#222"/>
<rect x="448.5" y="821.2" width="60.3" height="7.0" rx="1.6" fill="#fff"/>
<rect x="450.5" y="823.7" width="12" height="2.6" rx="1.2" fill="#2a2a2a"/>
<rect x="495.8" y="823.7" width="11" height="2.6" rx="1.2" fill="#2a2a2a"/>
<path d="M475.3,828.5 L477.5,825.0 L479.7,828.5Z" fill="#222"/>
<rect x="515.3" y="821.2" width="61.7" height="7.0" rx="1.6" fill="#fff"/>
<rect x="517.3" y="823.7" width="12" height="2.6" rx="1.2" fill="#2a2a2a"/>
<rect x="564.0" y="823.7" width="11" height="2.6" rx="1.2" fill="#2a2a2a"/>
<path d="M542.1,828.5 L544.3,825.0 L546.5,828.5Z" fill="#222"/>
<rect x="597.5" y="821.2" width="60.8" height="7.0" rx="1.6" fill="#fff"/>
<rect x="599.5" y="823.7" width="12" height="2.6" rx="1.2" fill="#2a2a2a"/>
<rect x="645.3" y="823.7" width="11" height="2.6" rx="1.2" fill="#2a2a2a"/>
<path d="M624.3,828.5 L626.5,825.0 L628.7,828.5Z" fill="#222"/>
<rect x="664.8" y="821.2" width="39.2" height="7.0" rx="1.6" fill="#fff"/>
<rect x="666.2" y="823.7" width="11" height="2.6" rx="1.2" fill="#2a2a2a"/>
<rect x="301.0" y="832.0" width="58.5" height="7.0" rx="1.6" fill="#fff"/>
<rect x="347.7" y="834.5" width="11" height="2.6" rx="1.2" fill="#2a2a2a"/>
<path d="M325.8,839.3 L328.0,835.8 L330.2,839.3Z" fill="#222"/>
<rect x="366.0" y="832.0" width="61.5" height="7.0" rx="1.6" fill="#fff"/>
<rect x="368.0" y="834.5" width="12" height="2.6" rx="1.2" fill="#2a2a2a"/>
<rect x="414.5" y="834.5" width="11" height="2.6" rx="1.2" fill="#2a2a2a"/>
<path d="M392.8,839.3 L395.0,835.8 L397.2,839.3Z" fill="#222"/>
<rect x="448.5" y="832.0" width="60.3" height="7.0" rx="1.6" fill="#fff"/>
<rect x="450.5" y="834.5" width="12" height="2.6" rx="1.2" fill="#2a2a2a"/>
<rect x="495.8" y="834.5" width="11" height="2.6" rx="1.2" fill="#2a2a2a"/>
<path d="M475.3,839.3 L477.5,835.8 L479.7,839.3Z" fill="#222"/>
<rect x="515.3" y="832.0" width="61.7" height="7.0" rx="1.6" fill="#fff"/>
<rect x="517.3" y="834.5" width="12" height="2.6" rx="1.2" fill="#2a2a2a"/>
<rect x="564.0" y="834.5" width="11" height="2.6" rx="1.2" fill="#2a2a2a"/>
<path d="M542.1,839.3 L544.3,835.8 L546.5,839.3Z" fill="#222"/>
<rect x="597.5" y="832.0" width="60.8" height="7.0" rx="1.6" fill="#fff"/>
<rect x="599.5" y="834.5" width="12" height="2.6" rx="1.2" fill="#2a2a2a"/>
<rect x="645.3" y="834.5" width="11" height="2.6" rx="1.2" fill="#2a2a2a"/>
<path d="M624.3,839.3 L626.5,835.8 L628.7,839.3Z" fill="#222"/>
<rect x="664.8" y="832.0" width="39.2" height="7.0" rx="1.6" fill="#fff"/>
<rect x="666.2" y="834.5" width="11" height="2.6" rx="1.2" fill="#2a2a2a"/>
<rect x="430.7" y="420.1" width="6" height="7.5" fill="#b4b4b4"/>
<rect x="439.3" y="420.9" width="3.8" height="6" fill="#f4f4f4"/>
<rect x="430.7" y="430.9" width="6" height="7.5" fill="#b4b4b4"/>
<rect x="439.3" y="431.7" width="3.8" height="6" fill="#f4f4f4"/>
<rect x="430.7" y="441.7" width="6" height="7.5" fill="#b4b4b4"/>
<rect x="439.3" y="442.5" width="3.8" height="6" fill="#f4f4f4"/>
<rect x="430.7" y="452.6" width="6" height="7.5" fill="#b4b4b4"/>
<rect x="439.3" y="453.4" width="3.8" height="6" fill="#f4f4f4"/>
<rect x="430.7" y="463.4" width="6" height="7.5" fill="#b4b4b4"/>
<rect x="439.3" y="464.2" width="3.8" height="6" fill="#f4f4f4"/>
<rect x="430.7" y="474.2" width="6" height="7.5" fill="#b4b4b4"/>
<rect x="439.3" y="475.0" width="3.8" height="6" fill="#f4f4f4"/>
<rect x="430.7" y="485.0" width="6" height="7.5" fill="#b4b4b4"/>
<rect x="439.3" y="485.8" width="3.8" height="6" fill="#f4f4f4"/>
<rect x="430.7" y="495.9" width="6" height="7.5" fill="#b4b4b4"/>
<rect x="439.3" y="496.7" width="3.8" height="6" fill="#f4f4f4"/>
<rect x="430.7" y="506.7" width="6" height="7.5" fill="#b4b4b4"/>
<rect x="439.3" y="507.5" width="3.8" height="6" fill="#f4f4f4"/>
<rect x="430.7" y="517.5" width="6" height="7.5" fill="#b4b4b4"/>
<rect x="439.3" y="518.3" width="3.8" height="6" fill="#f4f4f4"/>
<rect x="430.7" y="528.4" width="6" height="7.5" fill="#b4b4b4"/>
<rect x="439.3" y="529.2" width="3.8" height="6" fill="#f4f4f4"/>
<rect x="430.7" y="539.2" width="6" height="7.5" fill="#b4b4b4"/>
<rect x="439.3" y="540.0" width="3.8" height="6" fill="#f4f4f4"/>
<rect x="430.7" y="550.0" width="6" height="7.5" fill="#b4b4b4"/>
<rect x="439.3" y="550.8" width="3.8" height="6" fill="#f4f4f4"/>
<rect x="430.7" y="560.9" width="6" height="7.5" fill="#b4b4b4"/>
<rect x="439.3" y="561.6" width="3.8" height="6" fill="#f4f4f4"/>
<rect x="430.7" y="571.7" width="6" height="7.5" fill="#b4b4b4"/>
<rect x="439.3" y="572.5" width="3.8" height="6" fill="#f4f4f4"/>
<rect x="430.7" y="582.5" width="6" height="7.5" fill="#b4b4b4"/>
<rect x="439.3" y="583.3" width="3.8" height="6" fill="#f4f4f4"/>
<rect x="430.7" y="593.3" width="6" height="7.5" fill="#b4b4b4"/>
<rect x="439.3" y="594.1" width="3.8" height="6" fill="#f4f4f4"/>
<rect x="430.7" y="604.2" width="6" height="7.5" fill="#b4b4b4"/>
<rect x="439.3" y="605.0" width="3.8" height="6" fill="#f4f4f4"/>
<rect x="430.7" y="615.0" width="6" height="7.5" fill="#b4b4b4"/>
<rect x="439.3" y="615.8" width="3.8" height="6" fill="#f4f4f4"/>
<rect x="430.7" y="625.8" width="6" height="7.5" fill="#b4b4b4"/>
<rect x="439.3" y="626.6" width="3.8" height="6" fill="#f4f4f4"/>
<rect x="430.7" y="636.7" width="6" height="7.5" fill="#b4b4b4"/>
<rect x="439.3" y="637.5" width="3.8" height="6" fill="#f4f4f4"/>
<rect x="430.7" y="647.5" width="6" height="7.5" fill="#b4b4b4"/>
<rect x="439.3" y="648.3" width="3.8" height="6" fill="#f4f4f4"/>
<rect x="430.7" y="658.3" width="6" height="7.5" fill="#b4b4b4"/>
<rect x="439.3" y="659.1" width="3.8" height="6" fill="#f4f4f4"/>
<rect x="430.7" y="669.1" width="6" height="7.5" fill="#b4b4b4"/>
<rect x="439.3" y="669.9" width="3.8" height="6" fill="#f4f4f4"/>
<rect x="430.7" y="680.0" width="6" height="7.5" fill="#b4b4b4"/>
<rect x="439.3" y="680.8" width="3.8" height="6" fill="#f4f4f4"/>
<rect x="430.7" y="690.8" width="6" height="7.5" fill="#b4b4b4"/>
<rect x="439.3" y="691.6" width="3.8" height="6" fill="#f4f4f4"/>
<rect x="430.7" y="701.6" width="6" height="7.5" fill="#b4b4b4"/>
<rect x="439.3" y="702.4" width="3.8" height="6" fill="#f4f4f4"/>
<rect x="430.7" y="712.5" width="6" height="7.5" fill="#b4b4b4"/>
<rect x="439.3" y="713.3" width="3.8" height="6" fill="#f4f4f4"/>
<rect x="430.7" y="723.3" width="6" height="7.5" fill="#b4b4b4"/>
<rect x="439.3" y="724.1" width="3.8" height="6" fill="#f4f4f4"/>
<rect x="430.7" y="734.1" width="6" height="7.5" fill="#b4b4b4"/>
<rect x="439.3" y="734.9" width="3.8" height="6" fill="#f4f4f4"/>
<rect x="430.7" y="745.0" width="6" height="7.5" fill="#b4b4b4"/>
<rect x="439.3" y="745.8" width="3.8" height="6" fill="#f4f4f4"/>
<rect x="430.7" y="755.8" width="6" height="7.5" fill="#b4b4b4"/>
<rect x="439.3" y="756.6" width="3.8" height="6" fill="#f4f4f4"/>
<rect x="430.7" y="766.6" width="6" height="7.5" fill="#b4b4b4"/>
<rect x="439.3" y="767.4" width="3.8" height="6" fill="#f4f4f4"/>
<rect x="430.7" y="777.5" width="6" height="7.5" fill="#b4b4b4"/>
<rect x="439.3" y="778.2" width="3.8" height="6" fill="#f4f4f4"/>
<rect x="430.7" y="788.3" width="6" height="7.5" fill="#b4b4b4"/>
<rect x="439.3" y="789.1" width="3.8" height="6" fill="#f4f4f4"/>
<rect x="430.7" y="799.1" width="6" height="7.5" fill="#b4b4b4"/>
<rect x="439.3" y="799.9" width="3.8" height="6" fill="#f4f4f4"/>
<rect x="430.7" y="809.9" width="6" height="7.5" fill="#b4b4b4"/>
<rect x="439.3" y="810.7" width="3.8" height="6" fill="#f4f4f4"/>
<rect x="430.7" y="820.8" width="6" height="7.5" fill="#b4b4b4"/>
<rect x="439.3" y="821.6" width="3.8" height="6" fill="#f4f4f4"/>
<rect x="430.7" y="831.6" width="6" height="7.5" fill="#b4b4b4"/>
<rect x="439.3" y="832.4" width="3.8" height="6" fill="#f4f4f4"/>
<rect x="580.2" y="420.1" width="6" height="7.5" fill="#b4b4b4"/>
<rect x="588.8" y="420.9" width="3.8" height="6" fill="#f4f4f4"/>
<rect x="580.2" y="430.9" width="6" height="7.5" fill="#b4b4b4"/>
<rect x="588.8" y="431.7" width="3.8" height="6" fill="#f4f4f4"/>
<rect x="580.2" y="441.7" width="6" height="7.5" fill="#b4b4b4"/>
<rect x="588.8" y="442.5" width="3.8" height="6" fill="#f4f4f4"/>
<rect x="580.2" y="452.6" width="6" height="7.5" fill="#b4b4b4"/>
<rect x="588.8" y="453.4" width="3.8" height="6" fill="#f4f4f4"/>
<rect x="580.2" y="463.4" width="6" height="7.5" fill="#b4b4b4"/>
<rect x="588.8" y="464.2" width="3.8" height="6" fill="#f4f4f4"/>
<rect x="580.2" y="474.2" width="6" height="7.5" fill="#b4b4b4"/>
<rect x="588.8" y="475.0" width="3.8" height="6" fill="#f4f4f4"/>
<rect x="580.2" y="485.0" width="6" height="7.5" fill="#b4b4b4"/>
<rect x="588.8" y="485.8" width="3.8" height="6" fill="#f4f4f4"/>
<rect x="580.2" y="495.9" width="6" height="7.5" fill="#b4b4b4"/>
<rect x="588.8" y="496.7" width="3.8" height="6" fill="#f4f4f4"/>
<rect x="580.2" y="506.7" width="6" height="7.5" fill="#b4b4b4"/>
<rect x="588.8" y="507.5" width="3.8" height="6" fill="#f4f4f4"/>
<rect x="580.2" y="517.5" width="6" height="7.5" fill="#b4b4b4"/>
<rect x="588.8" y="518.3" width="3.8" height="6" fill="#f4f4f4"/>
<rect x="580.2" y="528.4" width="6" height="7.5" fill="#b4b4b4"/>
<rect x="588.8" y="529.2" width="3.8" height="6" fill="#f4f4f4"/>
<rect x="580.2" y="539.2" width="6" height="7.5" fill="#b4b4b4"/>
<rect x="588.8" y="540.0" width="3.8" height="6" fill="#f4f4f4"/>
<rect x="580.2" y="550.0" width="6" height="7.5" fill="#b4b4b4"/>
<rect x="588.8" y="550.8" width="3.8" height="6" fill="#f4f4f4"/>
<rect x="580.2" y="560.9" width="6" height="7.5" fill="#b4b4b4"/>
<rect x="588.8" y="561.6" width="3.8" height="6" fill="#f4f4f4"/>
<rect x="580.2" y="571.7" width="6" height="7.5" fill="#b4b4b4"/>
<rect x="588.8" y="572.5" width="3.8" height="6" fill="#f4f4f4"/>
<rect x="580.2" y="582.5" width="6" height="7.5" fill="#b4b4b4"/>
<rect x="588.8" y="583.3" width="3.8" height="6" fill="#f4f4f4"/>
<rect x="580.2" y="593.3" width="6" height="7.5" fill="#b4b4b4"/>
<rect x="588.8" y="594.1" width="3.8" height="6" fill="#f4f4f4"/>
<rect x="580.2" y="604.2" width="6" height="7.5" fill="#b4b4b4"/>
<rect x="588.8" y="605.0" width="3.8" height="6" fill="#f4f4f4"/>
<rect x="580.2" y="615.0" width="6" height="7.5" fill="#b4b4b4"/>
<rect x="588.8" y="615.8" width="3.8" height="6" fill="#f4f4f4"/>
<rect x="580.2" y="625.8" width="6" height="7.5" fill="#b4b4b4"/>
<rect x="588.8" y="626.6" width="3.8" height="6" fill="#f4f4f4"/>
<rect x="580.2" y="636.7" width="6" height="7.5" fill="#b4b4b4"/>
<rect x="588.8" y="637.5" width="3.8" height="6" fill="#f4f4f4"/>
<rect x="580.2" y="647.5" width="6" height="7.5" fill="#b4b4b4"/>
<rect x="588.8" y="648.3" width="3.8" height="6" fill="#f4f4f4"/>
<rect x="580.2" y="658.3" width="6" height="7.5" fill="#b4b4b4"/>
<rect x="588.8" y="659.1" width="3.8" height="6" fill="#f4f4f4"/>
<rect x="580.2" y="669.1" width="6" height="7.5" fill="#b4b4b4"/>
<rect x="588.8" y="669.9" width="3.8" height="6" fill="#f4f4f4"/>
<rect x="580.2" y="680.0" width="6" height="7.5" fill="#b4b4b4"/>
<rect x="588.8" y="680.8" width="3.8" height="6" fill="#f4f4f4"/>
<rect x="580.2" y="690.8" width="6" height="7.5" fill="#b4b4b4"/>
<rect x="588.8" y="691.6" width="3.8" height="6" fill="#f4f4f4"/>
<rect x="580.2" y="701.6" width="6" height="7.5" fill="#b4b4b4"/>
<rect x="588.8" y="702.4" width="3.8" height="6" fill="#f4f4f4"/>
<rect x="580.2" y="712.5" width="6" height="7.5" fill="#b4b4b4"/>
<rect x="588.8" y="713.3" width="3.8" height="6" fill="#f4f4f4"/>
<rect x="580.2" y="723.3" width="6" height="7.5" fill="#b4b4b4"/>
<rect x="588.8" y="724.1" width="3.8" height="6" fill="#f4f4f4"/>
<rect x="580.2" y="734.1" width="6" height="7.5" fill="#b4b4b4"/>
<rect x="588.8" y="734.9" width="3.8" height="6" fill="#f4f4f4"/>
<rect x="580.2" y="745.0" width="6" height="7.5" fill="#b4b4b4"/>
<rect x="588.8" y="745.8" width="3.8" height="6" fill="#f4f4f4"/>
<rect x="580.2" y="755.8" width="6" height="7.5" fill="#b4b4b4"/>
<rect x="588.8" y="756.6" width="3.8" height="6" fill="#f4f4f4"/>
<rect x="580.2" y="766.6" width="6" height="7.5" fill="#b4b4b4"/>
<rect x="588.8" y="767.4" width="3.8" height="6" fill="#f4f4f4"/>
<rect x="580.2" y="777.5" width="6" height="7.5" fill="#b4b4b4"/>
<rect x="588.8" y="778.2" width="3.8" height="6" fill="#f4f4f4"/>
<rect x="580.2" y="788.3" width="6" height="7.5" fill="#b4b4b4"/>
<rect x="588.8" y="789.1" width="3.8" height="6" fill="#f4f4f4"/>
<rect x="580.2" y="799.1" width="6" height="7.5" fill="#b4b4b4"/>
<rect x="588.8" y="799.9" width="3.8" height="6" fill="#f4f4f4"/>
<rect x="580.2" y="809.9" width="6" height="7.5" fill="#b4b4b4"/>
<rect x="588.8" y="810.7" width="3.8" height="6" fill="#f4f4f4"/>
<rect x="580.2" y="820.8" width="6" height="7.5" fill="#b4b4b4"/>
<rect x="588.8" y="821.6" width="3.8" height="6" fill="#f4f4f4"/>
<rect x="580.2" y="831.6" width="6" height="7.5" fill="#b4b4b4"/>
<rect x="588.8" y="832.4" width="3.8" height="6" fill="#f4f4f4"/>
</g><g clip-path="url(#cl)">
<rect x="300.0" y="841.5" width="400.0" height="18.0" fill="#2e2e2e" />
<rect x="345" y="846" width="90" height="1.2" fill="#555"/><rect x="495" y="846" width="90" height="1.2" fill="#555"/><rect x="620" y="846" width="70" height="1.2" fill="#555"/><rect x="340" y="851.5" width="350" height="1.4" fill="#4a4a4a"/>
<rect x="408" y="847" width="22" height="3.5" fill="#eee"/><rect x="557" y="847" width="22" height="3.5" fill="#eee"/>
<path d="M449.0,843 Q452.0,832 462.0,833 Q470.0,831 476.0,843 Z" fill="#222"/>
<circle cx="458.0" cy="838" r="1.3" fill="#fff"/><circle cx="466.0" cy="846" r="1.3" fill="#fff"/>
<path d="M598.5,843 Q601.5,832 611.5,833 Q619.5,831 625.5,843 Z" fill="#222"/>
<circle cx="607.5" cy="838" r="1.3" fill="#fff"/><circle cx="615.5" cy="846" r="1.3" fill="#fff"/>
<rect x="300.0" y="859.5" width="400.0" height="70.0" fill="#fff" />
</g>
<g clip-path="url(#cl)">
<line x1="300.0" y1="870.5" x2="700.0" y2="870.5" stroke="#222" stroke-width="2.6" />
<line x1="300.0" y1="906.5" x2="700.0" y2="906.5" stroke="#222" stroke-width="2.6" />
<rect x="436.5" y="858.0" width="4.2" height="13.0" fill="#222" />
<rect x="433.0" y="870.5" width="11.5" height="36" fill="#fff" stroke="#222" stroke-width="2.4"/>
<rect x="433.0" y="870.5" width="11.5" height="13.0" fill="#222" />
<rect x="435.5" y="876" width="6.5" height="1.4" fill="#999"/>
<rect x="435.6" y="884" width="6.3" height="21" rx="2.5" fill="#fff" stroke="#222" stroke-width="1.6"/>
<rect x="586.0" y="858.0" width="4.2" height="13.0" fill="#222" />
<rect x="582.5" y="870.5" width="11.5" height="36" fill="#fff" stroke="#222" stroke-width="2.4"/>
<rect x="582.5" y="870.5" width="11.5" height="13.0" fill="#222" />
<rect x="585.0" y="876" width="6.5" height="1.4" fill="#999"/>
<rect x="585.1" y="884" width="6.3" height="21" rx="2.5" fill="#fff" stroke="#222" stroke-width="1.6"/>
</g>
<path d="M350.7,879 Q357.7,877 357.7,872 Q359.7,865 363.7,865 Q367.7,865 369.7,872 Q369.7,877 376.7,879 Q369.7,881 363.7,883 Q357.7,881 350.7,879Z" fill="#222"/>
<line x1="339.9" y1="864.0" x2="339.9" y2="882.0" stroke="#222" stroke-width="2" />
<path d="M334.9,876 L339.9,873 L344.9,876 L339.9,882Z" fill="#222"/>
<path d="M500.2,879 Q507.2,877 507.2,872 Q509.2,865 513.2,865 Q517.2,865 519.2,872 Q519.2,877 526.2,879 Q519.2,881 513.2,883 Q507.2,881 500.2,879Z" fill="#222"/>
<line x1="489.4" y1="864.0" x2="489.4" y2="882.0" stroke="#222" stroke-width="2" />
<path d="M484.4,876 L489.4,873 L494.4,876 L489.4,882Z" fill="#222"/>
<path d="M649.7,879 Q656.7,877 656.7,872 Q658.7,865 662.7,865 Q666.7,865 668.7,872 Q668.7,877 675.7,879 Q668.7,881 662.7,883 Q656.7,881 649.7,879Z" fill="#222"/>
<line x1="638.9" y1="864.0" x2="638.9" y2="882.0" stroke="#222" stroke-width="2" />
<path d="M633.9,876 L638.9,873 L643.9,876 L638.9,882Z" fill="#222"/>
<g clip-path="url(#cl)">
<rect x="360.5" y="523.0" width="4.5" height="320.0" fill="#222" />
<rect x="509.8" y="420.0" width="4.5" height="423.0" fill="#222" />
<rect x="659.3" y="592.0" width="4.5" height="251.0" fill="#222" />
</g>
<rect x="301" y="846" width="9" height="2.2" fill="#222"/><rect x="318" y="843.5" width="12.5" height="8" fill="#777"/><rect x="318" y="846.5" width="12.5" height="1.5" fill="#aaa"/>
<path d="M325.8,924.7 C324.4,922.8 319.4,918.2 317.7,913.2 C316.0,908.2 314.2,900.9 315.4,894.7 C316.5,888.5 321.0,882.0 324.6,876.2 C328.2,870.4 335.4,866.5 337.3,860.0 C339.2,853.5 337.9,843.1 336.2,837.0 C334.5,830.9 330.3,829.6 327.0,823.1 C323.7,816.6 318.2,805.0 316.6,797.7 C315.1,790.4 315.4,785.4 317.7,779.3 C320.0,773.1 327.3,767.3 330.4,760.8 C333.5,754.2 336.8,747.3 336.2,740.0 C335.6,732.7 330.3,723.9 327.0,717.0 C323.7,710.1 318.2,704.7 316.6,698.5 C315.1,692.3 315.4,686.5 317.7,680.0 C320.0,673.5 327.3,665.8 330.4,659.3 C333.5,652.8 336.4,647.7 336.2,640.8 C336.0,633.9 332.4,625.4 329.3,617.7 C326.2,610.0 320.4,602.3 317.7,594.6 C315.0,586.9 312.6,578.9 313.0,571.6 C313.4,564.3 316.1,557.0 320.0,550.8 C323.9,544.6 330.0,539.2 336.2,534.6 C342.4,530.0 350.1,526.6 357.0,523.1 C363.9,519.6 371.2,517.4 377.7,513.9 C384.2,510.4 390.8,508.1 396.2,502.3 C401.6,496.5 405.8,487.3 410.0,479.2 C414.2,471.1 417.0,461.2 421.6,453.9 C426.2,446.6 430.5,440.0 437.8,435.4 C445.1,430.8 455.1,426.4 465.5,426.2 C475.9,426.0 491.9,431.5 500.0,434.2 C508.1,436.9 508.0,438.4 513.8,442.3 C519.6,446.2 526.9,453.8 534.6,457.3 C542.3,460.8 551.1,462.3 560.0,463.1 C568.9,463.9 578.5,461.7 587.7,461.9 C596.9,462.1 607.3,462.5 615.4,464.2 C623.5,465.9 630.4,468.6 636.2,472.3 C642.0,476.0 646.4,480.4 650.0,486.2 C653.6,492.0 656.6,498.4 658.1,506.9 C659.6,515.4 659.3,526.2 659.3,537.0 C659.3,547.8 657.0,562.4 658.1,571.6 C659.2,580.8 662.2,585.4 666.2,592.3 C670.2,599.2 678.1,605.4 682.3,613.1 C686.5,620.8 691.2,629.3 691.6,638.5 C692.0,647.7 687.3,660.4 684.6,668.5 C681.9,676.6 676.5,680.1 675.4,687.0 C674.2,693.9 675.4,703.1 677.7,710.0 C680.0,716.9 687.0,722.7 689.3,728.5 C691.6,734.3 692.4,737.8 691.6,744.7 C690.8,751.6 687.3,762.7 684.6,770.0 C681.9,777.3 676.5,781.6 675.4,788.5 C674.2,795.4 675.4,805.1 677.7,811.6 C680.0,818.1 687.0,822.3 689.3,827.7 C691.6,833.1 691.0,839.3 691.6,843.9 C692.2,848.5 694.6,850.9 692.7,855.5 C690.8,860.1 683.3,865.9 680.0,871.6 C676.7,877.4 673.9,883.5 673.1,890.0 C672.3,896.5 673.9,905.0 675.4,910.8 C676.9,916.6 681.1,922.4 682.3,924.7" fill="none" stroke="#222" stroke-width="3" />
<rect x="294.4" y="333.5" width="135.4" height="19.5" rx="2.5" fill="#fff" stroke="#222" stroke-width="2.6"/>
<rect x="295.4" y="335" width="133.4" height="7.5" fill="#8a8a8a"/>
<rect x="297.4" y="339.2" width="129.4" height="1.8" fill="#f4f4f4"/>
<rect x="294.4" y="342.6" width="135.4" height="2.4" fill="#222"/>
<rect x="301.4" y="346.5" width="10" height="3" fill="#777"/>
<rect x="349.4" y="346.5" width="10" height="3" fill="#777"/>
<rect x="374.4" y="346.5" width="10" height="3" fill="#777"/>
<rect x="419.4" y="346.5" width="10" height="3" fill="#777"/>
<rect x="361.8" y="333" width="4" height="21" fill="#222"/>
<circle cx="328.8" cy="350.2" r="1.8" fill="#222"/><circle cx="395.8" cy="350.2" r="1.8" fill="#222"/>
<rect x="430.3" y="334" width="4" height="19.5" fill="#222"/>
<rect x="438.8" y="334" width="4.5" height="19.5" fill="#222"/>
<rect x="434.3" y="336" width="4.5" height="17" fill="#777"/>
<path d="M327.4,321.2 L330.5,325.2 L336.3,326.2 L332.3,329.6 L332.9,334.2 L327.4,332.4 L321.9,334.2 L322.5,329.6 L318.5,326.2 L324.3,325.2Z" fill="#222"/>
<rect x="326.1" y="330" width="2.6" height="14" fill="#222"/>
<path d="M352.0,321.2 L355.1,325.2 L360.9,326.2 L356.9,329.6 L357.5,334.2 L352.0,332.4 L346.5,334.2 L347.1,329.6 L343.1,326.2 L348.9,325.2Z" fill="#222"/>
<rect x="350.7" y="330" width="2.6" height="14" fill="#222"/>
<path d="M374.6,321.2 L377.7,325.2 L383.5,326.2 L379.5,329.6 L380.1,334.2 L374.6,332.4 L369.1,334.2 L369.7,329.6 L365.7,326.2 L371.5,325.2Z" fill="#222"/>
<rect x="373.3" y="330" width="2.6" height="14" fill="#222"/>
<path d="M399.3,321.2 L402.4,325.2 L408.2,326.2 L404.2,329.6 L404.8,334.2 L399.3,332.4 L393.8,334.2 L394.4,329.6 L390.4,326.2 L396.2,325.2Z" fill="#222"/>
<rect x="398.0" y="330" width="2.6" height="14" fill="#222"/>
<path d="M315.5,326.5 L320.0,332 L317.5,332 L317.5,338 L313.5,338 L313.5,332 L311.0,332Z" fill="#222"/>
<path d="M411.0,326.5 L415.5,332 L413.0,332 L413.0,338 L409.0,338 L409.0,332 L406.5,332Z" fill="#222"/>
<rect x="443.9" y="333.5" width="135.4" height="19.5" rx="2.5" fill="#fff" stroke="#222" stroke-width="2.6"/>
<rect x="444.9" y="335" width="133.4" height="7.5" fill="#8a8a8a"/>
<rect x="446.9" y="339.2" width="129.4" height="1.8" fill="#f4f4f4"/>
<rect x="443.9" y="342.6" width="135.4" height="2.4" fill="#222"/>
<rect x="450.9" y="346.5" width="10" height="3" fill="#777"/>
<rect x="498.9" y="346.5" width="10" height="3" fill="#777"/>
<rect x="523.9" y="346.5" width="10" height="3" fill="#777"/>
<rect x="568.9" y="346.5" width="10" height="3" fill="#777"/>
<rect x="511.3" y="333" width="4" height="21" fill="#222"/>
<circle cx="478.3" cy="350.2" r="1.8" fill="#222"/><circle cx="545.3" cy="350.2" r="1.8" fill="#222"/>
<rect x="579.8" y="334" width="4" height="19.5" fill="#222"/>
<rect x="588.3" y="334" width="4.5" height="19.5" fill="#222"/>
<rect x="583.8" y="336" width="4.5" height="17" fill="#777"/>
<path d="M476.9,321.2 L480.0,325.2 L485.8,326.2 L481.8,329.6 L482.4,334.2 L476.9,332.4 L471.4,334.2 L472.0,329.6 L468.0,326.2 L473.8,325.2Z" fill="#222"/>
<rect x="475.6" y="330" width="2.6" height="14" fill="#222"/>
<path d="M501.5,321.2 L504.6,325.2 L510.4,326.2 L506.4,329.6 L507.0,334.2 L501.5,332.4 L496.0,334.2 L496.6,329.6 L492.6,326.2 L498.4,325.2Z" fill="#222"/>
<rect x="500.2" y="330" width="2.6" height="14" fill="#222"/>
<path d="M524.1,321.2 L527.2,325.2 L533.0,326.2 L529.0,329.6 L529.6,334.2 L524.1,332.4 L518.6,334.2 L519.2,329.6 L515.2,326.2 L521.0,325.2Z" fill="#222"/>
<rect x="522.8" y="330" width="2.6" height="14" fill="#222"/>
<path d="M548.8,321.2 L551.9,325.2 L557.7,326.2 L553.7,329.6 L554.3,334.2 L548.8,332.4 L543.3,334.2 L543.9,329.6 L539.9,326.2 L545.7,325.2Z" fill="#222"/>
<rect x="547.5" y="330" width="2.6" height="14" fill="#222"/>
<path d="M465.0,326.5 L469.5,332 L467.0,332 L467.0,338 L463.0,338 L463.0,332 L460.5,332Z" fill="#222"/>
<path d="M560.5,326.5 L565.0,332 L562.5,332 L562.5,338 L558.5,338 L558.5,332 L556.0,332Z" fill="#222"/>
<rect x="593.4" y="333.5" width="141.6" height="19.5" rx="2.5" fill="#fff" stroke="#222" stroke-width="2.6"/>
<rect x="594.4" y="335" width="139.6" height="7.5" fill="#8a8a8a"/>
<rect x="596.4" y="339.2" width="135.6" height="1.8" fill="#f4f4f4"/>
<rect x="593.4" y="342.6" width="141.6" height="2.4" fill="#222"/>
<rect x="600.4" y="346.5" width="10" height="3" fill="#777"/>
<rect x="648.4" y="346.5" width="10" height="3" fill="#777"/>
<rect x="673.4" y="346.5" width="10" height="3" fill="#777"/>
<rect x="718.4" y="346.5" width="10" height="3" fill="#777"/>
<rect x="660.8" y="333" width="4" height="21" fill="#222"/>
<circle cx="627.8" cy="350.2" r="1.8" fill="#222"/><circle cx="694.8" cy="350.2" r="1.8" fill="#222"/>
<path d="M626.4,321.2 L629.5,325.2 L635.3,326.2 L631.3,329.6 L631.9,334.2 L626.4,332.4 L620.9,334.2 L621.5,329.6 L617.5,326.2 L623.3,325.2Z" fill="#222"/>
<rect x="625.1" y="330" width="2.6" height="14" fill="#222"/>
<path d="M651.0,321.2 L654.1,325.2 L659.9,326.2 L655.9,329.6 L656.5,334.2 L651.0,332.4 L645.5,334.2 L646.1,329.6 L642.1,326.2 L647.9,325.2Z" fill="#222"/>
<rect x="649.7" y="330" width="2.6" height="14" fill="#222"/>
<path d="M673.6,321.2 L676.7,325.2 L682.5,326.2 L678.5,329.6 L679.1,334.2 L673.6,332.4 L668.1,334.2 L668.7,329.6 L664.7,326.2 L670.5,325.2Z" fill="#222"/>
<rect x="672.3" y="330" width="2.6" height="14" fill="#222"/>
<path d="M698.3,321.2 L701.4,325.2 L707.2,326.2 L703.2,329.6 L703.8,334.2 L698.3,332.4 L692.8,334.2 L693.4,329.6 L689.4,326.2 L695.2,325.2Z" fill="#222"/>
<rect x="697.0" y="330" width="2.6" height="14" fill="#222"/>
<path d="M614.5,326.5 L619.0,332 L616.5,332 L616.5,338 L612.5,338 L612.5,332 L610.0,332Z" fill="#222"/>
<path d="M710.0,326.5 L714.5,332 L712.0,332 L712.0,338 L708.0,338 L708.0,332 L705.5,332Z" fill="#222"/>
<path d="M281,352 Q287,352 288,345 Q288,338 294,336" fill="none" stroke="#222" stroke-width="2.2"/>
<path d="M735,336 Q740,338 740,345 Q741,352 744,352" fill="none" stroke="#222" stroke-width="2.2"/>
<path d="M280,925 L280,352 L744,352 L744,925" fill="none" stroke="#222" stroke-width="2.8" />
<line x1="701.0" y1="326.5" x2="829.0" y2="326.5" stroke="#222" stroke-width="2" />
<line x1="812.0" y1="327.0" x2="812.0" y2="1613.0" stroke="#222" stroke-width="2" />
<path d="M812.0,327.0 L816.4,343.0 L807.6,343.0 Z" fill="#222"/>
<path d="M812.0,1612.0 L807.6,1596.0 L816.4,1596.0 Z" fill="#222"/>
<text x="0.0" y="0.0" font-size="26" text-anchor="start" style="font-style:italic" transform="translate(799,947) rotate(-90)">H<tspan font-size="17" dy="6" style="font-style:normal">2</tspan></text>
<path d="M280,755.2 L203,755.2 Q199,755.5 199.5,759 L199.5,768 Q199,771.5 203,771.8 L280,771.8" fill="none" stroke="#222" stroke-width="3.4" />
<line x1="226.0" y1="925.0" x2="751.0" y2="925.0" stroke="#222" stroke-width="2.8" />
<line x1="271.0" y1="940.0" x2="742.0" y2="940.0" stroke="#222" stroke-width="2.6" />
<line x1="287.5" y1="925.0" x2="287.5" y2="940.0" stroke="#222" stroke-width="2" />
<line x1="292.8" y1="925.0" x2="292.8" y2="940.0" stroke="#222" stroke-width="2" />
<line x1="731.0" y1="925.0" x2="731.0" y2="940.0" stroke="#222" stroke-width="2" />
<line x1="736.0" y1="925.0" x2="736.0" y2="940.0" stroke="#222" stroke-width="2" />
<line x1="272.0" y1="925.0" x2="272.0" y2="1613.0" stroke="#222" stroke-width="3.2" />
<line x1="277.3" y1="925.0" x2="277.3" y2="1613.0" stroke="#222" stroke-width="2.3" />
<line x1="300.5" y1="940.0" x2="300.5" y2="1070.0" stroke="#222" stroke-width="3.0" />
<line x1="300.5" y1="1092.0" x2="300.5" y2="1106.0" stroke="#222" stroke-width="3.0" />
<line x1="300.5" y1="1155.0" x2="300.5" y2="1569.0" stroke="#222" stroke-width="3.0" />
<line x1="300.5" y1="1596.0" x2="300.5" y2="1613.0" stroke="#222" stroke-width="3.0" />
<line x1="295.4" y1="940.0" x2="295.4" y2="1613.0" stroke="#666" stroke-width="1.8" />
<line x1="286.0" y1="1002.0" x2="286.0" y2="1613.0" stroke="#222" stroke-width="2.2" stroke-dasharray="50,8.5,10,9.2" stroke-dashoffset="31.6"/>
<rect x="284" y="941" width="5.5" height="59" rx="2.5" fill="#8a8a8a" stroke="#222" stroke-width="1.6"/>
<line x1="718.2" y1="940.0" x2="718.2" y2="1070.0" stroke="#222" stroke-width="3.0" />
<line x1="718.2" y1="1092.0" x2="718.2" y2="1106.0" stroke="#222" stroke-width="3.0" />
<line x1="718.2" y1="1130.0" x2="718.2" y2="1569.0" stroke="#222" stroke-width="3.0" />
<line x1="718.2" y1="1596.0" x2="718.2" y2="1613.0" stroke="#222" stroke-width="3.0" />
<line x1="723.5" y1="940.0" x2="723.5" y2="1613.0" stroke="#222" stroke-width="2.2" />
<line x1="740.6" y1="940.0" x2="740.6" y2="1613.0" stroke="#555" stroke-width="1.8" />
<line x1="746.5" y1="925.0" x2="746.5" y2="1613.0" stroke="#222" stroke-width="3.2" />
<line x1="732.3" y1="1002.0" x2="732.3" y2="1613.0" stroke="#222" stroke-width="2.2" stroke-dasharray="50,8.5,10,9.2" stroke-dashoffset="31.6"/>
<rect x="731" y="942" width="6" height="59" rx="2.5" fill="#666" stroke="#222" stroke-width="1.2"/>
<line x1="352.8" y1="973.0" x2="667.2" y2="973.0" stroke="#222" stroke-width="2.6" />
<line x1="364.0" y1="940.0" x2="364.0" y2="973.0" stroke="#222" stroke-width="2.2" />
<line x1="377.8" y1="940.0" x2="377.8" y2="973.0" stroke="#222" stroke-width="2.2" />
<line x1="400.6" y1="940.0" x2="400.6" y2="973.0" stroke="#222" stroke-width="2.2" />
<line x1="431.4" y1="940.0" x2="431.4" y2="973.0" stroke="#222" stroke-width="2.2" />
<line x1="589.7" y1="940.0" x2="589.7" y2="973.0" stroke="#222" stroke-width="2.2" />
<line x1="619.3" y1="940.0" x2="619.3" y2="973.0" stroke="#222" stroke-width="2.2" />
<line x1="643.2" y1="940.0" x2="643.2" y2="973.0" stroke="#222" stroke-width="2.2" />
<line x1="660.5" y1="940.0" x2="660.5" y2="973.0" stroke="#222" stroke-width="2.2" />
<rect x="364" y="956.4" width="291" height="6.8" rx="3" fill="#6a6a6a" stroke="#333" stroke-width="0.8"/>
<rect x="354.8" y="938" width="8" height="36" fill="#222"/>
<rect x="352.8" y="944.0" width="12" height="3" fill="#222"/>
<rect x="352.8" y="953.0" width="12" height="3" fill="#222"/>
<rect x="352.8" y="962.0" width="12" height="3" fill="#222"/>
<rect x="352.8" y="970.0" width="12" height="3" fill="#222"/>
<rect x="657.5" y="938" width="8" height="36" fill="#222"/>
<rect x="655.5" y="944.0" width="12" height="3" fill="#222"/>
<rect x="655.5" y="953.0" width="12" height="3" fill="#222"/>
<rect x="655.5" y="962.0" width="12" height="3" fill="#222"/>
<rect x="655.5" y="970.0" width="12" height="3" fill="#222"/>
<path d="M454.1,940 L330,1069.3 L351.6,1069.3 L475.8,940 Z" fill="#fff"/>
<line x1="454.1" y1="940.0" x2="330.0" y2="1069.3" stroke="#222" stroke-width="2.6" />
<line x1="475.8" y1="940.0" x2="351.6" y2="1069.3" stroke="#222" stroke-width="2.6" />
<path d="M563.3,940 L687.4,1069.3 L665.8,1069.3 L541.6,940 Z" fill="#fff"/>
<line x1="563.3" y1="940.0" x2="687.4" y2="1069.3" stroke="#222" stroke-width="2.6" />
<line x1="541.6" y1="940.0" x2="665.8" y2="1069.3" stroke="#222" stroke-width="2.6" />
<rect x="503.3" y="942.0" width="3.4" height="12.0" fill="#999" />
<rect x="507.4" y="940.0" width="6.0" height="33.0" fill="#222" />
<path d="M481.7,972.5 L537.2,972.5 L531.5,984 L531,995 L527,1002 L491,1002 L487.5,995 L487,984 Z" fill="#222"/>
<rect x="494" y="978" width="2.5" height="3" fill="#888"/><rect x="494" y="984" width="2.5" height="3" fill="#888"/><path d="M507,986 Q503,988 505,992 Q508,994 510,992" fill="none" stroke="#666" stroke-width="1.2"/>
<path d="M490,1002 L495,1009 L500,1002 Z M502,1002 L507,1008 L512,1002 Z M514,1002 L519,1008 L524,1002 Z M526,1002 L531,1009 L528,1002 Z" fill="#222"/>
<rect x="487.6" y="1008.5" width="44" height="61" rx="3" fill="#fff" stroke="#222" stroke-width="2.8"/>
<line x1="487.6" y1="1010.0" x2="531.6" y2="1010.0" stroke="#222" stroke-width="3" />
<line x1="487.6" y1="1021.1" x2="531.6" y2="1021.1" stroke="#222" stroke-width="2.6" />
<line x1="487.6" y1="1033.0" x2="531.6" y2="1033.0" stroke="#222" stroke-width="2.6" />
<line x1="487.6" y1="1057.3" x2="531.6" y2="1057.3" stroke="#222" stroke-width="2.6" />
<line x1="498.6" y1="1033.0" x2="498.6" y2="1057.3" stroke="#222" stroke-width="2.6" />
<line x1="519.6" y1="1033.0" x2="519.6" y2="1057.3" stroke="#222" stroke-width="2.6" />
<rect x="499" y="968" width="2.6" height="6" fill="#222"/><rect x="521" y="968" width="2.6" height="6" fill="#222"/>
<line x1="300.5" y1="1069.3" x2="718.2" y2="1069.3" stroke="#222" stroke-width="2.8" />
<line x1="300.5" y1="1092.3" x2="718.2" y2="1092.3" stroke="#222" stroke-width="2.8" />
<line x1="296.0" y1="1092.3" x2="296.0" y2="1106.0" stroke="#222" stroke-width="2.2" />
<line x1="296.0" y1="1106.0" x2="301.0" y2="1106.0" stroke="#222" stroke-width="2.2" />
<line x1="363.7" y1="882.0" x2="363.7" y2="1169.0" stroke="#222" stroke-width="2.4" />
<line x1="512.2" y1="882.0" x2="512.2" y2="1169.0" stroke="#222" stroke-width="2.4" />
<line x1="661.3" y1="882.0" x2="661.3" y2="1167.0" stroke="#222" stroke-width="2.4" />
<path d="M321.7,1154.4 L498.7,1350.9 L508.7,1339.2 L342.3,1154.4 Z" fill="#fff"/>
<line x1="321.7" y1="1154.4" x2="498.7" y2="1350.9" stroke="#222" stroke-width="2.6" />
<line x1="342.3" y1="1154.4" x2="508.7" y2="1339.2" stroke="#222" stroke-width="2.6" />
<line x1="717.2" y1="1107.6" x2="508.7" y2="1339.2" stroke="#222" stroke-width="2.6" />
<line x1="722.4" y1="1126.5" x2="519.7" y2="1350.9" stroke="#222" stroke-width="2.6" />
<line x1="498.7" y1="1350.9" x2="296.0" y2="1575.0" stroke="#222" stroke-width="2.6" />
<line x1="508.7" y1="1362.5" x2="296.0" y2="1598.0" stroke="#222" stroke-width="2.6" />
<line x1="519.7" y1="1350.9" x2="722.0" y2="1575.5" stroke="#222" stroke-width="2.6" />
<line x1="508.7" y1="1362.5" x2="722.0" y2="1597.5" stroke="#222" stroke-width="2.6" />
<path d="M717.5,1092.5 Q722,1095 722,1100 L722,1126.5" fill="none" stroke="#222" stroke-width="2.2"/>
<line x1="286.0" y1="1154.5" x2="661.3" y2="1154.5" stroke="#222" stroke-width="2.3" />
<path d="M287.2,1154.5 L301.2,1150.3 L301.2,1158.7 Z" fill="#222"/>
<path d="M362.5,1154.5 L348.5,1158.7 L348.5,1150.3 Z" fill="#222"/>
<path d="M364.9,1154.5 L378.9,1150.3 L378.9,1158.7 Z" fill="#222"/>
<path d="M511.0,1154.5 L497.0,1158.7 L497.0,1150.3 Z" fill="#222"/>
<path d="M513.4,1154.5 L527.4,1150.3 L527.4,1158.7 Z" fill="#222"/>
<path d="M660.1,1154.5 L646.1,1158.7 L646.1,1150.3 Z" fill="#222"/>
<text x="290.5" y="1140.3" font-size="25" style="font-style:italic">L</text>
<text x="306.0" y="1145.8" font-size="15.5" style="font-weight:bold">ш.вых</text>
<text x="408.0" y="1140.3" font-size="25" style="font-style:italic">L</text>
<text x="423.5" y="1145.8" font-size="15.5" style="font-weight:bold">ш.вых</text>
<text x="558.0" y="1140.3" font-size="25" style="font-style:italic">L</text>
<text x="573.5" y="1145.8" font-size="15.5" style="font-weight:bold">ш.вых</text>
<line x1="240.0" y1="927.0" x2="240.0" y2="1612.0" stroke="#222" stroke-width="2" />
<path d="M240.0,926.0 L244.4,942.0 L235.6,942.0 Z" fill="#222"/>
<path d="M240.0,1612.0 L235.6,1596.0 L244.4,1596.0 Z" fill="#222"/>
<text x="0.0" y="0.0" font-size="26" text-anchor="start" style="font-style:italic" transform="translate(225.5,1292) rotate(-90)">H<tspan font-size="17" dy="6" style="font-style:normal">1</tspan></text>
<line x1="226.0" y1="1613.3" x2="313.0" y2="1613.3" stroke="#222" stroke-width="3.4" />
<line x1="705.0" y1="1613.3" x2="828.0" y2="1613.3" stroke="#222" stroke-width="3.2" />
<line x1="285.5" y1="1613.0" x2="285.5" y2="1653.0" stroke="#222" stroke-width="1.8" />
<line x1="732.5" y1="1613.0" x2="732.5" y2="1653.0" stroke="#222" stroke-width="1.8" />
<line x1="286.0" y1="1638.5" x2="732.0" y2="1638.5" stroke="#222" stroke-width="2" />
<path d="M286.0,1638.5 L302.0,1634.1 L302.0,1642.9 Z" fill="#222"/>
<path d="M732.0,1638.5 L716.0,1642.9 L716.0,1634.1 Z" fill="#222"/>
<text x="515.0" y="1630.0" font-size="25" text-anchor="middle" style="font-style:italic;font-weight:bold" >B</text>
<text x="1204.0" y="284.8" font-size="34.5" text-anchor="middle" style="" stroke="#1f1f1f" stroke-width="0.9">A</text>
<line x1="944.0" y1="312.0" x2="1458.0" y2="312.0" stroke="#222" stroke-width="2.2" stroke-dasharray="56,9.5,9.5,10.6" stroke-dashoffset="28"/>
<line x1="944.0" y1="454.6" x2="1458.0" y2="454.6" stroke="#222" stroke-width="2.2" stroke-dasharray="56,9.5,9.5,10.6" stroke-dashoffset="28"/>
<line x1="944.0" y1="599.6" x2="1458.0" y2="599.6" stroke="#222" stroke-width="2.2" stroke-dasharray="56,9.5,9.5,10.6" stroke-dashoffset="28"/>
<line x1="964.0" y1="320.3" x2="964.0" y2="594.7" stroke="#222" stroke-width="2.6" />
<line x1="969.0" y1="320.3" x2="969.0" y2="594.7" stroke="#222" stroke-width="2.0" />
<line x1="964.0" y1="320.3" x2="980.0" y2="320.3" stroke="#222" stroke-width="2.2" />
<line x1="964.0" y1="594.7" x2="980.0" y2="594.7" stroke="#222" stroke-width="2.2" />
<line x1="975.7" y1="315.0" x2="975.7" y2="599.0" stroke="#222" stroke-width="1.8" stroke-dasharray="14,5,4,5"/>
<line x1="975.7" y1="599.0" x2="975.7" y2="668.7" stroke="#222" stroke-width="2" />
<line x1="1437.6" y1="320.2" x2="1437.6" y2="590.7" stroke="#222" stroke-width="2.4" />
<line x1="1425.0" y1="320.2" x2="1437.6" y2="320.2" stroke="#222" stroke-width="2.0" />
<line x1="1425.0" y1="590.7" x2="1437.6" y2="590.7" stroke="#222" stroke-width="2.0" />
<line x1="1425.0" y1="314.0" x2="1425.0" y2="598.0" stroke="#222" stroke-width="1.6" />
<clipPath id="rt"><path d="M980,322 Q1015,314 1053,321 Q1090,314 1129,321 Q1165,314 1203,321 Q1240,314 1280,321 Q1316,314 1353,321 Q1390,314 1428,321 L1428,416 L980,416 Z"/></clipPath>
<clipPath id="rb"><path d="M980,416 L1428,416 L1428,592 Q1390,598 1353,591 Q1316,598 1280,591 Q1240,598 1203,591 Q1165,598 1129,591 Q1090,598 1053,591 Q1015,598 980,591 Z"/></clipPath>
<g clip-path="url(#rt)">
<rect x="980.0" y="313.4" width="448.0" height="70.7" fill="#262626" />
<rect x="990.5" y="320.4" width="60.8" height="3.9" rx="1.6" fill="#fff"/>
<rect x="995.5" y="321.2" width="11" height="2.2" fill="#aaa"/>
<rect x="1038.3" y="321.2" width="9" height="2.2" fill="#aaa"/>
<rect x="990.5" y="326.7" width="60.8" height="3.9" rx="1.6" fill="#fff"/>
<rect x="995.5" y="327.5" width="11" height="2.2" fill="#aaa"/>
<rect x="1038.3" y="327.5" width="9" height="2.2" fill="#aaa"/>
<rect x="990.5" y="332.9" width="60.8" height="3.9" rx="1.6" fill="#fff"/>
<rect x="995.5" y="333.7" width="11" height="2.2" fill="#aaa"/>
<rect x="1038.3" y="333.7" width="9" height="2.2" fill="#aaa"/>
<rect x="990.5" y="339.2" width="60.8" height="3.9" rx="1.6" fill="#fff"/>
<rect x="995.5" y="340.0" width="11" height="2.2" fill="#aaa"/>
<rect x="1038.3" y="340.0" width="9" height="2.2" fill="#aaa"/>
<rect x="990.5" y="345.5" width="60.8" height="3.9" rx="1.6" fill="#fff"/>
<rect x="995.5" y="346.3" width="11" height="2.2" fill="#aaa"/>
<rect x="1038.3" y="346.3" width="9" height="2.2" fill="#aaa"/>
<rect x="990.5" y="351.8" width="60.8" height="3.9" rx="1.6" fill="#fff"/>
<rect x="995.5" y="352.6" width="11" height="2.2" fill="#aaa"/>
<rect x="1038.3" y="352.6" width="9" height="2.2" fill="#aaa"/>
<rect x="990.5" y="358.0" width="60.8" height="3.9" rx="1.6" fill="#fff"/>
<rect x="995.5" y="358.8" width="11" height="2.2" fill="#aaa"/>
<rect x="1038.3" y="358.8" width="9" height="2.2" fill="#aaa"/>
<rect x="990.5" y="364.3" width="60.8" height="3.9" rx="1.6" fill="#fff"/>
<rect x="995.5" y="365.1" width="11" height="2.2" fill="#aaa"/>
<rect x="1038.3" y="365.1" width="9" height="2.2" fill="#aaa"/>
<rect x="990.5" y="370.6" width="60.8" height="3.9" rx="1.6" fill="#fff"/>
<rect x="995.5" y="371.4" width="11" height="2.2" fill="#aaa"/>
<rect x="1038.3" y="371.4" width="9" height="2.2" fill="#aaa"/>
<rect x="990.5" y="376.8" width="60.8" height="3.9" rx="1.6" fill="#fff"/>
<rect x="995.5" y="377.6" width="11" height="2.2" fill="#aaa"/>
<rect x="1038.3" y="377.6" width="9" height="2.2" fill="#aaa"/>
<rect x="1055.8" y="320.4" width="63.7" height="3.9" rx="1.6" fill="#fff"/>
<rect x="1060.8" y="321.2" width="11" height="2.2" fill="#aaa"/>
<rect x="1106.5" y="321.2" width="9" height="2.2" fill="#aaa"/>
<rect x="1055.8" y="326.7" width="63.7" height="3.9" rx="1.6" fill="#fff"/>
<rect x="1060.8" y="327.5" width="11" height="2.2" fill="#aaa"/>
<rect x="1106.5" y="327.5" width="9" height="2.2" fill="#aaa"/>
<rect x="1055.8" y="332.9" width="63.7" height="3.9" rx="1.6" fill="#fff"/>
<rect x="1060.8" y="333.7" width="11" height="2.2" fill="#aaa"/>
<rect x="1106.5" y="333.7" width="9" height="2.2" fill="#aaa"/>
<rect x="1055.8" y="339.2" width="63.7" height="3.9" rx="1.6" fill="#fff"/>
<rect x="1060.8" y="340.0" width="11" height="2.2" fill="#aaa"/>
<rect x="1106.5" y="340.0" width="9" height="2.2" fill="#aaa"/>
<rect x="1055.8" y="345.5" width="63.7" height="3.9" rx="1.6" fill="#fff"/>
<rect x="1060.8" y="346.3" width="11" height="2.2" fill="#aaa"/>
<rect x="1106.5" y="346.3" width="9" height="2.2" fill="#aaa"/>
<rect x="1055.8" y="351.8" width="63.7" height="3.9" rx="1.6" fill="#fff"/>
<rect x="1060.8" y="352.6" width="11" height="2.2" fill="#aaa"/>
<rect x="1106.5" y="352.6" width="9" height="2.2" fill="#aaa"/>
<rect x="1055.8" y="358.0" width="63.7" height="3.9" rx="1.6" fill="#fff"/>
<rect x="1060.8" y="358.8" width="11" height="2.2" fill="#aaa"/>
<rect x="1106.5" y="358.8" width="9" height="2.2" fill="#aaa"/>
<rect x="1055.8" y="364.3" width="63.7" height="3.9" rx="1.6" fill="#fff"/>
<rect x="1060.8" y="365.1" width="11" height="2.2" fill="#aaa"/>
<rect x="1106.5" y="365.1" width="9" height="2.2" fill="#aaa"/>
<rect x="1055.8" y="370.6" width="63.7" height="3.9" rx="1.6" fill="#fff"/>
<rect x="1060.8" y="371.4" width="11" height="2.2" fill="#aaa"/>
<rect x="1106.5" y="371.4" width="9" height="2.2" fill="#aaa"/>
<rect x="1055.8" y="376.8" width="63.7" height="3.9" rx="1.6" fill="#fff"/>
<rect x="1060.8" y="377.6" width="11" height="2.2" fill="#aaa"/>
<rect x="1106.5" y="377.6" width="9" height="2.2" fill="#aaa"/>
<rect x="1140.5" y="320.4" width="60.8" height="3.9" rx="1.6" fill="#fff"/>
<rect x="1145.5" y="321.2" width="11" height="2.2" fill="#aaa"/>
<rect x="1188.3" y="321.2" width="9" height="2.2" fill="#aaa"/>
<rect x="1140.5" y="326.7" width="60.8" height="3.9" rx="1.6" fill="#fff"/>
<rect x="1145.5" y="327.5" width="11" height="2.2" fill="#aaa"/>
<rect x="1188.3" y="327.5" width="9" height="2.2" fill="#aaa"/>
<rect x="1140.5" y="332.9" width="60.8" height="3.9" rx="1.6" fill="#fff"/>
<rect x="1145.5" y="333.7" width="11" height="2.2" fill="#aaa"/>
<rect x="1188.3" y="333.7" width="9" height="2.2" fill="#aaa"/>
<rect x="1140.5" y="339.2" width="60.8" height="3.9" rx="1.6" fill="#fff"/>
<rect x="1145.5" y="340.0" width="11" height="2.2" fill="#aaa"/>
<rect x="1188.3" y="340.0" width="9" height="2.2" fill="#aaa"/>
<rect x="1140.5" y="345.5" width="60.8" height="3.9" rx="1.6" fill="#fff"/>
<rect x="1145.5" y="346.3" width="11" height="2.2" fill="#aaa"/>
<rect x="1188.3" y="346.3" width="9" height="2.2" fill="#aaa"/>
<rect x="1140.5" y="351.8" width="60.8" height="3.9" rx="1.6" fill="#fff"/>
<rect x="1145.5" y="352.6" width="11" height="2.2" fill="#aaa"/>
<rect x="1188.3" y="352.6" width="9" height="2.2" fill="#aaa"/>
<rect x="1140.5" y="358.0" width="60.8" height="3.9" rx="1.6" fill="#fff"/>
<rect x="1145.5" y="358.8" width="11" height="2.2" fill="#aaa"/>
<rect x="1188.3" y="358.8" width="9" height="2.2" fill="#aaa"/>
<rect x="1140.5" y="364.3" width="60.8" height="3.9" rx="1.6" fill="#fff"/>
<rect x="1145.5" y="365.1" width="11" height="2.2" fill="#aaa"/>
<rect x="1188.3" y="365.1" width="9" height="2.2" fill="#aaa"/>
<rect x="1140.5" y="370.6" width="60.8" height="3.9" rx="1.6" fill="#fff"/>
<rect x="1145.5" y="371.4" width="11" height="2.2" fill="#aaa"/>
<rect x="1188.3" y="371.4" width="9" height="2.2" fill="#aaa"/>
<rect x="1140.5" y="376.8" width="60.8" height="3.9" rx="1.6" fill="#fff"/>
<rect x="1145.5" y="377.6" width="11" height="2.2" fill="#aaa"/>
<rect x="1188.3" y="377.6" width="9" height="2.2" fill="#aaa"/>
<rect x="1205.8" y="320.4" width="65.7" height="3.9" rx="1.6" fill="#fff"/>
<rect x="1210.8" y="321.2" width="11" height="2.2" fill="#aaa"/>
<rect x="1258.5" y="321.2" width="9" height="2.2" fill="#aaa"/>
<rect x="1205.8" y="326.7" width="65.7" height="3.9" rx="1.6" fill="#fff"/>
<rect x="1210.8" y="327.5" width="11" height="2.2" fill="#aaa"/>
<rect x="1258.5" y="327.5" width="9" height="2.2" fill="#aaa"/>
<rect x="1205.8" y="332.9" width="65.7" height="3.9" rx="1.6" fill="#fff"/>
<rect x="1210.8" y="333.7" width="11" height="2.2" fill="#aaa"/>
<rect x="1258.5" y="333.7" width="9" height="2.2" fill="#aaa"/>
<rect x="1205.8" y="339.2" width="65.7" height="3.9" rx="1.6" fill="#fff"/>
<rect x="1210.8" y="340.0" width="11" height="2.2" fill="#aaa"/>
<rect x="1258.5" y="340.0" width="9" height="2.2" fill="#aaa"/>
<rect x="1205.8" y="345.5" width="65.7" height="3.9" rx="1.6" fill="#fff"/>
<rect x="1210.8" y="346.3" width="11" height="2.2" fill="#aaa"/>
<rect x="1258.5" y="346.3" width="9" height="2.2" fill="#aaa"/>
<rect x="1205.8" y="351.8" width="65.7" height="3.9" rx="1.6" fill="#fff"/>
<rect x="1210.8" y="352.6" width="11" height="2.2" fill="#aaa"/>
<rect x="1258.5" y="352.6" width="9" height="2.2" fill="#aaa"/>
<rect x="1205.8" y="358.0" width="65.7" height="3.9" rx="1.6" fill="#fff"/>
<rect x="1210.8" y="358.8" width="11" height="2.2" fill="#aaa"/>
<rect x="1258.5" y="358.8" width="9" height="2.2" fill="#aaa"/>
<rect x="1205.8" y="364.3" width="65.7" height="3.9" rx="1.6" fill="#fff"/>
<rect x="1210.8" y="365.1" width="11" height="2.2" fill="#aaa"/>
<rect x="1258.5" y="365.1" width="9" height="2.2" fill="#aaa"/>
<rect x="1205.8" y="370.6" width="65.7" height="3.9" rx="1.6" fill="#fff"/>
<rect x="1210.8" y="371.4" width="11" height="2.2" fill="#aaa"/>
<rect x="1258.5" y="371.4" width="9" height="2.2" fill="#aaa"/>
<rect x="1205.8" y="376.8" width="65.7" height="3.9" rx="1.6" fill="#fff"/>
<rect x="1210.8" y="377.6" width="11" height="2.2" fill="#aaa"/>
<rect x="1258.5" y="377.6" width="9" height="2.2" fill="#aaa"/>
<rect x="1288.5" y="320.4" width="62.9" height="3.9" rx="1.6" fill="#fff"/>
<rect x="1293.5" y="321.2" width="11" height="2.2" fill="#aaa"/>
<rect x="1338.4" y="321.2" width="9" height="2.2" fill="#aaa"/>
<rect x="1288.5" y="326.7" width="62.9" height="3.9" rx="1.6" fill="#fff"/>
<rect x="1293.5" y="327.5" width="11" height="2.2" fill="#aaa"/>
<rect x="1338.4" y="327.5" width="9" height="2.2" fill="#aaa"/>
<rect x="1288.5" y="332.9" width="62.9" height="3.9" rx="1.6" fill="#fff"/>
<rect x="1293.5" y="333.7" width="11" height="2.2" fill="#aaa"/>
<rect x="1338.4" y="333.7" width="9" height="2.2" fill="#aaa"/>
<rect x="1288.5" y="339.2" width="62.9" height="3.9" rx="1.6" fill="#fff"/>
<rect x="1293.5" y="340.0" width="11" height="2.2" fill="#aaa"/>
<rect x="1338.4" y="340.0" width="9" height="2.2" fill="#aaa"/>
<rect x="1288.5" y="345.5" width="62.9" height="3.9" rx="1.6" fill="#fff"/>
<rect x="1293.5" y="346.3" width="11" height="2.2" fill="#aaa"/>
<rect x="1338.4" y="346.3" width="9" height="2.2" fill="#aaa"/>
<rect x="1288.5" y="351.8" width="62.9" height="3.9" rx="1.6" fill="#fff"/>
<rect x="1293.5" y="352.6" width="11" height="2.2" fill="#aaa"/>
<rect x="1338.4" y="352.6" width="9" height="2.2" fill="#aaa"/>
<rect x="1288.5" y="358.0" width="62.9" height="3.9" rx="1.6" fill="#fff"/>
<rect x="1293.5" y="358.8" width="11" height="2.2" fill="#aaa"/>
<rect x="1338.4" y="358.8" width="9" height="2.2" fill="#aaa"/>
<rect x="1288.5" y="364.3" width="62.9" height="3.9" rx="1.6" fill="#fff"/>
<rect x="1293.5" y="365.1" width="11" height="2.2" fill="#aaa"/>
<rect x="1338.4" y="365.1" width="9" height="2.2" fill="#aaa"/>
<rect x="1288.5" y="370.6" width="62.9" height="3.9" rx="1.6" fill="#fff"/>
<rect x="1293.5" y="371.4" width="11" height="2.2" fill="#aaa"/>
<rect x="1338.4" y="371.4" width="9" height="2.2" fill="#aaa"/>
<rect x="1288.5" y="376.8" width="62.9" height="3.9" rx="1.6" fill="#fff"/>
<rect x="1293.5" y="377.6" width="11" height="2.2" fill="#aaa"/>
<rect x="1338.4" y="377.6" width="9" height="2.2" fill="#aaa"/>
<rect x="1355.9" y="320.4" width="62.2" height="3.9" rx="1.6" fill="#fff"/>
<rect x="1360.9" y="321.2" width="11" height="2.2" fill="#aaa"/>
<rect x="1405.1" y="321.2" width="9" height="2.2" fill="#aaa"/>
<rect x="1355.9" y="326.7" width="62.2" height="3.9" rx="1.6" fill="#fff"/>
<rect x="1360.9" y="327.5" width="11" height="2.2" fill="#aaa"/>
<rect x="1405.1" y="327.5" width="9" height="2.2" fill="#aaa"/>
<rect x="1355.9" y="332.9" width="62.2" height="3.9" rx="1.6" fill="#fff"/>
<rect x="1360.9" y="333.7" width="11" height="2.2" fill="#aaa"/>
<rect x="1405.1" y="333.7" width="9" height="2.2" fill="#aaa"/>
<rect x="1355.9" y="339.2" width="62.2" height="3.9" rx="1.6" fill="#fff"/>
<rect x="1360.9" y="340.0" width="11" height="2.2" fill="#aaa"/>
<rect x="1405.1" y="340.0" width="9" height="2.2" fill="#aaa"/>
<rect x="1355.9" y="345.5" width="62.2" height="3.9" rx="1.6" fill="#fff"/>
<rect x="1360.9" y="346.3" width="11" height="2.2" fill="#aaa"/>
<rect x="1405.1" y="346.3" width="9" height="2.2" fill="#aaa"/>
<rect x="1355.9" y="351.8" width="62.2" height="3.9" rx="1.6" fill="#fff"/>
<rect x="1360.9" y="352.6" width="11" height="2.2" fill="#aaa"/>
<rect x="1405.1" y="352.6" width="9" height="2.2" fill="#aaa"/>
<rect x="1355.9" y="358.0" width="62.2" height="3.9" rx="1.6" fill="#fff"/>
<rect x="1360.9" y="358.8" width="11" height="2.2" fill="#aaa"/>
<rect x="1405.1" y="358.8" width="9" height="2.2" fill="#aaa"/>
<rect x="1355.9" y="364.3" width="62.2" height="3.9" rx="1.6" fill="#fff"/>
<rect x="1360.9" y="365.1" width="11" height="2.2" fill="#aaa"/>
<rect x="1405.1" y="365.1" width="9" height="2.2" fill="#aaa"/>
<rect x="1355.9" y="370.6" width="62.2" height="3.9" rx="1.6" fill="#fff"/>
<rect x="1360.9" y="371.4" width="11" height="2.2" fill="#aaa"/>
<rect x="1405.1" y="371.4" width="9" height="2.2" fill="#aaa"/>
<rect x="1355.9" y="376.8" width="62.2" height="3.9" rx="1.6" fill="#fff"/>
<rect x="1360.9" y="377.6" width="11" height="2.2" fill="#aaa"/>
<rect x="1405.1" y="377.6" width="9" height="2.2" fill="#aaa"/>
<rect x="982.0" y="320.4" width="2" height="3" fill="#ddd"/>
<rect x="985.5" y="320.4" width="2" height="3" fill="#ddd"/>
<rect x="982.0" y="326.7" width="2" height="3" fill="#ddd"/>
<rect x="985.5" y="326.7" width="2" height="3" fill="#ddd"/>
<rect x="982.0" y="332.9" width="2" height="3" fill="#ddd"/>
<rect x="985.5" y="332.9" width="2" height="3" fill="#ddd"/>
<rect x="982.0" y="339.2" width="2" height="3" fill="#ddd"/>
<rect x="985.5" y="339.2" width="2" height="3" fill="#ddd"/>
<rect x="982.0" y="345.5" width="2" height="3" fill="#ddd"/>
<rect x="985.5" y="345.5" width="2" height="3" fill="#ddd"/>
<rect x="982.0" y="351.8" width="2" height="3" fill="#ddd"/>
<rect x="985.5" y="351.8" width="2" height="3" fill="#ddd"/>
<rect x="982.0" y="358.0" width="2" height="3" fill="#ddd"/>
<rect x="985.5" y="358.0" width="2" height="3" fill="#ddd"/>
<rect x="982.0" y="364.3" width="2" height="3" fill="#ddd"/>
<rect x="985.5" y="364.3" width="2" height="3" fill="#ddd"/>
<rect x="982.0" y="370.6" width="2" height="3" fill="#ddd"/>
<rect x="985.5" y="370.6" width="2" height="3" fill="#ddd"/>
<rect x="982.0" y="376.8" width="2" height="3" fill="#ddd"/>
<rect x="985.5" y="376.8" width="2" height="3" fill="#ddd"/>
<rect x="1122.5" y="320.4" width="2" height="3" fill="#ddd"/>
<rect x="1135.5" y="320.4" width="2" height="3" fill="#ddd"/>
<rect x="1129.0" y="320.9" width="2" height="2.5" fill="#aaa"/>
<rect x="1122.5" y="326.7" width="2" height="3" fill="#ddd"/>
<rect x="1135.5" y="326.7" width="2" height="3" fill="#ddd"/>
<rect x="1129.0" y="327.2" width="2" height="2.5" fill="#aaa"/>
<rect x="1122.5" y="332.9" width="2" height="3" fill="#ddd"/>
<rect x="1135.5" y="332.9" width="2" height="3" fill="#ddd"/>
<rect x="1129.0" y="333.4" width="2" height="2.5" fill="#aaa"/>
<rect x="1122.5" y="339.2" width="2" height="3" fill="#ddd"/>
<rect x="1135.5" y="339.2" width="2" height="3" fill="#ddd"/>
<rect x="1129.0" y="339.7" width="2" height="2.5" fill="#aaa"/>
<rect x="1122.5" y="345.5" width="2" height="3" fill="#ddd"/>
<rect x="1135.5" y="345.5" width="2" height="3" fill="#ddd"/>
<rect x="1129.0" y="346.0" width="2" height="2.5" fill="#aaa"/>
<rect x="1122.5" y="351.8" width="2" height="3" fill="#ddd"/>
<rect x="1135.5" y="351.8" width="2" height="3" fill="#ddd"/>
<rect x="1129.0" y="352.2" width="2" height="2.5" fill="#aaa"/>
<rect x="1122.5" y="358.0" width="2" height="3" fill="#ddd"/>
<rect x="1135.5" y="358.0" width="2" height="3" fill="#ddd"/>
<rect x="1129.0" y="358.5" width="2" height="2.5" fill="#aaa"/>
<rect x="1122.5" y="364.3" width="2" height="3" fill="#ddd"/>
<rect x="1135.5" y="364.3" width="2" height="3" fill="#ddd"/>
<rect x="1129.0" y="364.8" width="2" height="2.5" fill="#aaa"/>
<rect x="1122.5" y="370.6" width="2" height="3" fill="#ddd"/>
<rect x="1135.5" y="370.6" width="2" height="3" fill="#ddd"/>
<rect x="1129.0" y="371.1" width="2" height="2.5" fill="#aaa"/>
<rect x="1122.5" y="376.8" width="2" height="3" fill="#ddd"/>
<rect x="1135.5" y="376.8" width="2" height="3" fill="#ddd"/>
<rect x="1129.0" y="377.3" width="2" height="2.5" fill="#aaa"/>
<rect x="1274.5" y="320.4" width="2" height="3" fill="#ddd"/>
<rect x="1283.5" y="320.4" width="2" height="3" fill="#ddd"/>
<rect x="1279.0" y="320.9" width="2" height="2.5" fill="#aaa"/>
<rect x="1274.5" y="326.7" width="2" height="3" fill="#ddd"/>
<rect x="1283.5" y="326.7" width="2" height="3" fill="#ddd"/>
<rect x="1279.0" y="327.2" width="2" height="2.5" fill="#aaa"/>
<rect x="1274.5" y="332.9" width="2" height="3" fill="#ddd"/>
<rect x="1283.5" y="332.9" width="2" height="3" fill="#ddd"/>
<rect x="1279.0" y="333.4" width="2" height="2.5" fill="#aaa"/>
<rect x="1274.5" y="339.2" width="2" height="3" fill="#ddd"/>
<rect x="1283.5" y="339.2" width="2" height="3" fill="#ddd"/>
<rect x="1279.0" y="339.7" width="2" height="2.5" fill="#aaa"/>
<rect x="1274.5" y="345.5" width="2" height="3" fill="#ddd"/>
<rect x="1283.5" y="345.5" width="2" height="3" fill="#ddd"/>
<rect x="1279.0" y="346.0" width="2" height="2.5" fill="#aaa"/>
<rect x="1274.5" y="351.8" width="2" height="3" fill="#ddd"/>
<rect x="1283.5" y="351.8" width="2" height="3" fill="#ddd"/>
<rect x="1279.0" y="352.2" width="2" height="2.5" fill="#aaa"/>
<rect x="1274.5" y="358.0" width="2" height="3" fill="#ddd"/>
<rect x="1283.5" y="358.0" width="2" height="3" fill="#ddd"/>
<rect x="1279.0" y="358.5" width="2" height="2.5" fill="#aaa"/>
<rect x="1274.5" y="364.3" width="2" height="3" fill="#ddd"/>
<rect x="1283.5" y="364.3" width="2" height="3" fill="#ddd"/>
<rect x="1279.0" y="364.8" width="2" height="2.5" fill="#aaa"/>
<rect x="1274.5" y="370.6" width="2" height="3" fill="#ddd"/>
<rect x="1283.5" y="370.6" width="2" height="3" fill="#ddd"/>
<rect x="1279.0" y="371.1" width="2" height="2.5" fill="#aaa"/>
<rect x="1274.5" y="376.8" width="2" height="3" fill="#ddd"/>
<rect x="1283.5" y="376.8" width="2" height="3" fill="#ddd"/>
<rect x="1279.0" y="377.3" width="2" height="2.5" fill="#aaa"/>
<rect x="1421.1" y="320.4" width="2" height="3" fill="#ddd"/>
<rect x="1423.8" y="320.4" width="2" height="3" fill="#ddd"/>
<rect x="1421.1" y="326.7" width="2" height="3" fill="#ddd"/>
<rect x="1423.8" y="326.7" width="2" height="3" fill="#ddd"/>
<rect x="1421.1" y="332.9" width="2" height="3" fill="#ddd"/>
<rect x="1423.8" y="332.9" width="2" height="3" fill="#ddd"/>
<rect x="1421.1" y="339.2" width="2" height="3" fill="#ddd"/>
<rect x="1423.8" y="339.2" width="2" height="3" fill="#ddd"/>
<rect x="1421.1" y="345.5" width="2" height="3" fill="#ddd"/>
<rect x="1423.8" y="345.5" width="2" height="3" fill="#ddd"/>
<rect x="1421.1" y="351.8" width="2" height="3" fill="#ddd"/>
<rect x="1423.8" y="351.8" width="2" height="3" fill="#ddd"/>
<rect x="1421.1" y="358.0" width="2" height="3" fill="#ddd"/>
<rect x="1423.8" y="358.0" width="2" height="3" fill="#ddd"/>
<rect x="1421.1" y="364.3" width="2" height="3" fill="#ddd"/>
<rect x="1423.8" y="364.3" width="2" height="3" fill="#ddd"/>
<rect x="1421.1" y="370.6" width="2" height="3" fill="#ddd"/>
<rect x="1423.8" y="370.6" width="2" height="3" fill="#ddd"/>
<rect x="1421.1" y="376.8" width="2" height="3" fill="#ddd"/>
<rect x="1423.8" y="376.8" width="2" height="3" fill="#ddd"/>
</g>
<path d="M980,322 Q1015,314 1053,321 Q1090,314 1129,321 Q1165,314 1203,321 Q1240,314 1280,321 Q1316,314 1353,321 Q1390,314 1428,321" fill="none" stroke="#222" stroke-width="1.8"/>
<g clip-path="url(#rb)">
<rect x="980.0" y="527.5" width="448.0" height="64.7" fill="#262626" />
<rect x="990.5" y="534.5" width="60.8" height="3.9" rx="1.6" fill="#fff"/>
<rect x="995.5" y="535.3" width="11" height="2.2" fill="#aaa"/>
<rect x="1038.3" y="535.3" width="9" height="2.2" fill="#aaa"/>
<rect x="990.5" y="540.8" width="60.8" height="3.9" rx="1.6" fill="#fff"/>
<rect x="995.5" y="541.6" width="11" height="2.2" fill="#aaa"/>
<rect x="1038.3" y="541.6" width="9" height="2.2" fill="#aaa"/>
<rect x="990.5" y="547.1" width="60.8" height="3.9" rx="1.6" fill="#fff"/>
<rect x="995.5" y="547.9" width="11" height="2.2" fill="#aaa"/>
<rect x="1038.3" y="547.9" width="9" height="2.2" fill="#aaa"/>
<rect x="990.5" y="553.4" width="60.8" height="3.9" rx="1.6" fill="#fff"/>
<rect x="995.5" y="554.2" width="11" height="2.2" fill="#aaa"/>
<rect x="1038.3" y="554.2" width="9" height="2.2" fill="#aaa"/>
<rect x="990.5" y="559.7" width="60.8" height="3.9" rx="1.6" fill="#fff"/>
<rect x="995.5" y="560.5" width="11" height="2.2" fill="#aaa"/>
<rect x="1038.3" y="560.5" width="9" height="2.2" fill="#aaa"/>
<rect x="990.5" y="566.0" width="60.8" height="3.9" rx="1.6" fill="#fff"/>
<rect x="995.5" y="566.8" width="11" height="2.2" fill="#aaa"/>
<rect x="1038.3" y="566.8" width="9" height="2.2" fill="#aaa"/>
<rect x="990.5" y="572.3" width="60.8" height="3.9" rx="1.6" fill="#fff"/>
<rect x="995.5" y="573.1" width="11" height="2.2" fill="#aaa"/>
<rect x="1038.3" y="573.1" width="9" height="2.2" fill="#aaa"/>
<rect x="990.5" y="578.6" width="60.8" height="3.9" rx="1.6" fill="#fff"/>
<rect x="995.5" y="579.4" width="11" height="2.2" fill="#aaa"/>
<rect x="1038.3" y="579.4" width="9" height="2.2" fill="#aaa"/>
<rect x="990.5" y="584.9" width="60.8" height="3.9" rx="1.6" fill="#fff"/>
<rect x="995.5" y="585.7" width="11" height="2.2" fill="#aaa"/>
<rect x="1038.3" y="585.7" width="9" height="2.2" fill="#aaa"/>
<rect x="1055.8" y="534.5" width="63.7" height="3.9" rx="1.6" fill="#fff"/>
<rect x="1060.8" y="535.3" width="11" height="2.2" fill="#aaa"/>
<rect x="1106.5" y="535.3" width="9" height="2.2" fill="#aaa"/>
<rect x="1055.8" y="540.8" width="63.7" height="3.9" rx="1.6" fill="#fff"/>
<rect x="1060.8" y="541.6" width="11" height="2.2" fill="#aaa"/>
<rect x="1106.5" y="541.6" width="9" height="2.2" fill="#aaa"/>
<rect x="1055.8" y="547.1" width="63.7" height="3.9" rx="1.6" fill="#fff"/>
<rect x="1060.8" y="547.9" width="11" height="2.2" fill="#aaa"/>
<rect x="1106.5" y="547.9" width="9" height="2.2" fill="#aaa"/>
<rect x="1055.8" y="553.4" width="63.7" height="3.9" rx="1.6" fill="#fff"/>
<rect x="1060.8" y="554.2" width="11" height="2.2" fill="#aaa"/>
<rect x="1106.5" y="554.2" width="9" height="2.2" fill="#aaa"/>
<rect x="1055.8" y="559.7" width="63.7" height="3.9" rx="1.6" fill="#fff"/>
<rect x="1060.8" y="560.5" width="11" height="2.2" fill="#aaa"/>
<rect x="1106.5" y="560.5" width="9" height="2.2" fill="#aaa"/>
<rect x="1055.8" y="566.0" width="63.7" height="3.9" rx="1.6" fill="#fff"/>
<rect x="1060.8" y="566.8" width="11" height="2.2" fill="#aaa"/>
<rect x="1106.5" y="566.8" width="9" height="2.2" fill="#aaa"/>
<rect x="1055.8" y="572.3" width="63.7" height="3.9" rx="1.6" fill="#fff"/>
<rect x="1060.8" y="573.1" width="11" height="2.2" fill="#aaa"/>
<rect x="1106.5" y="573.1" width="9" height="2.2" fill="#aaa"/>
<rect x="1055.8" y="578.6" width="63.7" height="3.9" rx="1.6" fill="#fff"/>
<rect x="1060.8" y="579.4" width="11" height="2.2" fill="#aaa"/>
<rect x="1106.5" y="579.4" width="9" height="2.2" fill="#aaa"/>
<rect x="1055.8" y="584.9" width="63.7" height="3.9" rx="1.6" fill="#fff"/>
<rect x="1060.8" y="585.7" width="11" height="2.2" fill="#aaa"/>
<rect x="1106.5" y="585.7" width="9" height="2.2" fill="#aaa"/>
<rect x="1140.5" y="534.5" width="60.8" height="3.9" rx="1.6" fill="#fff"/>
<rect x="1145.5" y="535.3" width="11" height="2.2" fill="#aaa"/>
<rect x="1188.3" y="535.3" width="9" height="2.2" fill="#aaa"/>
<rect x="1140.5" y="540.8" width="60.8" height="3.9" rx="1.6" fill="#fff"/>
<rect x="1145.5" y="541.6" width="11" height="2.2" fill="#aaa"/>
<rect x="1188.3" y="541.6" width="9" height="2.2" fill="#aaa"/>
<rect x="1140.5" y="547.1" width="60.8" height="3.9" rx="1.6" fill="#fff"/>
<rect x="1145.5" y="547.9" width="11" height="2.2" fill="#aaa"/>
<rect x="1188.3" y="547.9" width="9" height="2.2" fill="#aaa"/>
<rect x="1140.5" y="553.4" width="60.8" height="3.9" rx="1.6" fill="#fff"/>
<rect x="1145.5" y="554.2" width="11" height="2.2" fill="#aaa"/>
<rect x="1188.3" y="554.2" width="9" height="2.2" fill="#aaa"/>
<rect x="1140.5" y="559.7" width="60.8" height="3.9" rx="1.6" fill="#fff"/>
<rect x="1145.5" y="560.5" width="11" height="2.2" fill="#aaa"/>
<rect x="1188.3" y="560.5" width="9" height="2.2" fill="#aaa"/>
<rect x="1140.5" y="566.0" width="60.8" height="3.9" rx="1.6" fill="#fff"/>
<rect x="1145.5" y="566.8" width="11" height="2.2" fill="#aaa"/>
<rect x="1188.3" y="566.8" width="9" height="2.2" fill="#aaa"/>
<rect x="1140.5" y="572.3" width="60.8" height="3.9" rx="1.6" fill="#fff"/>
<rect x="1145.5" y="573.1" width="11" height="2.2" fill="#aaa"/>
<rect x="1188.3" y="573.1" width="9" height="2.2" fill="#aaa"/>
<rect x="1140.5" y="578.6" width="60.8" height="3.9" rx="1.6" fill="#fff"/>
<rect x="1145.5" y="579.4" width="11" height="2.2" fill="#aaa"/>
<rect x="1188.3" y="579.4" width="9" height="2.2" fill="#aaa"/>
<rect x="1140.5" y="584.9" width="60.8" height="3.9" rx="1.6" fill="#fff"/>
<rect x="1145.5" y="585.7" width="11" height="2.2" fill="#aaa"/>
<rect x="1188.3" y="585.7" width="9" height="2.2" fill="#aaa"/>
<rect x="1205.8" y="534.5" width="65.7" height="3.9" rx="1.6" fill="#fff"/>
<rect x="1210.8" y="535.3" width="11" height="2.2" fill="#aaa"/>
<rect x="1258.5" y="535.3" width="9" height="2.2" fill="#aaa"/>
<rect x="1205.8" y="540.8" width="65.7" height="3.9" rx="1.6" fill="#fff"/>
<rect x="1210.8" y="541.6" width="11" height="2.2" fill="#aaa"/>
<rect x="1258.5" y="541.6" width="9" height="2.2" fill="#aaa"/>
<rect x="1205.8" y="547.1" width="65.7" height="3.9" rx="1.6" fill="#fff"/>
<rect x="1210.8" y="547.9" width="11" height="2.2" fill="#aaa"/>
<rect x="1258.5" y="547.9" width="9" height="2.2" fill="#aaa"/>
<rect x="1205.8" y="553.4" width="65.7" height="3.9" rx="1.6" fill="#fff"/>
<rect x="1210.8" y="554.2" width="11" height="2.2" fill="#aaa"/>
<rect x="1258.5" y="554.2" width="9" height="2.2" fill="#aaa"/>
<rect x="1205.8" y="559.7" width="65.7" height="3.9" rx="1.6" fill="#fff"/>
<rect x="1210.8" y="560.5" width="11" height="2.2" fill="#aaa"/>
<rect x="1258.5" y="560.5" width="9" height="2.2" fill="#aaa"/>
<rect x="1205.8" y="566.0" width="65.7" height="3.9" rx="1.6" fill="#fff"/>
<rect x="1210.8" y="566.8" width="11" height="2.2" fill="#aaa"/>
<rect x="1258.5" y="566.8" width="9" height="2.2" fill="#aaa"/>
<rect x="1205.8" y="572.3" width="65.7" height="3.9" rx="1.6" fill="#fff"/>
<rect x="1210.8" y="573.1" width="11" height="2.2" fill="#aaa"/>
<rect x="1258.5" y="573.1" width="9" height="2.2" fill="#aaa"/>
<rect x="1205.8" y="578.6" width="65.7" height="3.9" rx="1.6" fill="#fff"/>
<rect x="1210.8" y="579.4" width="11" height="2.2" fill="#aaa"/>
<rect x="1258.5" y="579.4" width="9" height="2.2" fill="#aaa"/>
<rect x="1205.8" y="584.9" width="65.7" height="3.9" rx="1.6" fill="#fff"/>
<rect x="1210.8" y="585.7" width="11" height="2.2" fill="#aaa"/>
<rect x="1258.5" y="585.7" width="9" height="2.2" fill="#aaa"/>
<rect x="1288.5" y="534.5" width="62.9" height="3.9" rx="1.6" fill="#fff"/>
<rect x="1293.5" y="535.3" width="11" height="2.2" fill="#aaa"/>
<rect x="1338.4" y="535.3" width="9" height="2.2" fill="#aaa"/>
<rect x="1288.5" y="540.8" width="62.9" height="3.9" rx="1.6" fill="#fff"/>
<rect x="1293.5" y="541.6" width="11" height="2.2" fill="#aaa"/>
<rect x="1338.4" y="541.6" width="9" height="2.2" fill="#aaa"/>
<rect x="1288.5" y="547.1" width="62.9" height="3.9" rx="1.6" fill="#fff"/>
<rect x="1293.5" y="547.9" width="11" height="2.2" fill="#aaa"/>
<rect x="1338.4" y="547.9" width="9" height="2.2" fill="#aaa"/>
<rect x="1288.5" y="553.4" width="62.9" height="3.9" rx="1.6" fill="#fff"/>
<rect x="1293.5" y="554.2" width="11" height="2.2" fill="#aaa"/>
<rect x="1338.4" y="554.2" width="9" height="2.2" fill="#aaa"/>
<rect x="1288.5" y="559.7" width="62.9" height="3.9" rx="1.6" fill="#fff"/>
<rect x="1293.5" y="560.5" width="11" height="2.2" fill="#aaa"/>
<rect x="1338.4" y="560.5" width="9" height="2.2" fill="#aaa"/>
<rect x="1288.5" y="566.0" width="62.9" height="3.9" rx="1.6" fill="#fff"/>
<rect x="1293.5" y="566.8" width="11" height="2.2" fill="#aaa"/>
<rect x="1338.4" y="566.8" width="9" height="2.2" fill="#aaa"/>
<rect x="1288.5" y="572.3" width="62.9" height="3.9" rx="1.6" fill="#fff"/>
<rect x="1293.5" y="573.1" width="11" height="2.2" fill="#aaa"/>
<rect x="1338.4" y="573.1" width="9" height="2.2" fill="#aaa"/>
<rect x="1288.5" y="578.6" width="62.9" height="3.9" rx="1.6" fill="#fff"/>
<rect x="1293.5" y="579.4" width="11" height="2.2" fill="#aaa"/>
<rect x="1338.4" y="579.4" width="9" height="2.2" fill="#aaa"/>
<rect x="1288.5" y="584.9" width="62.9" height="3.9" rx="1.6" fill="#fff"/>
<rect x="1293.5" y="585.7" width="11" height="2.2" fill="#aaa"/>
<rect x="1338.4" y="585.7" width="9" height="2.2" fill="#aaa"/>
<rect x="1355.9" y="534.5" width="62.2" height="3.9" rx="1.6" fill="#fff"/>
<rect x="1360.9" y="535.3" width="11" height="2.2" fill="#aaa"/>
<rect x="1405.1" y="535.3" width="9" height="2.2" fill="#aaa"/>
<rect x="1355.9" y="540.8" width="62.2" height="3.9" rx="1.6" fill="#fff"/>
<rect x="1360.9" y="541.6" width="11" height="2.2" fill="#aaa"/>
<rect x="1405.1" y="541.6" width="9" height="2.2" fill="#aaa"/>
<rect x="1355.9" y="547.1" width="62.2" height="3.9" rx="1.6" fill="#fff"/>
<rect x="1360.9" y="547.9" width="11" height="2.2" fill="#aaa"/>
<rect x="1405.1" y="547.9" width="9" height="2.2" fill="#aaa"/>
<rect x="1355.9" y="553.4" width="62.2" height="3.9" rx="1.6" fill="#fff"/>
<rect x="1360.9" y="554.2" width="11" height="2.2" fill="#aaa"/>
<rect x="1405.1" y="554.2" width="9" height="2.2" fill="#aaa"/>
<rect x="1355.9" y="559.7" width="62.2" height="3.9" rx="1.6" fill="#fff"/>
<rect x="1360.9" y="560.5" width="11" height="2.2" fill="#aaa"/>
<rect x="1405.1" y="560.5" width="9" height="2.2" fill="#aaa"/>
<rect x="1355.9" y="566.0" width="62.2" height="3.9" rx="1.6" fill="#fff"/>
<rect x="1360.9" y="566.8" width="11" height="2.2" fill="#aaa"/>
<rect x="1405.1" y="566.8" width="9" height="2.2" fill="#aaa"/>
<rect x="1355.9" y="572.3" width="62.2" height="3.9" rx="1.6" fill="#fff"/>
<rect x="1360.9" y="573.1" width="11" height="2.2" fill="#aaa"/>
<rect x="1405.1" y="573.1" width="9" height="2.2" fill="#aaa"/>
<rect x="1355.9" y="578.6" width="62.2" height="3.9" rx="1.6" fill="#fff"/>
<rect x="1360.9" y="579.4" width="11" height="2.2" fill="#aaa"/>
<rect x="1405.1" y="579.4" width="9" height="2.2" fill="#aaa"/>
<rect x="1355.9" y="584.9" width="62.2" height="3.9" rx="1.6" fill="#fff"/>
<rect x="1360.9" y="585.7" width="11" height="2.2" fill="#aaa"/>
<rect x="1405.1" y="585.7" width="9" height="2.2" fill="#aaa"/>
<rect x="982.0" y="534.5" width="2" height="3" fill="#ddd"/>
<rect x="985.5" y="534.5" width="2" height="3" fill="#ddd"/>
<rect x="982.0" y="540.8" width="2" height="3" fill="#ddd"/>
<rect x="985.5" y="540.8" width="2" height="3" fill="#ddd"/>
<rect x="982.0" y="547.1" width="2" height="3" fill="#ddd"/>
<rect x="985.5" y="547.1" width="2" height="3" fill="#ddd"/>
<rect x="982.0" y="553.4" width="2" height="3" fill="#ddd"/>
<rect x="985.5" y="553.4" width="2" height="3" fill="#ddd"/>
<rect x="982.0" y="559.7" width="2" height="3" fill="#ddd"/>
<rect x="985.5" y="559.7" width="2" height="3" fill="#ddd"/>
<rect x="982.0" y="566.0" width="2" height="3" fill="#ddd"/>
<rect x="985.5" y="566.0" width="2" height="3" fill="#ddd"/>
<rect x="982.0" y="572.3" width="2" height="3" fill="#ddd"/>
<rect x="985.5" y="572.3" width="2" height="3" fill="#ddd"/>
<rect x="982.0" y="578.6" width="2" height="3" fill="#ddd"/>
<rect x="985.5" y="578.6" width="2" height="3" fill="#ddd"/>
<rect x="982.0" y="584.9" width="2" height="3" fill="#ddd"/>
<rect x="985.5" y="584.9" width="2" height="3" fill="#ddd"/>
<rect x="1122.5" y="534.5" width="2" height="3" fill="#ddd"/>
<rect x="1135.5" y="534.5" width="2" height="3" fill="#ddd"/>
<rect x="1129.0" y="535.0" width="2" height="2.5" fill="#aaa"/>
<rect x="1122.5" y="540.8" width="2" height="3" fill="#ddd"/>
<rect x="1135.5" y="540.8" width="2" height="3" fill="#ddd"/>
<rect x="1129.0" y="541.3" width="2" height="2.5" fill="#aaa"/>
<rect x="1122.5" y="547.1" width="2" height="3" fill="#ddd"/>
<rect x="1135.5" y="547.1" width="2" height="3" fill="#ddd"/>
<rect x="1129.0" y="547.6" width="2" height="2.5" fill="#aaa"/>
<rect x="1122.5" y="553.4" width="2" height="3" fill="#ddd"/>
<rect x="1135.5" y="553.4" width="2" height="3" fill="#ddd"/>
<rect x="1129.0" y="553.9" width="2" height="2.5" fill="#aaa"/>
<rect x="1122.5" y="559.7" width="2" height="3" fill="#ddd"/>
<rect x="1135.5" y="559.7" width="2" height="3" fill="#ddd"/>
<rect x="1129.0" y="560.2" width="2" height="2.5" fill="#aaa"/>
<rect x="1122.5" y="566.0" width="2" height="3" fill="#ddd"/>
<rect x="1135.5" y="566.0" width="2" height="3" fill="#ddd"/>
<rect x="1129.0" y="566.5" width="2" height="2.5" fill="#aaa"/>
<rect x="1122.5" y="572.3" width="2" height="3" fill="#ddd"/>
<rect x="1135.5" y="572.3" width="2" height="3" fill="#ddd"/>
<rect x="1129.0" y="572.8" width="2" height="2.5" fill="#aaa"/>
<rect x="1122.5" y="578.6" width="2" height="3" fill="#ddd"/>
<rect x="1135.5" y="578.6" width="2" height="3" fill="#ddd"/>
<rect x="1129.0" y="579.1" width="2" height="2.5" fill="#aaa"/>
<rect x="1122.5" y="584.9" width="2" height="3" fill="#ddd"/>
<rect x="1135.5" y="584.9" width="2" height="3" fill="#ddd"/>
<rect x="1129.0" y="585.4" width="2" height="2.5" fill="#aaa"/>
<rect x="1274.5" y="534.5" width="2" height="3" fill="#ddd"/>
<rect x="1283.5" y="534.5" width="2" height="3" fill="#ddd"/>
<rect x="1279.0" y="535.0" width="2" height="2.5" fill="#aaa"/>
<rect x="1274.5" y="540.8" width="2" height="3" fill="#ddd"/>
<rect x="1283.5" y="540.8" width="2" height="3" fill="#ddd"/>
<rect x="1279.0" y="541.3" width="2" height="2.5" fill="#aaa"/>
<rect x="1274.5" y="547.1" width="2" height="3" fill="#ddd"/>
<rect x="1283.5" y="547.1" width="2" height="3" fill="#ddd"/>
<rect x="1279.0" y="547.6" width="2" height="2.5" fill="#aaa"/>
<rect x="1274.5" y="553.4" width="2" height="3" fill="#ddd"/>
<rect x="1283.5" y="553.4" width="2" height="3" fill="#ddd"/>
<rect x="1279.0" y="553.9" width="2" height="2.5" fill="#aaa"/>
<rect x="1274.5" y="559.7" width="2" height="3" fill="#ddd"/>
<rect x="1283.5" y="559.7" width="2" height="3" fill="#ddd"/>
<rect x="1279.0" y="560.2" width="2" height="2.5" fill="#aaa"/>
<rect x="1274.5" y="566.0" width="2" height="3" fill="#ddd"/>
<rect x="1283.5" y="566.0" width="2" height="3" fill="#ddd"/>
<rect x="1279.0" y="566.5" width="2" height="2.5" fill="#aaa"/>
<rect x="1274.5" y="572.3" width="2" height="3" fill="#ddd"/>
<rect x="1283.5" y="572.3" width="2" height="3" fill="#ddd"/>
<rect x="1279.0" y="572.8" width="2" height="2.5" fill="#aaa"/>
<rect x="1274.5" y="578.6" width="2" height="3" fill="#ddd"/>
<rect x="1283.5" y="578.6" width="2" height="3" fill="#ddd"/>
<rect x="1279.0" y="579.1" width="2" height="2.5" fill="#aaa"/>
<rect x="1274.5" y="584.9" width="2" height="3" fill="#ddd"/>
<rect x="1283.5" y="584.9" width="2" height="3" fill="#ddd"/>
<rect x="1279.0" y="585.4" width="2" height="2.5" fill="#aaa"/>
<rect x="1421.1" y="534.5" width="2" height="3" fill="#ddd"/>
<rect x="1423.8" y="534.5" width="2" height="3" fill="#ddd"/>
<rect x="1421.1" y="540.8" width="2" height="3" fill="#ddd"/>
<rect x="1423.8" y="540.8" width="2" height="3" fill="#ddd"/>
<rect x="1421.1" y="547.1" width="2" height="3" fill="#ddd"/>
<rect x="1423.8" y="547.1" width="2" height="3" fill="#ddd"/>
<rect x="1421.1" y="553.4" width="2" height="3" fill="#ddd"/>
<rect x="1423.8" y="553.4" width="2" height="3" fill="#ddd"/>
<rect x="1421.1" y="559.7" width="2" height="3" fill="#ddd"/>
<rect x="1423.8" y="559.7" width="2" height="3" fill="#ddd"/>
<rect x="1421.1" y="566.0" width="2" height="3" fill="#ddd"/>
<rect x="1423.8" y="566.0" width="2" height="3" fill="#ddd"/>
<rect x="1421.1" y="572.3" width="2" height="3" fill="#ddd"/>
<rect x="1423.8" y="572.3" width="2" height="3" fill="#ddd"/>
<rect x="1421.1" y="578.6" width="2" height="3" fill="#ddd"/>
<rect x="1423.8" y="578.6" width="2" height="3" fill="#ddd"/>
<rect x="1421.1" y="584.9" width="2" height="3" fill="#ddd"/>
<rect x="1423.8" y="584.9" width="2" height="3" fill="#ddd"/>
</g>
<path d="M980,591 Q1015,598 1053,591 Q1090,598 1129,591 Q1165,598 1203,591 Q1240,598 1280,591 Q1316,598 1353,591 Q1390,598 1428,591" fill="none" stroke="#222" stroke-width="2.2"/>
<rect x="980.0" y="376.2" width="448.0" height="10.2" fill="#262626" />
<rect x="993.0" y="378.7" width="53.3" height="6.2" rx="1.5" fill="#fff"/>
<rect x="1060.3" y="378.7" width="56.7" height="6.2" rx="1.5" fill="#fff"/>
<rect x="1143.0" y="378.7" width="53.3" height="6.2" rx="1.5" fill="#fff"/>
<rect x="1210.3" y="378.7" width="58.7" height="6.2" rx="1.5" fill="#fff"/>
<rect x="1291.0" y="378.7" width="55.4" height="6.2" rx="1.5" fill="#fff"/>
<rect x="1360.4" y="378.7" width="55.2" height="6.2" rx="1.5" fill="#fff"/>
<rect x="980.0" y="524.2" width="448.0" height="8.8" fill="#262626" />
<rect x="993.0" y="526.7" width="53.3" height="4.8" rx="1.5" fill="#fff"/>
<rect x="1060.3" y="526.7" width="56.7" height="4.8" rx="1.5" fill="#fff"/>
<rect x="1143.0" y="526.7" width="53.3" height="4.8" rx="1.5" fill="#fff"/>
<rect x="1210.3" y="526.7" width="58.7" height="4.8" rx="1.5" fill="#fff"/>
<rect x="1291.0" y="526.7" width="55.4" height="4.8" rx="1.5" fill="#fff"/>
<rect x="1360.4" y="526.7" width="55.2" height="4.8" rx="1.5" fill="#fff"/>
<rect x="980.0" y="386.4" width="448.0" height="9.8" fill="#262626" />
<rect x="983.0" y="388.4" width="1.5" height="5.8" fill="#e8e8e8"/><rect x="986.5" y="388.4" width="1.5" height="5.8" fill="#e8e8e8"/><rect x="989.9" y="388.4" width="1.5" height="5.8" fill="#e8e8e8"/><rect x="993.4" y="388.4" width="1.5" height="5.8" fill="#e8e8e8"/><rect x="996.8" y="388.4" width="1.5" height="5.8" fill="#e8e8e8"/><rect x="1000.3" y="388.4" width="1.5" height="5.8" fill="#e8e8e8"/><rect x="1003.7" y="388.4" width="1.5" height="5.8" fill="#e8e8e8"/><rect x="1007.2" y="388.4" width="1.5" height="5.8" fill="#e8e8e8"/><rect x="1010.6" y="388.4" width="1.5" height="5.8" fill="#e8e8e8"/><rect x="1014.1" y="388.4" width="1.5" height="5.8" fill="#e8e8e8"/><rect x="1017.5" y="388.4" width="1.5" height="5.8" fill="#e8e8e8"/><rect x="1021.0" y="388.4" width="1.5" height="5.8" fill="#e8e8e8"/><rect x="1024.4" y="388.4" width="1.5" height="5.8" fill="#e8e8e8"/><rect x="1027.9" y="388.4" width="1.5" height="5.8" fill="#e8e8e8"/><rect x="1031.3" y="388.4" width="1.5" height="5.8" fill="#e8e8e8"/><rect x="1034.8" y="388.4" width="1.5" height="5.8" fill="#e8e8e8"/><rect x="1038.2" y="388.4" width="1.5" height="5.8" fill="#e8e8e8"/><rect x="1041.7" y="388.4" width="1.5" height="5.8" fill="#e8e8e8"/><rect x="1045.1" y="388.4" width="1.5" height="5.8" fill="#e8e8e8"/><rect x="1048.6" y="388.4" width="1.5" height="5.8" fill="#e8e8e8"/><rect x="1052.0" y="388.4" width="1.5" height="5.8" fill="#e8e8e8"/><rect x="1055.5" y="388.4" width="1.5" height="5.8" fill="#e8e8e8"/><rect x="1058.9" y="388.4" width="1.5" height="5.8" fill="#e8e8e8"/><rect x="1062.4" y="388.4" width="1.5" height="5.8" fill="#e8e8e8"/><rect x="1065.8" y="388.4" width="1.5" height="5.8" fill="#e8e8e8"/><rect x="1069.3" y="388.4" width="1.5" height="5.8" fill="#e8e8e8"/><rect x="1072.7" y="388.4" width="1.5" height="5.8" fill="#e8e8e8"/><rect x="1076.2" y="388.4" width="1.5" height="5.8" fill="#e8e8e8"/><rect x="1079.6" y="388.4" width="1.5" height="5.8" fill="#e8e8e8"/><rect x="1083.1" y="388.4" width="1.5" height="5.8" fill="#e8e8e8"/><rect x="1086.5" y="388.4" width="1.5" height="5.8" fill="#e8e8e8"/><rect x="1090.0" y="388.4" width="1.5" height="5.8" fill="#e8e8e8"/><rect x="1093.4" y="388.4" width="1.5" height="5.8" fill="#e8e8e8"/><rect x="1096.9" y="388.4" width="1.5" height="5.8" fill="#e8e8e8"/><rect x="1100.3" y="388.4" width="1.5" height="5.8" fill="#e8e8e8"/><rect x="1103.8" y="388.4" width="1.5" height="5.8" fill="#e8e8e8"/><rect x="1107.2" y="388.4" width="1.5" height="5.8" fill="#e8e8e8"/><rect x="1110.7" y="388.4" width="1.5" height="5.8" fill="#e8e8e8"/><rect x="1114.1" y="388.4" width="1.5" height="5.8" fill="#e8e8e8"/><rect x="1117.6" y="388.4" width="1.5" height="5.8" fill="#e8e8e8"/><rect x="1121.0" y="388.4" width="1.5" height="5.8" fill="#e8e8e8"/><rect x="1124.5" y="388.4" width="1.5" height="5.8" fill="#e8e8e8"/><rect x="1127.9" y="388.4" width="1.5" height="5.8" fill="#e8e8e8"/><rect x="1131.4" y="388.4" width="1.5" height="5.8" fill="#e8e8e8"/><rect x="1134.8" y="388.4" width="1.5" height="5.8" fill="#e8e8e8"/><rect x="1138.3" y="388.4" width="1.5" height="5.8" fill="#e8e8e8"/><rect x="1141.7" y="388.4" width="1.5" height="5.8" fill="#e8e8e8"/><rect x="1145.2" y="388.4" width="1.5" height="5.8" fill="#e8e8e8"/><rect x="1148.6" y="388.4" width="1.5" height="5.8" fill="#e8e8e8"/><rect x="1152.1" y="388.4" width="1.5" height="5.8" fill="#e8e8e8"/><rect x="1155.5" y="388.4" width="1.5" height="5.8" fill="#e8e8e8"/><rect x="1159.0" y="388.4" width="1.5" height="5.8" fill="#e8e8e8"/><rect x="1162.4" y="388.4" width="1.5" height="5.8" fill="#e8e8e8"/><rect x="1165.9" y="388.4" width="1.5" height="5.8" fill="#e8e8e8"/><rect x="1169.3" y="388.4" width="1.5" height="5.8" fill="#e8e8e8"/><rect x="1172.8" y="388.4" width="1.5" height="5.8" fill="#e8e8e8"/><rect x="1176.2" y="388.4" width="1.5" height="5.8" fill="#e8e8e8"/><rect x="1179.7" y="388.4" width="1.5" height="5.8" fill="#e8e8e8"/><rect x="1183.1" y="388.4" width="1.5" height="5.8" fill="#e8e8e8"/><rect x="1186.6" y="388.4" width="1.5" height="5.8" fill="#e8e8e8"/><rect x="1190.0" y="388.4" width="1.5" height="5.8" fill="#e8e8e8"/><rect x="1193.5" y="388.4" width="1.5" height="5.8" fill="#e8e8e8"/><rect x="1196.9" y="388.4" width="1.5" height="5.8" fill="#e8e8e8"/><rect x="1200.4" y="388.4" width="1.5" height="5.8" fill="#e8e8e8"/><rect x="1203.8" y="388.4" width="1.5" height="5.8" fill="#e8e8e8"/><rect x="1207.3" y="388.4" width="1.5" height="5.8" fill="#e8e8e8"/><rect x="1210.7" y="388.4" width="1.5" height="5.8" fill="#e8e8e8"/><rect x="1214.2" y="388.4" width="1.5" height="5.8" fill="#e8e8e8"/><rect x="1217.6" y="388.4" width="1.5" height="5.8" fill="#e8e8e8"/><rect x="1221.1" y="388.4" width="1.5" height="5.8" fill="#e8e8e8"/><rect x="1224.5" y="388.4" width="1.5" height="5.8" fill="#e8e8e8"/><rect x="1228.0" y="388.4" width="1.5" height="5.8" fill="#e8e8e8"/><rect x="1231.4" y="388.4" width="1.5" height="5.8" fill="#e8e8e8"/><rect x="1234.9" y="388.4" width="1.5" height="5.8" fill="#e8e8e8"/><rect x="1238.3" y="388.4" width="1.5" height="5.8" fill="#e8e8e8"/><rect x="1241.8" y="388.4" width="1.5" height="5.8" fill="#e8e8e8"/><rect x="1245.2" y="388.4" width="1.5" height="5.8" fill="#e8e8e8"/><rect x="1248.7" y="388.4" width="1.5" height="5.8" fill="#e8e8e8"/><rect x="1252.1" y="388.4" width="1.5" height="5.8" fill="#e8e8e8"/><rect x="1255.6" y="388.4" width="1.5" height="5.8" fill="#e8e8e8"/><rect x="1259.0" y="388.4" width="1.5" height="5.8" fill="#e8e8e8"/><rect x="1262.5" y="388.4" width="1.5" height="5.8" fill="#e8e8e8"/><rect x="1265.9" y="388.4" width="1.5" height="5.8" fill="#e8e8e8"/><rect x="1269.4" y="388.4" width="1.5" height="5.8" fill="#e8e8e8"/><rect x="1272.8" y="388.4" width="1.5" height="5.8" fill="#e8e8e8"/><rect x="1276.3" y="388.4" width="1.5" height="5.8" fill="#e8e8e8"/><rect x="1279.7" y="388.4" width="1.5" height="5.8" fill="#e8e8e8"/><rect x="1283.2" y="388.4" width="1.5" height="5.8" fill="#e8e8e8"/><rect x="1286.6" y="388.4" width="1.5" height="5.8" fill="#e8e8e8"/><rect x="1290.1" y="388.4" width="1.5" height="5.8" fill="#e8e8e8"/><rect x="1293.5" y="388.4" width="1.5" height="5.8" fill="#e8e8e8"/><rect x="1297.0" y="388.4" width="1.5" height="5.8" fill="#e8e8e8"/><rect x="1300.4" y="388.4" width="1.5" height="5.8" fill="#e8e8e8"/><rect x="1303.9" y="388.4" width="1.5" height="5.8" fill="#e8e8e8"/><rect x="1307.3" y="388.4" width="1.5" height="5.8" fill="#e8e8e8"/><rect x="1310.8" y="388.4" width="1.5" height="5.8" fill="#e8e8e8"/><rect x="1314.2" y="388.4" width="1.5" height="5.8" fill="#e8e8e8"/><rect x="1317.7" y="388.4" width="1.5" height="5.8" fill="#e8e8e8"/><rect x="1321.1" y="388.4" width="1.5" height="5.8" fill="#e8e8e8"/><rect x="1324.6" y="388.4" width="1.5" height="5.8" fill="#e8e8e8"/><rect x="1328.0" y="388.4" width="1.5" height="5.8" fill="#e8e8e8"/><rect x="1331.5" y="388.4" width="1.5" height="5.8" fill="#e8e8e8"/><rect x="1334.9" y="388.4" width="1.5" height="5.8" fill="#e8e8e8"/><rect x="1338.4" y="388.4" width="1.5" height="5.8" fill="#e8e8e8"/><rect x="1341.8" y="388.4" width="1.5" height="5.8" fill="#e8e8e8"/><rect x="1345.3" y="388.4" width="1.5" height="5.8" fill="#e8e8e8"/><rect x="1348.7" y="388.4" width="1.5" height="5.8" fill="#e8e8e8"/><rect x="1352.2" y="388.4" width="1.5" height="5.8" fill="#e8e8e8"/><rect x="1355.6" y="388.4" width="1.5" height="5.8" fill="#e8e8e8"/><rect x="1359.1" y="388.4" width="1.5" height="5.8" fill="#e8e8e8"/><rect x="1362.5" y="388.4" width="1.5" height="5.8" fill="#e8e8e8"/><rect x="1366.0" y="388.4" width="1.5" height="5.8" fill="#e8e8e8"/><rect x="1369.4" y="388.4" width="1.5" height="5.8" fill="#e8e8e8"/><rect x="1372.9" y="388.4" width="1.5" height="5.8" fill="#e8e8e8"/><rect x="1376.3" y="388.4" width="1.5" height="5.8" fill="#e8e8e8"/><rect x="1379.8" y="388.4" width="1.5" height="5.8" fill="#e8e8e8"/><rect x="1383.2" y="388.4" width="1.5" height="5.8" fill="#e8e8e8"/><rect x="1386.7" y="388.4" width="1.5" height="5.8" fill="#e8e8e8"/><rect x="1390.1" y="388.4" width="1.5" height="5.8" fill="#e8e8e8"/><rect x="1393.6" y="388.4" width="1.5" height="5.8" fill="#e8e8e8"/><rect x="1397.0" y="388.4" width="1.5" height="5.8" fill="#e8e8e8"/><rect x="1400.5" y="388.4" width="1.5" height="5.8" fill="#e8e8e8"/><rect x="1403.9" y="388.4" width="1.5" height="5.8" fill="#e8e8e8"/><rect x="1407.4" y="388.4" width="1.5" height="5.8" fill="#e8e8e8"/><rect x="1410.8" y="388.4" width="1.5" height="5.8" fill="#e8e8e8"/><rect x="1414.3" y="388.4" width="1.5" height="5.8" fill="#e8e8e8"/><rect x="1417.7" y="388.4" width="1.5" height="5.8" fill="#e8e8e8"/><rect x="1421.2" y="388.4" width="1.5" height="5.8" fill="#e8e8e8"/><rect x="1424.6" y="388.4" width="1.5" height="5.8" fill="#e8e8e8"/>
<rect x="980.0" y="514.4" width="448.0" height="9.8" fill="#262626" />
<rect x="983.0" y="516.4" width="1.5" height="5.8" fill="#e8e8e8"/><rect x="986.5" y="516.4" width="1.5" height="5.8" fill="#e8e8e8"/><rect x="989.9" y="516.4" width="1.5" height="5.8" fill="#e8e8e8"/><rect x="993.4" y="516.4" width="1.5" height="5.8" fill="#e8e8e8"/><rect x="996.8" y="516.4" width="1.5" height="5.8" fill="#e8e8e8"/><rect x="1000.3" y="516.4" width="1.5" height="5.8" fill="#e8e8e8"/><rect x="1003.7" y="516.4" width="1.5" height="5.8" fill="#e8e8e8"/><rect x="1007.2" y="516.4" width="1.5" height="5.8" fill="#e8e8e8"/><rect x="1010.6" y="516.4" width="1.5" height="5.8" fill="#e8e8e8"/><rect x="1014.1" y="516.4" width="1.5" height="5.8" fill="#e8e8e8"/><rect x="1017.5" y="516.4" width="1.5" height="5.8" fill="#e8e8e8"/><rect x="1021.0" y="516.4" width="1.5" height="5.8" fill="#e8e8e8"/><rect x="1024.4" y="516.4" width="1.5" height="5.8" fill="#e8e8e8"/><rect x="1027.9" y="516.4" width="1.5" height="5.8" fill="#e8e8e8"/><rect x="1031.3" y="516.4" width="1.5" height="5.8" fill="#e8e8e8"/><rect x="1034.8" y="516.4" width="1.5" height="5.8" fill="#e8e8e8"/><rect x="1038.2" y="516.4" width="1.5" height="5.8" fill="#e8e8e8"/><rect x="1041.7" y="516.4" width="1.5" height="5.8" fill="#e8e8e8"/><rect x="1045.1" y="516.4" width="1.5" height="5.8" fill="#e8e8e8"/><rect x="1048.6" y="516.4" width="1.5" height="5.8" fill="#e8e8e8"/><rect x="1052.0" y="516.4" width="1.5" height="5.8" fill="#e8e8e8"/><rect x="1055.5" y="516.4" width="1.5" height="5.8" fill="#e8e8e8"/><rect x="1058.9" y="516.4" width="1.5" height="5.8" fill="#e8e8e8"/><rect x="1062.4" y="516.4" width="1.5" height="5.8" fill="#e8e8e8"/><rect x="1065.8" y="516.4" width="1.5" height="5.8" fill="#e8e8e8"/><rect x="1069.3" y="516.4" width="1.5" height="5.8" fill="#e8e8e8"/><rect x="1072.7" y="516.4" width="1.5" height="5.8" fill="#e8e8e8"/><rect x="1076.2" y="516.4" width="1.5" height="5.8" fill="#e8e8e8"/><rect x="1079.6" y="516.4" width="1.5" height="5.8" fill="#e8e8e8"/><rect x="1083.1" y="516.4" width="1.5" height="5.8" fill="#e8e8e8"/><rect x="1086.5" y="516.4" width="1.5" height="5.8" fill="#e8e8e8"/><rect x="1090.0" y="516.4" width="1.5" height="5.8" fill="#e8e8e8"/><rect x="1093.4" y="516.4" width="1.5" height="5.8" fill="#e8e8e8"/><rect x="1096.9" y="516.4" width="1.5" height="5.8" fill="#e8e8e8"/><rect x="1100.3" y="516.4" width="1.5" height="5.8" fill="#e8e8e8"/><rect x="1103.8" y="516.4" width="1.5" height="5.8" fill="#e8e8e8"/><rect x="1107.2" y="516.4" width="1.5" height="5.8" fill="#e8e8e8"/><rect x="1110.7" y="516.4" width="1.5" height="5.8" fill="#e8e8e8"/><rect x="1114.1" y="516.4" width="1.5" height="5.8" fill="#e8e8e8"/><rect x="1117.6" y="516.4" width="1.5" height="5.8" fill="#e8e8e8"/><rect x="1121.0" y="516.4" width="1.5" height="5.8" fill="#e8e8e8"/><rect x="1124.5" y="516.4" width="1.5" height="5.8" fill="#e8e8e8"/><rect x="1127.9" y="516.4" width="1.5" height="5.8" fill="#e8e8e8"/><rect x="1131.4" y="516.4" width="1.5" height="5.8" fill="#e8e8e8"/><rect x="1134.8" y="516.4" width="1.5" height="5.8" fill="#e8e8e8"/><rect x="1138.3" y="516.4" width="1.5" height="5.8" fill="#e8e8e8"/><rect x="1141.7" y="516.4" width="1.5" height="5.8" fill="#e8e8e8"/><rect x="1145.2" y="516.4" width="1.5" height="5.8" fill="#e8e8e8"/><rect x="1148.6" y="516.4" width="1.5" height="5.8" fill="#e8e8e8"/><rect x="1152.1" y="516.4" width="1.5" height="5.8" fill="#e8e8e8"/><rect x="1155.5" y="516.4" width="1.5" height="5.8" fill="#e8e8e8"/><rect x="1159.0" y="516.4" width="1.5" height="5.8" fill="#e8e8e8"/><rect x="1162.4" y="516.4" width="1.5" height="5.8" fill="#e8e8e8"/><rect x="1165.9" y="516.4" width="1.5" height="5.8" fill="#e8e8e8"/><rect x="1169.3" y="516.4" width="1.5" height="5.8" fill="#e8e8e8"/><rect x="1172.8" y="516.4" width="1.5" height="5.8" fill="#e8e8e8"/><rect x="1176.2" y="516.4" width="1.5" height="5.8" fill="#e8e8e8"/><rect x="1179.7" y="516.4" width="1.5" height="5.8" fill="#e8e8e8"/><rect x="1183.1" y="516.4" width="1.5" height="5.8" fill="#e8e8e8"/><rect x="1186.6" y="516.4" width="1.5" height="5.8" fill="#e8e8e8"/><rect x="1190.0" y="516.4" width="1.5" height="5.8" fill="#e8e8e8"/><rect x="1193.5" y="516.4" width="1.5" height="5.8" fill="#e8e8e8"/><rect x="1196.9" y="516.4" width="1.5" height="5.8" fill="#e8e8e8"/><rect x="1200.4" y="516.4" width="1.5" height="5.8" fill="#e8e8e8"/><rect x="1203.8" y="516.4" width="1.5" height="5.8" fill="#e8e8e8"/><rect x="1207.3" y="516.4" width="1.5" height="5.8" fill="#e8e8e8"/><rect x="1210.7" y="516.4" width="1.5" height="5.8" fill="#e8e8e8"/><rect x="1214.2" y="516.4" width="1.5" height="5.8" fill="#e8e8e8"/><rect x="1217.6" y="516.4" width="1.5" height="5.8" fill="#e8e8e8"/><rect x="1221.1" y="516.4" width="1.5" height="5.8" fill="#e8e8e8"/><rect x="1224.5" y="516.4" width="1.5" height="5.8" fill="#e8e8e8"/><rect x="1228.0" y="516.4" width="1.5" height="5.8" fill="#e8e8e8"/><rect x="1231.4" y="516.4" width="1.5" height="5.8" fill="#e8e8e8"/><rect x="1234.9" y="516.4" width="1.5" height="5.8" fill="#e8e8e8"/><rect x="1238.3" y="516.4" width="1.5" height="5.8" fill="#e8e8e8"/><rect x="1241.8" y="516.4" width="1.5" height="5.8" fill="#e8e8e8"/><rect x="1245.2" y="516.4" width="1.5" height="5.8" fill="#e8e8e8"/><rect x="1248.7" y="516.4" width="1.5" height="5.8" fill="#e8e8e8"/><rect x="1252.1" y="516.4" width="1.5" height="5.8" fill="#e8e8e8"/><rect x="1255.6" y="516.4" width="1.5" height="5.8" fill="#e8e8e8"/><rect x="1259.0" y="516.4" width="1.5" height="5.8" fill="#e8e8e8"/><rect x="1262.5" y="516.4" width="1.5" height="5.8" fill="#e8e8e8"/><rect x="1265.9" y="516.4" width="1.5" height="5.8" fill="#e8e8e8"/><rect x="1269.4" y="516.4" width="1.5" height="5.8" fill="#e8e8e8"/><rect x="1272.8" y="516.4" width="1.5" height="5.8" fill="#e8e8e8"/><rect x="1276.3" y="516.4" width="1.5" height="5.8" fill="#e8e8e8"/><rect x="1279.7" y="516.4" width="1.5" height="5.8" fill="#e8e8e8"/><rect x="1283.2" y="516.4" width="1.5" height="5.8" fill="#e8e8e8"/><rect x="1286.6" y="516.4" width="1.5" height="5.8" fill="#e8e8e8"/><rect x="1290.1" y="516.4" width="1.5" height="5.8" fill="#e8e8e8"/><rect x="1293.5" y="516.4" width="1.5" height="5.8" fill="#e8e8e8"/><rect x="1297.0" y="516.4" width="1.5" height="5.8" fill="#e8e8e8"/><rect x="1300.4" y="516.4" width="1.5" height="5.8" fill="#e8e8e8"/><rect x="1303.9" y="516.4" width="1.5" height="5.8" fill="#e8e8e8"/><rect x="1307.3" y="516.4" width="1.5" height="5.8" fill="#e8e8e8"/><rect x="1310.8" y="516.4" width="1.5" height="5.8" fill="#e8e8e8"/><rect x="1314.2" y="516.4" width="1.5" height="5.8" fill="#e8e8e8"/><rect x="1317.7" y="516.4" width="1.5" height="5.8" fill="#e8e8e8"/><rect x="1321.1" y="516.4" width="1.5" height="5.8" fill="#e8e8e8"/><rect x="1324.6" y="516.4" width="1.5" height="5.8" fill="#e8e8e8"/><rect x="1328.0" y="516.4" width="1.5" height="5.8" fill="#e8e8e8"/><rect x="1331.5" y="516.4" width="1.5" height="5.8" fill="#e8e8e8"/><rect x="1334.9" y="516.4" width="1.5" height="5.8" fill="#e8e8e8"/><rect x="1338.4" y="516.4" width="1.5" height="5.8" fill="#e8e8e8"/><rect x="1341.8" y="516.4" width="1.5" height="5.8" fill="#e8e8e8"/><rect x="1345.3" y="516.4" width="1.5" height="5.8" fill="#e8e8e8"/><rect x="1348.7" y="516.4" width="1.5" height="5.8" fill="#e8e8e8"/><rect x="1352.2" y="516.4" width="1.5" height="5.8" fill="#e8e8e8"/><rect x="1355.6" y="516.4" width="1.5" height="5.8" fill="#e8e8e8"/><rect x="1359.1" y="516.4" width="1.5" height="5.8" fill="#e8e8e8"/><rect x="1362.5" y="516.4" width="1.5" height="5.8" fill="#e8e8e8"/><rect x="1366.0" y="516.4" width="1.5" height="5.8" fill="#e8e8e8"/><rect x="1369.4" y="516.4" width="1.5" height="5.8" fill="#e8e8e8"/><rect x="1372.9" y="516.4" width="1.5" height="5.8" fill="#e8e8e8"/><rect x="1376.3" y="516.4" width="1.5" height="5.8" fill="#e8e8e8"/><rect x="1379.8" y="516.4" width="1.5" height="5.8" fill="#e8e8e8"/><rect x="1383.2" y="516.4" width="1.5" height="5.8" fill="#e8e8e8"/><rect x="1386.7" y="516.4" width="1.5" height="5.8" fill="#e8e8e8"/><rect x="1390.1" y="516.4" width="1.5" height="5.8" fill="#e8e8e8"/><rect x="1393.6" y="516.4" width="1.5" height="5.8" fill="#e8e8e8"/><rect x="1397.0" y="516.4" width="1.5" height="5.8" fill="#e8e8e8"/><rect x="1400.5" y="516.4" width="1.5" height="5.8" fill="#e8e8e8"/><rect x="1403.9" y="516.4" width="1.5" height="5.8" fill="#e8e8e8"/><rect x="1407.4" y="516.4" width="1.5" height="5.8" fill="#e8e8e8"/><rect x="1410.8" y="516.4" width="1.5" height="5.8" fill="#e8e8e8"/><rect x="1414.3" y="516.4" width="1.5" height="5.8" fill="#e8e8e8"/><rect x="1417.7" y="516.4" width="1.5" height="5.8" fill="#e8e8e8"/><rect x="1421.2" y="516.4" width="1.5" height="5.8" fill="#e8e8e8"/><rect x="1424.6" y="516.4" width="1.5" height="5.8" fill="#e8e8e8"/>
<rect x="981" y="396.4" width="447" height="15.0" fill="#fff" stroke="#222" stroke-width="2.4"/>
<rect x="1127.8" y="396.4" width="4.4" height="15.0" fill="#222" />
<rect x="1277.8" y="396.4" width="4.4" height="15.0" fill="#222" />
<rect x="1011.0" y="395.9" width="13" height="16" rx="4" fill="#222"/>
<circle cx="1008.5" cy="403.9" r="2.6" fill="#fff" stroke="#222" stroke-width="1.8"/>
<circle cx="1026.5" cy="403.9" r="2.6" fill="#fff" stroke="#222" stroke-width="1.8"/>
<circle cx="1017.5" cy="403.9" r="1" fill="#777"/>
<rect x="1059.1" y="395.9" width="13" height="16" rx="4" fill="#222"/>
<circle cx="1056.6" cy="403.9" r="2.6" fill="#fff" stroke="#222" stroke-width="1.8"/>
<circle cx="1074.6" cy="403.9" r="2.6" fill="#fff" stroke="#222" stroke-width="1.8"/>
<circle cx="1065.6" cy="403.9" r="1" fill="#777"/>
<line x1="1092.4" y1="403.9" x2="1110.4" y2="403.9" stroke="#222" stroke-width="1.6" />
<line x1="1101.4" y1="403.9" x2="1107.9" y2="406.6" stroke="#222" stroke-width="1.8"/><line x1="1101.4" y1="403.9" x2="1104.1" y2="410.4" stroke="#222" stroke-width="1.8"/><line x1="1101.4" y1="403.9" x2="1098.7" y2="410.4" stroke="#222" stroke-width="1.8"/><line x1="1101.4" y1="403.9" x2="1094.9" y2="406.6" stroke="#222" stroke-width="1.8"/><line x1="1101.4" y1="403.9" x2="1094.9" y2="401.2" stroke="#222" stroke-width="1.8"/><line x1="1101.4" y1="403.9" x2="1098.7" y2="397.4" stroke="#222" stroke-width="1.8"/><line x1="1101.4" y1="403.9" x2="1104.1" y2="397.4" stroke="#222" stroke-width="1.8"/><line x1="1101.4" y1="403.9" x2="1107.9" y2="401.2" stroke="#222" stroke-width="1.8"/><circle cx="1101.4" cy="403.9" r="3.3" fill="#222"/>
<rect x="1159.9" y="395.9" width="13" height="16" rx="4" fill="#222"/>
<circle cx="1157.4" cy="403.9" r="2.6" fill="#fff" stroke="#222" stroke-width="1.8"/>
<circle cx="1175.4" cy="403.9" r="2.6" fill="#fff" stroke="#222" stroke-width="1.8"/>
<circle cx="1166.4" cy="403.9" r="1" fill="#777"/>
<rect x="1207.9" y="395.9" width="13" height="16" rx="4" fill="#222"/>
<circle cx="1205.4" cy="403.9" r="2.6" fill="#fff" stroke="#222" stroke-width="1.8"/>
<circle cx="1223.4" cy="403.9" r="2.6" fill="#fff" stroke="#222" stroke-width="1.8"/>
<circle cx="1214.4" cy="403.9" r="1" fill="#777"/>
<line x1="1242.3" y1="403.9" x2="1260.3" y2="403.9" stroke="#222" stroke-width="1.6" />
<line x1="1251.3" y1="403.9" x2="1257.8" y2="406.6" stroke="#222" stroke-width="1.8"/><line x1="1251.3" y1="403.9" x2="1254.0" y2="410.4" stroke="#222" stroke-width="1.8"/><line x1="1251.3" y1="403.9" x2="1248.6" y2="410.4" stroke="#222" stroke-width="1.8"/><line x1="1251.3" y1="403.9" x2="1244.8" y2="406.6" stroke="#222" stroke-width="1.8"/><line x1="1251.3" y1="403.9" x2="1244.8" y2="401.2" stroke="#222" stroke-width="1.8"/><line x1="1251.3" y1="403.9" x2="1248.6" y2="397.4" stroke="#222" stroke-width="1.8"/><line x1="1251.3" y1="403.9" x2="1254.0" y2="397.4" stroke="#222" stroke-width="1.8"/><line x1="1251.3" y1="403.9" x2="1257.8" y2="401.2" stroke="#222" stroke-width="1.8"/><circle cx="1251.3" cy="403.9" r="3.3" fill="#222"/>
<rect x="1310.6" y="395.9" width="13" height="16" rx="4" fill="#222"/>
<circle cx="1308.1" cy="403.9" r="2.6" fill="#fff" stroke="#222" stroke-width="1.8"/>
<circle cx="1326.1" cy="403.9" r="2.6" fill="#fff" stroke="#222" stroke-width="1.8"/>
<circle cx="1317.1" cy="403.9" r="1" fill="#777"/>
<rect x="1358.7" y="395.9" width="13" height="16" rx="4" fill="#222"/>
<circle cx="1356.2" cy="403.9" r="2.6" fill="#fff" stroke="#222" stroke-width="1.8"/>
<circle cx="1374.2" cy="403.9" r="2.6" fill="#fff" stroke="#222" stroke-width="1.8"/>
<circle cx="1365.2" cy="403.9" r="1" fill="#777"/>
<line x1="1392.5" y1="403.9" x2="1410.5" y2="403.9" stroke="#222" stroke-width="1.6" />
<line x1="1401.5" y1="403.9" x2="1408.0" y2="406.6" stroke="#222" stroke-width="1.8"/><line x1="1401.5" y1="403.9" x2="1404.2" y2="410.4" stroke="#222" stroke-width="1.8"/><line x1="1401.5" y1="403.9" x2="1398.8" y2="410.4" stroke="#222" stroke-width="1.8"/><line x1="1401.5" y1="403.9" x2="1395.0" y2="406.6" stroke="#222" stroke-width="1.8"/><line x1="1401.5" y1="403.9" x2="1395.0" y2="401.2" stroke="#222" stroke-width="1.8"/><line x1="1401.5" y1="403.9" x2="1398.8" y2="397.4" stroke="#222" stroke-width="1.8"/><line x1="1401.5" y1="403.9" x2="1404.2" y2="397.4" stroke="#222" stroke-width="1.8"/><line x1="1401.5" y1="403.9" x2="1408.0" y2="401.2" stroke="#222" stroke-width="1.8"/><circle cx="1401.5" cy="403.9" r="3.3" fill="#222"/>
<rect x="981" y="498.2" width="447" height="15.4" fill="#fff" stroke="#222" stroke-width="2.4"/>
<rect x="1127.8" y="498.2" width="4.4" height="15.4" fill="#222" />
<rect x="1277.8" y="498.2" width="4.4" height="15.4" fill="#222" />
<line x1="997.5" y1="505.9" x2="1015.5" y2="505.9" stroke="#222" stroke-width="1.6" />
<line x1="1006.5" y1="505.9" x2="1013.0" y2="508.6" stroke="#222" stroke-width="1.8"/><line x1="1006.5" y1="505.9" x2="1009.2" y2="512.4" stroke="#222" stroke-width="1.8"/><line x1="1006.5" y1="505.9" x2="1003.8" y2="512.4" stroke="#222" stroke-width="1.8"/><line x1="1006.5" y1="505.9" x2="1000.0" y2="508.6" stroke="#222" stroke-width="1.8"/><line x1="1006.5" y1="505.9" x2="1000.0" y2="503.2" stroke="#222" stroke-width="1.8"/><line x1="1006.5" y1="505.9" x2="1003.8" y2="499.4" stroke="#222" stroke-width="1.8"/><line x1="1006.5" y1="505.9" x2="1009.2" y2="499.4" stroke="#222" stroke-width="1.8"/><line x1="1006.5" y1="505.9" x2="1013.0" y2="503.2" stroke="#222" stroke-width="1.8"/><circle cx="1006.5" cy="505.9" r="3.3" fill="#222"/>
<rect x="1035.8" y="497.9" width="13" height="16" rx="4" fill="#222"/>
<circle cx="1033.3" cy="505.9" r="2.6" fill="#fff" stroke="#222" stroke-width="1.8"/>
<circle cx="1051.3" cy="505.9" r="2.6" fill="#fff" stroke="#222" stroke-width="1.8"/>
<circle cx="1042.3" cy="505.9" r="1" fill="#777"/>
<rect x="1083.8" y="497.9" width="13" height="16" rx="4" fill="#222"/>
<circle cx="1081.3" cy="505.9" r="2.6" fill="#fff" stroke="#222" stroke-width="1.8"/>
<circle cx="1099.3" cy="505.9" r="2.6" fill="#fff" stroke="#222" stroke-width="1.8"/>
<circle cx="1090.3" cy="505.9" r="1" fill="#777"/>
<line x1="1146.3" y1="505.9" x2="1164.3" y2="505.9" stroke="#222" stroke-width="1.6" />
<line x1="1155.3" y1="505.9" x2="1161.8" y2="508.6" stroke="#222" stroke-width="1.8"/><line x1="1155.3" y1="505.9" x2="1158.0" y2="512.4" stroke="#222" stroke-width="1.8"/><line x1="1155.3" y1="505.9" x2="1152.6" y2="512.4" stroke="#222" stroke-width="1.8"/><line x1="1155.3" y1="505.9" x2="1148.8" y2="508.6" stroke="#222" stroke-width="1.8"/><line x1="1155.3" y1="505.9" x2="1148.8" y2="503.2" stroke="#222" stroke-width="1.8"/><line x1="1155.3" y1="505.9" x2="1152.6" y2="499.4" stroke="#222" stroke-width="1.8"/><line x1="1155.3" y1="505.9" x2="1158.0" y2="499.4" stroke="#222" stroke-width="1.8"/><line x1="1155.3" y1="505.9" x2="1161.8" y2="503.2" stroke="#222" stroke-width="1.8"/><circle cx="1155.3" cy="505.9" r="3.3" fill="#222"/>
<rect x="1185.7" y="497.9" width="13" height="16" rx="4" fill="#222"/>
<circle cx="1183.2" cy="505.9" r="2.6" fill="#fff" stroke="#222" stroke-width="1.8"/>
<circle cx="1201.2" cy="505.9" r="2.6" fill="#fff" stroke="#222" stroke-width="1.8"/>
<circle cx="1192.2" cy="505.9" r="1" fill="#777"/>
<rect x="1233.8" y="497.9" width="13" height="16" rx="4" fill="#222"/>
<circle cx="1231.3" cy="505.9" r="2.6" fill="#fff" stroke="#222" stroke-width="1.8"/>
<circle cx="1249.3" cy="505.9" r="2.6" fill="#fff" stroke="#222" stroke-width="1.8"/>
<circle cx="1240.3" cy="505.9" r="1" fill="#777"/>
<line x1="1297.0" y1="505.9" x2="1315.0" y2="505.9" stroke="#222" stroke-width="1.6" />
<line x1="1306.0" y1="505.9" x2="1312.5" y2="508.6" stroke="#222" stroke-width="1.8"/><line x1="1306.0" y1="505.9" x2="1308.7" y2="512.4" stroke="#222" stroke-width="1.8"/><line x1="1306.0" y1="505.9" x2="1303.3" y2="512.4" stroke="#222" stroke-width="1.8"/><line x1="1306.0" y1="505.9" x2="1299.5" y2="508.6" stroke="#222" stroke-width="1.8"/><line x1="1306.0" y1="505.9" x2="1299.5" y2="503.2" stroke="#222" stroke-width="1.8"/><line x1="1306.0" y1="505.9" x2="1303.3" y2="499.4" stroke="#222" stroke-width="1.8"/><line x1="1306.0" y1="505.9" x2="1308.7" y2="499.4" stroke="#222" stroke-width="1.8"/><line x1="1306.0" y1="505.9" x2="1312.5" y2="503.2" stroke="#222" stroke-width="1.8"/><circle cx="1306.0" cy="505.9" r="3.3" fill="#222"/>
<rect x="1335.0" y="497.9" width="13" height="16" rx="4" fill="#222"/>
<circle cx="1332.5" cy="505.9" r="2.6" fill="#fff" stroke="#222" stroke-width="1.8"/>
<circle cx="1350.5" cy="505.9" r="2.6" fill="#fff" stroke="#222" stroke-width="1.8"/>
<circle cx="1341.5" cy="505.9" r="1" fill="#777"/>
<rect x="1383.1" y="497.9" width="13" height="16" rx="4" fill="#222"/>
<circle cx="1380.6" cy="505.9" r="2.6" fill="#fff" stroke="#222" stroke-width="1.8"/>
<circle cx="1398.6" cy="505.9" r="2.6" fill="#fff" stroke="#222" stroke-width="1.8"/>
<circle cx="1389.6" cy="505.9" r="1" fill="#777"/>
<line x1="983.0" y1="415.7" x2="1428.0" y2="415.7" stroke="#222" stroke-width="2.6" />
<line x1="983.0" y1="494.2" x2="1428.0" y2="494.2" stroke="#222" stroke-width="2.6" />
<line x1="983.0" y1="411.0" x2="983.0" y2="498.0" stroke="#222" stroke-width="2.6" />
<line x1="1123.9" y1="411.0" x2="1123.9" y2="498.0" stroke="#222" stroke-width="2.4" />
<line x1="1133.0" y1="411.0" x2="1133.0" y2="498.0" stroke="#222" stroke-width="2.4" />
<line x1="1273.5" y1="411.0" x2="1273.5" y2="498.0" stroke="#222" stroke-width="2.4" />
<line x1="1282.7" y1="411.0" x2="1282.7" y2="498.0" stroke="#222" stroke-width="2.4" />
<line x1="1424.5" y1="415.7" x2="1424.5" y2="494.2" stroke="#222" stroke-width="2.2" />
<line x1="1424.5" y1="417.0" x2="1437.6" y2="417.0" stroke="#222" stroke-width="2" />
<line x1="1424.5" y1="493.0" x2="1437.6" y2="493.0" stroke="#222" stroke-width="2" />
<line x1="968.8" y1="417.0" x2="983.0" y2="417.0" stroke="#222" stroke-width="2" />
<line x1="968.8" y1="492.1" x2="983.0" y2="492.1" stroke="#222" stroke-width="2" />
<line x1="1200.5" y1="416.5" x2="1200.5" y2="443.0" stroke="#222" stroke-width="2" />
<line x1="1200.5" y1="467.0" x2="1200.5" y2="493.5" stroke="#222" stroke-width="2" />
<line x1="965.8" y1="437.0" x2="965.8" y2="473.0" stroke="#222" stroke-width="1.8" />
<path d="M965.8,437.0 L968.8,444.0 L962.8,444.0 Z" fill="#222"/>
<path d="M965.8,473.0 L962.8,466.0 L968.8,466.0 Z" fill="#222"/>
<line x1="1441.2" y1="437.0" x2="1441.2" y2="473.0" stroke="#222" stroke-width="1.8" />
<path d="M1441.2,437.0 L1444.2,444.0 L1438.2,444.0 Z" fill="#222"/>
<path d="M1441.2,473.0 L1438.2,466.0 L1444.2,466.0 Z" fill="#222"/>
<line x1="913.4" y1="402.8" x2="964.0" y2="402.8" stroke="#222" stroke-width="2" />
<line x1="913.4" y1="506.9" x2="964.0" y2="506.9" stroke="#222" stroke-width="2" />
<line x1="928.2" y1="404.0" x2="928.2" y2="505.7" stroke="#222" stroke-width="2" />
<path d="M928.2,403.5 L932.8,418.5 L923.6,418.5 Z" fill="#222"/>
<path d="M928.2,506.0 L923.6,491.0 L932.8,491.0 Z" fill="#222"/>
<text x="895" y="460" font-size="25.5" style="font-style:italic">L</text>
<text x="911.5" y="464.4" font-size="17">1</text>
<line x1="1042.0" y1="513.0" x2="1042.0" y2="668.7" stroke="#222" stroke-width="2" />
<line x1="1090.0" y1="513.0" x2="1090.0" y2="668.7" stroke="#222" stroke-width="2" />
<line x1="1192.2" y1="513.0" x2="1192.2" y2="668.7" stroke="#222" stroke-width="2" />
<line x1="1240.3" y1="513.0" x2="1240.3" y2="668.7" stroke="#222" stroke-width="2" />
<line x1="1341.5" y1="513.0" x2="1341.5" y2="668.7" stroke="#222" stroke-width="2" />
<line x1="1389.6" y1="513.0" x2="1389.6" y2="668.7" stroke="#222" stroke-width="2" />
<line x1="902.0" y1="653.9" x2="1458.0" y2="653.9" stroke="#222" stroke-width="2" />
<path d="M976.7,653.9 L990.7,649.7 L990.7,658.1 Z" fill="#222"/>
<path d="M1041.0,653.9 L1027.0,658.1 L1027.0,649.7 Z" fill="#222"/>
<path d="M1043.0,653.9 L1057.0,649.7 L1057.0,658.1 Z" fill="#222"/>
<path d="M1089.0,653.9 L1075.0,658.1 L1075.0,649.7 Z" fill="#222"/>
<path d="M1091.0,653.9 L1105.0,649.7 L1105.0,658.1 Z" fill="#222"/>
<path d="M1191.2,653.9 L1177.2,658.1 L1177.2,649.7 Z" fill="#222"/>
<path d="M1193.2,653.9 L1207.2,649.7 L1207.2,658.1 Z" fill="#222"/>
<path d="M1239.3,653.9 L1225.3,658.1 L1225.3,649.7 Z" fill="#222"/>
<path d="M1241.3,653.9 L1255.3,649.7 L1255.3,658.1 Z" fill="#222"/>
<path d="M1340.5,653.9 L1326.5,658.1 L1326.5,649.7 Z" fill="#222"/>
<path d="M1342.5,653.9 L1356.5,649.7 L1356.5,658.1 Z" fill="#222"/>
<path d="M1388.6,653.9 L1374.6,658.1 L1374.6,649.7 Z" fill="#222"/>
<text x="908.0" y="644.5" font-size="25" style="font-style:italic">L</text>
<text x="923.5" y="650.0" font-size="15.5" style="font-weight:bold">ш.вх</text>
<text x="1115.0" y="644.5" font-size="25" style="font-style:italic">L</text>
<text x="1130.5" y="650.0" font-size="15.5" style="font-weight:bold">ш.вх</text>
<text x="1266.5" y="644.5" font-size="25" style="font-style:italic">L</text>
<text x="1282.0" y="650.0" font-size="15.5" style="font-weight:bold">ш.вх</text>
<text x="1405.0" y="644.5" font-size="25" style="font-style:italic">L</text>
<text x="1420.5" y="650.0" font-size="15.5" style="font-weight:bold">ш.вх</text>
<path d="M1066.6,653.9 L1092.5,720.4 L1160.8,720.4" fill="none" stroke="#222" stroke-width="2.2" />
<path d="M1216.2,653.9 L1242,720.4 L1310.5,720.4" fill="none" stroke="#222" stroke-width="2.2" />
<text x="1104.0" y="711.0" font-size="25" style="font-style:italic">L</text>
<text x="1119.5" y="716.5" font-size="15.5" style="font-weight:bold">ш.вх</text>
<text x="1253.5" y="711.0" font-size="25" style="font-style:italic">L</text>
<text x="1269.0" y="716.5" font-size="15.5" style="font-weight:bold">ш.вх</text>
</svg>
<div class="t" style="left:158px;top:155px;font-size:27.5px;font-weight:bold;">ГОСТ Р 71705—2024</div>
<div class="t" style="left:414px;top:1699px;font-size:22px;">а) Вид спереди</div>
<div class="t" style="left:1025.5px;top:1699px;font-size:22.2px;">б) Вид сверху в сечении А</div>
<div class="t" style="left:158px;top:2114px;font-size:25px;">6</div>
<div class="p" style="top:1758px;">
<div class="j"><i>B</i> — ширина аппарата по осям стоек; <i>H</i><sub>1</sub> — высота опорной металлоконструкции до основания А-образного металлического</div>
<div class="j">каркаса; <i>H</i><sub>2</sub> — общая высота аппарата; <i>L</i><sub>ш.вх</sub> — расстояние между штуцерами входа; <i>L</i><sub>ш.вых</sub> — расстояние между штуцерами</div>
<div class="c">выхода; <i>L</i><sub>1</sub> — расстояние между блоками секций на входе</div>
</div>
<div class="t" style="left:0;width:1654px;top:1855px;font-size:25px;text-align:center;"><span style="position:relative;left:0px">Рисунок 2 — Типовая конструкция АВШ, вид спереди</span></div>
</body></html>
